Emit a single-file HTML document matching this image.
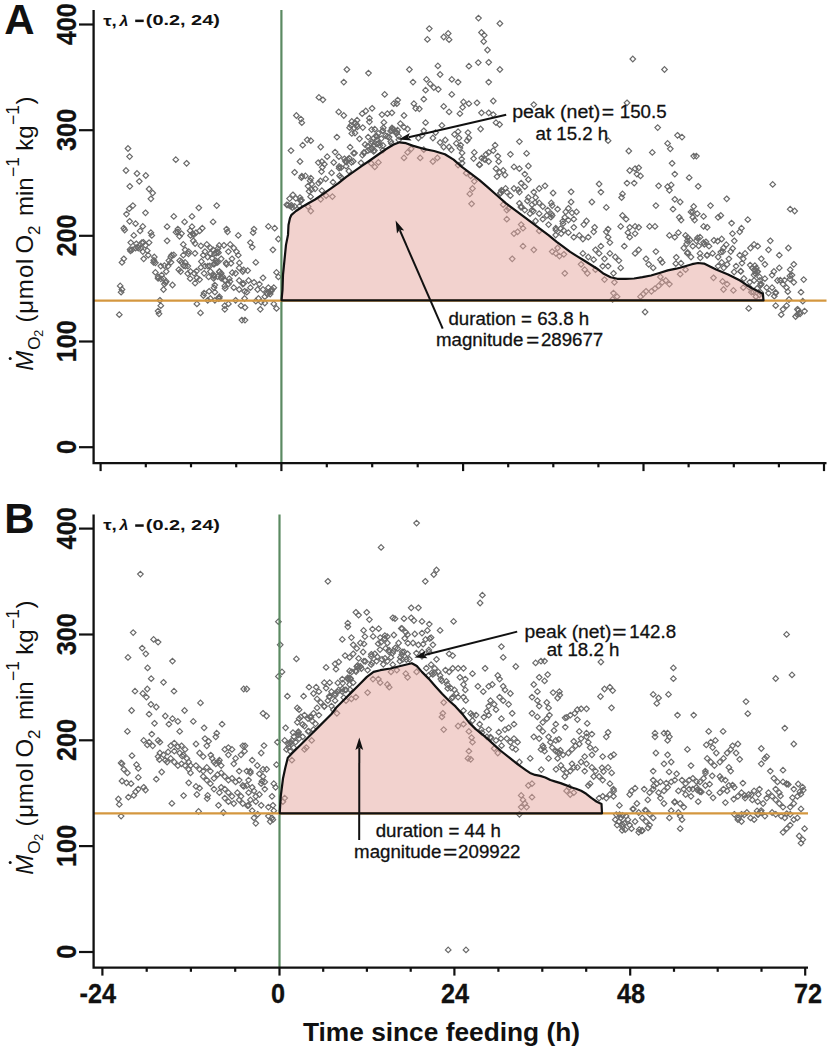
<!DOCTYPE html>
<html><head><meta charset="utf-8"><style>
html,body{margin:0;padding:0;background:#fff;}
svg{display:block;font-family:"Liberation Sans",sans-serif;}
.b{font-weight:bold;}
text{fill:#111;}
.ann{stroke:#111;stroke-width:0.3;}
.pts path{fill:none;stroke:#6a6a6a;stroke-width:1.2;}
</style></head><body>
<svg width="832" height="1052" viewBox="0 0 832 1052">
<g class="pts">
<path d="M128.0 145.7l2.8 2.8l-2.8 2.8l-2.8 -2.8z"/>
<path d="M129.6 153.8l2.8 2.8l-2.8 2.8l-2.8 -2.8z"/>
<path d="M126.0 167.7l2.8 2.8l-2.8 2.8l-2.8 -2.8z"/>
<path d="M137.0 170.7l2.8 2.8l-2.8 2.8l-2.8 -2.8z"/>
<path d="M145.8 172.7l2.8 2.8l-2.8 2.8l-2.8 -2.8z"/>
<path d="M139.3 178.5l2.8 2.8l-2.8 2.8l-2.8 -2.8z"/>
<path d="M129.8 183.5l2.8 2.8l-2.8 2.8l-2.8 -2.8z"/>
<path d="M149.1 186.2l2.8 2.8l-2.8 2.8l-2.8 -2.8z"/>
<path d="M152.7 190.2l2.8 2.8l-2.8 2.8l-2.8 -2.8z"/>
<path d="M150.9 196.0l2.8 2.8l-2.8 2.8l-2.8 -2.8z"/>
<path d="M132.9 202.8l2.8 2.8l-2.8 2.8l-2.8 -2.8z"/>
<path d="M129.3 205.9l2.8 2.8l-2.8 2.8l-2.8 -2.8z"/>
<path d="M126.5 211.3l2.8 2.8l-2.8 2.8l-2.8 -2.8z"/>
<path d="M145.5 210.0l2.8 2.8l-2.8 2.8l-2.8 -2.8z"/>
<path d="M175.8 156.9l2.8 2.8l-2.8 2.8l-2.8 -2.8z"/>
<path d="M186.6 160.5l2.8 2.8l-2.8 2.8l-2.8 -2.8z"/>
<path d="M173.8 213.6l2.8 2.8l-2.8 2.8l-2.8 -2.8z"/>
<path d="M184.6 219.1l2.8 2.8l-2.8 2.8l-2.8 -2.8z"/>
<path d="M192.0 213.6l2.8 2.8l-2.8 2.8l-2.8 -2.8z"/>
<path d="M198.8 205.0l2.8 2.8l-2.8 2.8l-2.8 -2.8z"/>
<path d="M216.7 202.8l2.8 2.8l-2.8 2.8l-2.8 -2.8z"/>
<path d="M213.1 219.1l2.8 2.8l-2.8 2.8l-2.8 -2.8z"/>
<path d="M129.6 218.5l2.8 2.8l-2.8 2.8l-2.8 -2.8z"/>
<path d="M135.6 220.9l2.8 2.8l-2.8 2.8l-2.8 -2.8z"/>
<path d="M123.8 225.4l2.8 2.8l-2.8 2.8l-2.8 -2.8z"/>
<path d="M142.8 223.6l2.8 2.8l-2.8 2.8l-2.8 -2.8z"/>
<path d="M167.1 223.9l2.8 2.8l-2.8 2.8l-2.8 -2.8z"/>
<path d="M177.9 226.3l2.8 2.8l-2.8 2.8l-2.8 -2.8z"/>
<path d="M192.0 223.9l2.8 2.8l-2.8 2.8l-2.8 -2.8z"/>
<path d="M202.3 225.4l2.8 2.8l-2.8 2.8l-2.8 -2.8z"/>
<path d="M226.6 226.3l2.8 2.8l-2.8 2.8l-2.8 -2.8z"/>
<path d="M133.8 232.6l2.8 2.8l-2.8 2.8l-2.8 -2.8z"/>
<path d="M167.1 238.0l2.8 2.8l-2.8 2.8l-2.8 -2.8z"/>
<path d="M227.5 229.0l2.8 2.8l-2.8 2.8l-2.8 -2.8z"/>
<path d="M238.3 232.6l2.8 2.8l-2.8 2.8l-2.8 -2.8z"/>
<path d="M123.8 256.0l2.8 2.8l-2.8 2.8l-2.8 -2.8z"/>
<path d="M122.0 259.6l2.8 2.8l-2.8 2.8l-2.8 -2.8z"/>
<path d="M120.2 283.1l2.8 2.8l-2.8 2.8l-2.8 -2.8z"/>
<path d="M122.0 286.7l2.8 2.8l-2.8 2.8l-2.8 -2.8z"/>
<path d="M121.1 289.4l2.8 2.8l-2.8 2.8l-2.8 -2.8z"/>
<path d="M119.3 311.9l2.8 2.8l-2.8 2.8l-2.8 -2.8z"/>
<path d="M159.9 297.5l2.8 2.8l-2.8 2.8l-2.8 -2.8z"/>
<path d="M160.8 302.9l2.8 2.8l-2.8 2.8l-2.8 -2.8z"/>
<path d="M158.1 308.3l2.8 2.8l-2.8 2.8l-2.8 -2.8z"/>
<path d="M196.9 301.1l2.8 2.8l-2.8 2.8l-2.8 -2.8z"/>
<path d="M200.5 310.1l2.8 2.8l-2.8 2.8l-2.8 -2.8z"/>
<path d="M224.8 302.9l2.8 2.8l-2.8 2.8l-2.8 -2.8z"/>
<path d="M228.4 301.1l2.8 2.8l-2.8 2.8l-2.8 -2.8z"/>
<path d="M241.9 317.3l2.8 2.8l-2.8 2.8l-2.8 -2.8z"/>
<path d="M172.5 282.2l2.8 2.8l-2.8 2.8l-2.8 -2.8z"/>
<path d="M163.5 286.7l2.8 2.8l-2.8 2.8l-2.8 -2.8z"/>
<path d="M180.6 268.7l2.8 2.8l-2.8 2.8l-2.8 -2.8z"/>
<path d="M124.7 227.2l2.8 2.8l-2.8 2.8l-2.8 -2.8z"/>
<path d="M140.1 228.1l2.8 2.8l-2.8 2.8l-2.8 -2.8z"/>
<path d="M150.9 229.9l2.8 2.8l-2.8 2.8l-2.8 -2.8z"/>
<path d="M151.8 232.6l2.8 2.8l-2.8 2.8l-2.8 -2.8z"/>
<path d="M177.9 229.0l2.8 2.8l-2.8 2.8l-2.8 -2.8z"/>
<path d="M181.5 230.8l2.8 2.8l-2.8 2.8l-2.8 -2.8z"/>
<path d="M190.5 232.6l2.8 2.8l-2.8 2.8l-2.8 -2.8z"/>
<path d="M196.0 229.9l2.8 2.8l-2.8 2.8l-2.8 -2.8z"/>
<path d="M199.6 228.1l2.8 2.8l-2.8 2.8l-2.8 -2.8z"/>
<path d="M193.3 238.0l2.8 2.8l-2.8 2.8l-2.8 -2.8z"/>
<path d="M195.1 240.7l2.8 2.8l-2.8 2.8l-2.8 -2.8z"/>
<path d="M137.4 244.3l2.8 2.8l-2.8 2.8l-2.8 -2.8z"/>
<path d="M132.0 247.0l2.8 2.8l-2.8 2.8l-2.8 -2.8z"/>
<path d="M141.9 239.8l2.8 2.8l-2.8 2.8l-2.8 -2.8z"/>
<path d="M145.5 242.5l2.8 2.8l-2.8 2.8l-2.8 -2.8z"/>
<path d="M149.1 239.8l2.8 2.8l-2.8 2.8l-2.8 -2.8z"/>
<path d="M142.8 248.8l2.8 2.8l-2.8 2.8l-2.8 -2.8z"/>
<path d="M147.3 247.9l2.8 2.8l-2.8 2.8l-2.8 -2.8z"/>
<path d="M143.7 256.0l2.8 2.8l-2.8 2.8l-2.8 -2.8z"/>
<path d="M148.2 252.4l2.8 2.8l-2.8 2.8l-2.8 -2.8z"/>
<path d="M135.6 245.2l2.8 2.8l-2.8 2.8l-2.8 -2.8z"/>
<path d="M138.3 245.2l2.8 2.8l-2.8 2.8l-2.8 -2.8z"/>
<path d="M153.6 259.6l2.8 2.8l-2.8 2.8l-2.8 -2.8z"/>
<path d="M155.4 260.0l2.8 2.8l-2.8 2.8l-2.8 -2.8z"/>
<path d="M160.8 263.3l2.8 2.8l-2.8 2.8l-2.8 -2.8z"/>
<path d="M170.7 254.2l2.8 2.8l-2.8 2.8l-2.8 -2.8z"/>
<path d="M171.6 252.4l2.8 2.8l-2.8 2.8l-2.8 -2.8z"/>
<path d="M168.9 257.8l2.8 2.8l-2.8 2.8l-2.8 -2.8z"/>
<path d="M168.0 263.3l2.8 2.8l-2.8 2.8l-2.8 -2.8z"/>
<path d="M166.2 268.7l2.8 2.8l-2.8 2.8l-2.8 -2.8z"/>
<path d="M161.7 272.3l2.8 2.8l-2.8 2.8l-2.8 -2.8z"/>
<path d="M155.4 269.6l2.8 2.8l-2.8 2.8l-2.8 -2.8z"/>
<path d="M158.1 274.1l2.8 2.8l-2.8 2.8l-2.8 -2.8z"/>
<path d="M163.5 275.9l2.8 2.8l-2.8 2.8l-2.8 -2.8z"/>
<path d="M166.2 278.6l2.8 2.8l-2.8 2.8l-2.8 -2.8z"/>
<path d="M164.4 281.3l2.8 2.8l-2.8 2.8l-2.8 -2.8z"/>
<path d="M183.3 241.6l2.8 2.8l-2.8 2.8l-2.8 -2.8z"/>
<path d="M185.1 247.0l2.8 2.8l-2.8 2.8l-2.8 -2.8z"/>
<path d="M183.3 252.4l2.8 2.8l-2.8 2.8l-2.8 -2.8z"/>
<path d="M188.7 248.8l2.8 2.8l-2.8 2.8l-2.8 -2.8z"/>
<path d="M179.7 257.8l2.8 2.8l-2.8 2.8l-2.8 -2.8z"/>
<path d="M185.1 259.6l2.8 2.8l-2.8 2.8l-2.8 -2.8z"/>
<path d="M187.8 263.3l2.8 2.8l-2.8 2.8l-2.8 -2.8z"/>
<path d="M190.5 268.7l2.8 2.8l-2.8 2.8l-2.8 -2.8z"/>
<path d="M194.2 270.5l2.8 2.8l-2.8 2.8l-2.8 -2.8z"/>
<path d="M196.9 275.0l2.8 2.8l-2.8 2.8l-2.8 -2.8z"/>
<path d="M195.1 280.4l2.8 2.8l-2.8 2.8l-2.8 -2.8z"/>
<path d="M199.6 276.8l2.8 2.8l-2.8 2.8l-2.8 -2.8z"/>
<path d="M206.8 241.6l2.8 2.8l-2.8 2.8l-2.8 -2.8z"/>
<path d="M210.4 245.2l2.8 2.8l-2.8 2.8l-2.8 -2.8z"/>
<path d="M205.0 248.8l2.8 2.8l-2.8 2.8l-2.8 -2.8z"/>
<path d="M203.2 252.4l2.8 2.8l-2.8 2.8l-2.8 -2.8z"/>
<path d="M207.7 254.2l2.8 2.8l-2.8 2.8l-2.8 -2.8z"/>
<path d="M210.4 250.6l2.8 2.8l-2.8 2.8l-2.8 -2.8z"/>
<path d="M213.1 247.0l2.8 2.8l-2.8 2.8l-2.8 -2.8z"/>
<path d="M201.4 258.7l2.8 2.8l-2.8 2.8l-2.8 -2.8z"/>
<path d="M205.0 263.3l2.8 2.8l-2.8 2.8l-2.8 -2.8z"/>
<path d="M204.1 270.5l2.8 2.8l-2.8 2.8l-2.8 -2.8z"/>
<path d="M208.6 274.1l2.8 2.8l-2.8 2.8l-2.8 -2.8z"/>
<path d="M210.4 268.7l2.8 2.8l-2.8 2.8l-2.8 -2.8z"/>
<path d="M214.0 272.3l2.8 2.8l-2.8 2.8l-2.8 -2.8z"/>
<path d="M223.9 242.5l2.8 2.8l-2.8 2.8l-2.8 -2.8z"/>
<path d="M230.2 241.6l2.8 2.8l-2.8 2.8l-2.8 -2.8z"/>
<path d="M233.8 245.2l2.8 2.8l-2.8 2.8l-2.8 -2.8z"/>
<path d="M228.4 248.8l2.8 2.8l-2.8 2.8l-2.8 -2.8z"/>
<path d="M236.5 248.8l2.8 2.8l-2.8 2.8l-2.8 -2.8z"/>
<path d="M238.3 252.4l2.8 2.8l-2.8 2.8l-2.8 -2.8z"/>
<path d="M232.0 256.0l2.8 2.8l-2.8 2.8l-2.8 -2.8z"/>
<path d="M226.6 261.5l2.8 2.8l-2.8 2.8l-2.8 -2.8z"/>
<path d="M221.2 256.0l2.8 2.8l-2.8 2.8l-2.8 -2.8z"/>
<path d="M217.6 259.6l2.8 2.8l-2.8 2.8l-2.8 -2.8z"/>
<path d="M214.0 261.5l2.8 2.8l-2.8 2.8l-2.8 -2.8z"/>
<path d="M219.4 268.7l2.8 2.8l-2.8 2.8l-2.8 -2.8z"/>
<path d="M221.2 274.1l2.8 2.8l-2.8 2.8l-2.8 -2.8z"/>
<path d="M224.8 277.7l2.8 2.8l-2.8 2.8l-2.8 -2.8z"/>
<path d="M228.4 281.3l2.8 2.8l-2.8 2.8l-2.8 -2.8z"/>
<path d="M224.8 283.1l2.8 2.8l-2.8 2.8l-2.8 -2.8z"/>
<path d="M221.2 270.5l2.8 2.8l-2.8 2.8l-2.8 -2.8z"/>
<path d="M229.3 275.9l2.8 2.8l-2.8 2.8l-2.8 -2.8z"/>
<path d="M239.2 265.1l2.8 2.8l-2.8 2.8l-2.8 -2.8z"/>
<path d="M242.8 268.7l2.8 2.8l-2.8 2.8l-2.8 -2.8z"/>
<path d="M235.6 270.5l2.8 2.8l-2.8 2.8l-2.8 -2.8z"/>
<path d="M239.2 277.7l2.8 2.8l-2.8 2.8l-2.8 -2.8z"/>
<path d="M242.8 281.3l2.8 2.8l-2.8 2.8l-2.8 -2.8z"/>
<path d="M233.8 284.9l2.8 2.8l-2.8 2.8l-2.8 -2.8z"/>
<path d="M239.2 286.7l2.8 2.8l-2.8 2.8l-2.8 -2.8z"/>
<path d="M244.6 288.5l2.8 2.8l-2.8 2.8l-2.8 -2.8z"/>
<path d="M214.0 284.9l2.8 2.8l-2.8 2.8l-2.8 -2.8z"/>
<path d="M214.9 289.4l2.8 2.8l-2.8 2.8l-2.8 -2.8z"/>
<path d="M204.1 290.3l2.8 2.8l-2.8 2.8l-2.8 -2.8z"/>
<path d="M210.4 295.7l2.8 2.8l-2.8 2.8l-2.8 -2.8z"/>
<path d="M207.7 297.5l2.8 2.8l-2.8 2.8l-2.8 -2.8z"/>
<path d="M214.9 297.5l2.8 2.8l-2.8 2.8l-2.8 -2.8z"/>
<path d="M219.4 293.9l2.8 2.8l-2.8 2.8l-2.8 -2.8z"/>
<path d="M159.0 311.0l2.8 2.8l-2.8 2.8l-2.8 -2.8z"/>
<path d="M224.8 306.5l2.8 2.8l-2.8 2.8l-2.8 -2.8z"/>
<path d="M235.6 297.5l2.8 2.8l-2.8 2.8l-2.8 -2.8z"/>
<path d="M241.0 302.9l2.8 2.8l-2.8 2.8l-2.8 -2.8z"/>
<path d="M244.6 295.7l2.8 2.8l-2.8 2.8l-2.8 -2.8z"/>
<path d="M136.3 241.0l2.8 2.8l-2.8 2.8l-2.8 -2.8z"/>
<path d="M143.3 239.5l2.8 2.8l-2.8 2.8l-2.8 -2.8z"/>
<path d="M140.8 245.3l2.8 2.8l-2.8 2.8l-2.8 -2.8z"/>
<path d="M130.5 248.1l2.8 2.8l-2.8 2.8l-2.8 -2.8z"/>
<path d="M130.1 246.6l2.8 2.8l-2.8 2.8l-2.8 -2.8z"/>
<path d="M130.8 239.8l2.8 2.8l-2.8 2.8l-2.8 -2.8z"/>
<path d="M160.8 276.0l2.8 2.8l-2.8 2.8l-2.8 -2.8z"/>
<path d="M153.8 257.5l2.8 2.8l-2.8 2.8l-2.8 -2.8z"/>
<path d="M165.6 279.7l2.8 2.8l-2.8 2.8l-2.8 -2.8z"/>
<path d="M164.4 262.8l2.8 2.8l-2.8 2.8l-2.8 -2.8z"/>
<path d="M173.8 252.1l2.8 2.8l-2.8 2.8l-2.8 -2.8z"/>
<path d="M171.0 259.5l2.8 2.8l-2.8 2.8l-2.8 -2.8z"/>
<path d="M154.3 254.2l2.8 2.8l-2.8 2.8l-2.8 -2.8z"/>
<path d="M158.1 275.6l2.8 2.8l-2.8 2.8l-2.8 -2.8z"/>
<path d="M179.5 233.5l2.8 2.8l-2.8 2.8l-2.8 -2.8z"/>
<path d="M192.8 231.2l2.8 2.8l-2.8 2.8l-2.8 -2.8z"/>
<path d="M190.1 227.9l2.8 2.8l-2.8 2.8l-2.8 -2.8z"/>
<path d="M176.0 229.4l2.8 2.8l-2.8 2.8l-2.8 -2.8z"/>
<path d="M193.9 231.8l2.8 2.8l-2.8 2.8l-2.8 -2.8z"/>
<path d="M185.3 263.4l2.8 2.8l-2.8 2.8l-2.8 -2.8z"/>
<path d="M188.5 251.0l2.8 2.8l-2.8 2.8l-2.8 -2.8z"/>
<path d="M196.5 268.3l2.8 2.8l-2.8 2.8l-2.8 -2.8z"/>
<path d="M183.6 262.9l2.8 2.8l-2.8 2.8l-2.8 -2.8z"/>
<path d="M190.2 275.9l2.8 2.8l-2.8 2.8l-2.8 -2.8z"/>
<path d="M195.0 250.5l2.8 2.8l-2.8 2.8l-2.8 -2.8z"/>
<path d="M200.9 243.1l2.8 2.8l-2.8 2.8l-2.8 -2.8z"/>
<path d="M187.7 270.8l2.8 2.8l-2.8 2.8l-2.8 -2.8z"/>
<path d="M181.5 259.2l2.8 2.8l-2.8 2.8l-2.8 -2.8z"/>
<path d="M178.8 266.9l2.8 2.8l-2.8 2.8l-2.8 -2.8z"/>
<path d="M216.1 259.7l2.8 2.8l-2.8 2.8l-2.8 -2.8z"/>
<path d="M218.5 249.9l2.8 2.8l-2.8 2.8l-2.8 -2.8z"/>
<path d="M214.6 260.5l2.8 2.8l-2.8 2.8l-2.8 -2.8z"/>
<path d="M212.1 255.3l2.8 2.8l-2.8 2.8l-2.8 -2.8z"/>
<path d="M217.7 273.8l2.8 2.8l-2.8 2.8l-2.8 -2.8z"/>
<path d="M209.8 263.2l2.8 2.8l-2.8 2.8l-2.8 -2.8z"/>
<path d="M200.9 264.6l2.8 2.8l-2.8 2.8l-2.8 -2.8z"/>
<path d="M213.6 275.6l2.8 2.8l-2.8 2.8l-2.8 -2.8z"/>
<path d="M217.3 248.8l2.8 2.8l-2.8 2.8l-2.8 -2.8z"/>
<path d="M207.9 263.3l2.8 2.8l-2.8 2.8l-2.8 -2.8z"/>
<path d="M214.7 250.6l2.8 2.8l-2.8 2.8l-2.8 -2.8z"/>
<path d="M219.2 242.6l2.8 2.8l-2.8 2.8l-2.8 -2.8z"/>
<path d="M215.8 257.8l2.8 2.8l-2.8 2.8l-2.8 -2.8z"/>
<path d="M218.0 245.6l2.8 2.8l-2.8 2.8l-2.8 -2.8z"/>
<path d="M226.1 260.2l2.8 2.8l-2.8 2.8l-2.8 -2.8z"/>
<path d="M216.5 250.3l2.8 2.8l-2.8 2.8l-2.8 -2.8z"/>
<path d="M231.0 260.5l2.8 2.8l-2.8 2.8l-2.8 -2.8z"/>
<path d="M239.4 260.1l2.8 2.8l-2.8 2.8l-2.8 -2.8z"/>
<path d="M222.6 273.7l2.8 2.8l-2.8 2.8l-2.8 -2.8z"/>
<path d="M225.1 285.6l2.8 2.8l-2.8 2.8l-2.8 -2.8z"/>
<path d="M243.7 267.1l2.8 2.8l-2.8 2.8l-2.8 -2.8z"/>
<path d="M219.4 269.1l2.8 2.8l-2.8 2.8l-2.8 -2.8z"/>
<path d="M221.2 275.5l2.8 2.8l-2.8 2.8l-2.8 -2.8z"/>
<path d="M232.3 269.9l2.8 2.8l-2.8 2.8l-2.8 -2.8z"/>
<path d="M214.1 273.8l2.8 2.8l-2.8 2.8l-2.8 -2.8z"/>
<path d="M225.4 277.5l2.8 2.8l-2.8 2.8l-2.8 -2.8z"/>
<path d="M243.5 280.7l2.8 2.8l-2.8 2.8l-2.8 -2.8z"/>
<path d="M230.0 278.8l2.8 2.8l-2.8 2.8l-2.8 -2.8z"/>
<path d="M214.8 282.3l2.8 2.8l-2.8 2.8l-2.8 -2.8z"/>
<path d="M219.2 295.3l2.8 2.8l-2.8 2.8l-2.8 -2.8z"/>
<path d="M218.7 295.7l2.8 2.8l-2.8 2.8l-2.8 -2.8z"/>
<path d="M209.1 288.5l2.8 2.8l-2.8 2.8l-2.8 -2.8z"/>
<path d="M203.4 292.7l2.8 2.8l-2.8 2.8l-2.8 -2.8z"/>
<path d="M301.8 119.9l2.8 2.8l-2.8 2.8l-2.8 -2.8z"/>
<path d="M336.9 134.3l2.8 2.8l-2.8 2.8l-2.8 -2.8z"/>
<path d="M291.0 147.8l2.8 2.8l-2.8 2.8l-2.8 -2.8z"/>
<path d="M302.7 142.4l2.8 2.8l-2.8 2.8l-2.8 -2.8z"/>
<path d="M307.2 137.0l2.8 2.8l-2.8 2.8l-2.8 -2.8z"/>
<path d="M310.8 137.9l2.8 2.8l-2.8 2.8l-2.8 -2.8z"/>
<path d="M320.7 144.2l2.8 2.8l-2.8 2.8l-2.8 -2.8z"/>
<path d="M300.0 158.7l2.8 2.8l-2.8 2.8l-2.8 -2.8z"/>
<path d="M294.6 169.5l2.8 2.8l-2.8 2.8l-2.8 -2.8z"/>
<path d="M305.4 173.1l2.8 2.8l-2.8 2.8l-2.8 -2.8z"/>
<path d="M369.4 119.0l2.8 2.8l-2.8 2.8l-2.8 -2.8z"/>
<path d="M268.4 223.6l2.8 2.8l-2.8 2.8l-2.8 -2.8z"/>
<path d="M274.7 225.4l2.8 2.8l-2.8 2.8l-2.8 -2.8z"/>
<path d="M254.0 226.3l2.8 2.8l-2.8 2.8l-2.8 -2.8z"/>
<path d="M308.1 203.7l2.8 2.8l-2.8 2.8l-2.8 -2.8z"/>
<path d="M310.8 208.2l2.8 2.8l-2.8 2.8l-2.8 -2.8z"/>
<path d="M320.7 196.5l2.8 2.8l-2.8 2.8l-2.8 -2.8z"/>
<path d="M326.1 192.9l2.8 2.8l-2.8 2.8l-2.8 -2.8z"/>
<path d="M332.4 193.8l2.8 2.8l-2.8 2.8l-2.8 -2.8z"/>
<path d="M371.2 160.5l2.8 2.8l-2.8 2.8l-2.8 -2.8z"/>
<path d="M378.4 159.6l2.8 2.8l-2.8 2.8l-2.8 -2.8z"/>
<path d="M374.8 164.1l2.8 2.8l-2.8 2.8l-2.8 -2.8z"/>
<path d="M350.9 122.6l2.8 2.8l-2.8 2.8l-2.8 -2.8z"/>
<path d="M354.1 125.2l2.8 2.8l-2.8 2.8l-2.8 -2.8z"/>
<path d="M356.9 122.2l2.8 2.8l-2.8 2.8l-2.8 -2.8z"/>
<path d="M349.6 124.9l2.8 2.8l-2.8 2.8l-2.8 -2.8z"/>
<path d="M351.8 130.6l2.8 2.8l-2.8 2.8l-2.8 -2.8z"/>
<path d="M350.1 144.4l2.8 2.8l-2.8 2.8l-2.8 -2.8z"/>
<path d="M362.8 124.8l2.8 2.8l-2.8 2.8l-2.8 -2.8z"/>
<path d="M355.0 130.2l2.8 2.8l-2.8 2.8l-2.8 -2.8z"/>
<path d="M357.4 124.1l2.8 2.8l-2.8 2.8l-2.8 -2.8z"/>
<path d="M367.9 147.7l2.8 2.8l-2.8 2.8l-2.8 -2.8z"/>
<path d="M381.3 135.8l2.8 2.8l-2.8 2.8l-2.8 -2.8z"/>
<path d="M371.6 126.8l2.8 2.8l-2.8 2.8l-2.8 -2.8z"/>
<path d="M378.2 130.6l2.8 2.8l-2.8 2.8l-2.8 -2.8z"/>
<path d="M390.6 128.2l2.8 2.8l-2.8 2.8l-2.8 -2.8z"/>
<path d="M370.0 146.7l2.8 2.8l-2.8 2.8l-2.8 -2.8z"/>
<path d="M382.9 127.8l2.8 2.8l-2.8 2.8l-2.8 -2.8z"/>
<path d="M383.3 125.0l2.8 2.8l-2.8 2.8l-2.8 -2.8z"/>
<path d="M382.9 147.3l2.8 2.8l-2.8 2.8l-2.8 -2.8z"/>
<path d="M391.5 140.7l2.8 2.8l-2.8 2.8l-2.8 -2.8z"/>
<path d="M376.1 133.0l2.8 2.8l-2.8 2.8l-2.8 -2.8z"/>
<path d="M373.7 142.5l2.8 2.8l-2.8 2.8l-2.8 -2.8z"/>
<path d="M383.0 142.7l2.8 2.8l-2.8 2.8l-2.8 -2.8z"/>
<path d="M383.9 119.6l2.8 2.8l-2.8 2.8l-2.8 -2.8z"/>
<path d="M391.9 127.9l2.8 2.8l-2.8 2.8l-2.8 -2.8z"/>
<path d="M392.5 125.9l2.8 2.8l-2.8 2.8l-2.8 -2.8z"/>
<path d="M392.0 125.2l2.8 2.8l-2.8 2.8l-2.8 -2.8z"/>
<path d="M355.0 120.0l2.8 2.8l-2.8 2.8l-2.8 -2.8z"/>
<path d="M357.1 117.4l2.8 2.8l-2.8 2.8l-2.8 -2.8z"/>
<path d="M351.8 118.7l2.8 2.8l-2.8 2.8l-2.8 -2.8z"/>
<path d="M346.9 66.7l2.8 2.8l-2.8 2.8l-2.8 -2.8z"/>
<path d="M368.5 70.3l2.8 2.8l-2.8 2.8l-2.8 -2.8z"/>
<path d="M343.8 79.3l2.8 2.8l-2.8 2.8l-2.8 -2.8z"/>
<path d="M318.9 94.6l2.8 2.8l-2.8 2.8l-2.8 -2.8z"/>
<path d="M322.9 97.0l2.8 2.8l-2.8 2.8l-2.8 -2.8z"/>
<path d="M384.7 91.6l2.8 2.8l-2.8 2.8l-2.8 -2.8z"/>
<path d="M296.4 112.7l2.8 2.8l-2.8 2.8l-2.8 -2.8z"/>
<path d="M338.7 109.1l2.8 2.8l-2.8 2.8l-2.8 -2.8z"/>
<path d="M343.8 112.7l2.8 2.8l-2.8 2.8l-2.8 -2.8z"/>
<path d="M362.2 110.9l2.8 2.8l-2.8 2.8l-2.8 -2.8z"/>
<path d="M365.8 108.2l2.8 2.8l-2.8 2.8l-2.8 -2.8z"/>
<path d="M372.1 105.5l2.8 2.8l-2.8 2.8l-2.8 -2.8z"/>
<path d="M382.0 111.8l2.8 2.8l-2.8 2.8l-2.8 -2.8z"/>
<path d="M387.4 110.9l2.8 2.8l-2.8 2.8l-2.8 -2.8z"/>
<path d="M391.9 110.0l2.8 2.8l-2.8 2.8l-2.8 -2.8z"/>
<path d="M393.7 100.9l2.8 2.8l-2.8 2.8l-2.8 -2.8z"/>
<path d="M369.4 115.4l2.8 2.8l-2.8 2.8l-2.8 -2.8z"/>
<path d="M300.9 116.3l2.8 2.8l-2.8 2.8l-2.8 -2.8z"/>
<path d="M478.5 15.3l2.8 2.8l-2.8 2.8l-2.8 -2.8z"/>
<path d="M499.9 20.7l2.8 2.8l-2.8 2.8l-2.8 -2.8z"/>
<path d="M429.3 25.8l2.8 2.8l-2.8 2.8l-2.8 -2.8z"/>
<path d="M427.4 36.6l2.8 2.8l-2.8 2.8l-2.8 -2.8z"/>
<path d="M443.7 34.2l2.8 2.8l-2.8 2.8l-2.8 -2.8z"/>
<path d="M448.2 30.6l2.8 2.8l-2.8 2.8l-2.8 -2.8z"/>
<path d="M449.1 36.9l2.8 2.8l-2.8 2.8l-2.8 -2.8z"/>
<path d="M481.5 29.7l2.8 2.8l-2.8 2.8l-2.8 -2.8z"/>
<path d="M484.2 32.4l2.8 2.8l-2.8 2.8l-2.8 -2.8z"/>
<path d="M483.7 38.7l2.8 2.8l-2.8 2.8l-2.8 -2.8z"/>
<path d="M487.5 47.2l2.8 2.8l-2.8 2.8l-2.8 -2.8z"/>
<path d="M409.4 66.7l2.8 2.8l-2.8 2.8l-2.8 -2.8z"/>
<path d="M437.9 63.1l2.8 2.8l-2.8 2.8l-2.8 -2.8z"/>
<path d="M440.1 71.7l2.8 2.8l-2.8 2.8l-2.8 -2.8z"/>
<path d="M468.9 63.4l2.8 2.8l-2.8 2.8l-2.8 -2.8z"/>
<path d="M478.3 59.8l2.8 2.8l-2.8 2.8l-2.8 -2.8z"/>
<path d="M488.7 59.5l2.8 2.8l-2.8 2.8l-2.8 -2.8z"/>
<path d="M499.9 66.7l2.8 2.8l-2.8 2.8l-2.8 -2.8z"/>
<path d="M413.0 79.3l2.8 2.8l-2.8 2.8l-2.8 -2.8z"/>
<path d="M426.5 76.6l2.8 2.8l-2.8 2.8l-2.8 -2.8z"/>
<path d="M430.2 81.1l2.8 2.8l-2.8 2.8l-2.8 -2.8z"/>
<path d="M433.8 84.7l2.8 2.8l-2.8 2.8l-2.8 -2.8z"/>
<path d="M438.3 86.5l2.8 2.8l-2.8 2.8l-2.8 -2.8z"/>
<path d="M451.8 76.6l2.8 2.8l-2.8 2.8l-2.8 -2.8z"/>
<path d="M458.1 79.3l2.8 2.8l-2.8 2.8l-2.8 -2.8z"/>
<path d="M488.7 79.3l2.8 2.8l-2.8 2.8l-2.8 -2.8z"/>
<path d="M425.6 87.4l2.8 2.8l-2.8 2.8l-2.8 -2.8z"/>
<path d="M423.8 96.4l2.8 2.8l-2.8 2.8l-2.8 -2.8z"/>
<path d="M451.8 91.6l2.8 2.8l-2.8 2.8l-2.8 -2.8z"/>
<path d="M397.7 97.3l2.8 2.8l-2.8 2.8l-2.8 -2.8z"/>
<path d="M396.8 100.9l2.8 2.8l-2.8 2.8l-2.8 -2.8z"/>
<path d="M413.9 100.9l2.8 2.8l-2.8 2.8l-2.8 -2.8z"/>
<path d="M415.7 105.5l2.8 2.8l-2.8 2.8l-2.8 -2.8z"/>
<path d="M419.3 106.0l2.8 2.8l-2.8 2.8l-2.8 -2.8z"/>
<path d="M404.0 112.7l2.8 2.8l-2.8 2.8l-2.8 -2.8z"/>
<path d="M443.7 103.6l2.8 2.8l-2.8 2.8l-2.8 -2.8z"/>
<path d="M449.1 109.1l2.8 2.8l-2.8 2.8l-2.8 -2.8z"/>
<path d="M463.5 99.1l2.8 2.8l-2.8 2.8l-2.8 -2.8z"/>
<path d="M462.6 104.5l2.8 2.8l-2.8 2.8l-2.8 -2.8z"/>
<path d="M459.9 110.9l2.8 2.8l-2.8 2.8l-2.8 -2.8z"/>
<path d="M468.9 100.9l2.8 2.8l-2.8 2.8l-2.8 -2.8z"/>
<path d="M477.0 100.0l2.8 2.8l-2.8 2.8l-2.8 -2.8z"/>
<path d="M493.3 98.2l2.8 2.8l-2.8 2.8l-2.8 -2.8z"/>
<path d="M481.5 110.0l2.8 2.8l-2.8 2.8l-2.8 -2.8z"/>
<path d="M488.7 110.0l2.8 2.8l-2.8 2.8l-2.8 -2.8z"/>
<path d="M493.3 111.8l2.8 2.8l-2.8 2.8l-2.8 -2.8z"/>
<path d="M533.8 101.8l2.8 2.8l-2.8 2.8l-2.8 -2.8z"/>
<path d="M632.8 56.2l2.8 2.8l-2.8 2.8l-2.8 -2.8z"/>
<path d="M664.5 66.7l2.8 2.8l-2.8 2.8l-2.8 -2.8z"/>
<path d="M627.0 100.0l2.8 2.8l-2.8 2.8l-2.8 -2.8z"/>
<path d="M404.0 155.1l2.8 2.8l-2.8 2.8l-2.8 -2.8z"/>
<path d="M407.6 149.6l2.8 2.8l-2.8 2.8l-2.8 -2.8z"/>
<path d="M411.2 146.0l2.8 2.8l-2.8 2.8l-2.8 -2.8z"/>
<path d="M420.2 155.1l2.8 2.8l-2.8 2.8l-2.8 -2.8z"/>
<path d="M423.8 146.9l2.8 2.8l-2.8 2.8l-2.8 -2.8z"/>
<path d="M432.9 158.7l2.8 2.8l-2.8 2.8l-2.8 -2.8z"/>
<path d="M437.4 155.1l2.8 2.8l-2.8 2.8l-2.8 -2.8z"/>
<path d="M458.1 162.3l2.8 2.8l-2.8 2.8l-2.8 -2.8z"/>
<path d="M466.2 170.4l2.8 2.8l-2.8 2.8l-2.8 -2.8z"/>
<path d="M470.7 173.1l2.8 2.8l-2.8 2.8l-2.8 -2.8z"/>
<path d="M474.3 178.5l2.8 2.8l-2.8 2.8l-2.8 -2.8z"/>
<path d="M472.5 185.7l2.8 2.8l-2.8 2.8l-2.8 -2.8z"/>
<path d="M469.8 191.1l2.8 2.8l-2.8 2.8l-2.8 -2.8z"/>
<path d="M471.6 201.0l2.8 2.8l-2.8 2.8l-2.8 -2.8z"/>
<path d="M503.2 201.9l2.8 2.8l-2.8 2.8l-2.8 -2.8z"/>
<path d="M506.8 207.3l2.8 2.8l-2.8 2.8l-2.8 -2.8z"/>
<path d="M508.6 205.5l2.8 2.8l-2.8 2.8l-2.8 -2.8z"/>
<path d="M506.8 216.4l2.8 2.8l-2.8 2.8l-2.8 -2.8z"/>
<path d="M521.2 221.8l2.8 2.8l-2.8 2.8l-2.8 -2.8z"/>
<path d="M523.0 225.4l2.8 2.8l-2.8 2.8l-2.8 -2.8z"/>
<path d="M425.6 119.9l2.8 2.8l-2.8 2.8l-2.8 -2.8z"/>
<path d="M441.9 122.6l2.8 2.8l-2.8 2.8l-2.8 -2.8z"/>
<path d="M423.8 128.0l2.8 2.8l-2.8 2.8l-2.8 -2.8z"/>
<path d="M435.6 129.8l2.8 2.8l-2.8 2.8l-2.8 -2.8z"/>
<path d="M432.9 135.2l2.8 2.8l-2.8 2.8l-2.8 -2.8z"/>
<path d="M440.1 139.7l2.8 2.8l-2.8 2.8l-2.8 -2.8z"/>
<path d="M443.7 144.2l2.8 2.8l-2.8 2.8l-2.8 -2.8z"/>
<path d="M449.1 144.2l2.8 2.8l-2.8 2.8l-2.8 -2.8z"/>
<path d="M454.5 131.6l2.8 2.8l-2.8 2.8l-2.8 -2.8z"/>
<path d="M458.1 128.9l2.8 2.8l-2.8 2.8l-2.8 -2.8z"/>
<path d="M459.0 135.2l2.8 2.8l-2.8 2.8l-2.8 -2.8z"/>
<path d="M456.3 140.6l2.8 2.8l-2.8 2.8l-2.8 -2.8z"/>
<path d="M459.9 145.1l2.8 2.8l-2.8 2.8l-2.8 -2.8z"/>
<path d="M468.0 129.8l2.8 2.8l-2.8 2.8l-2.8 -2.8z"/>
<path d="M468.9 135.2l2.8 2.8l-2.8 2.8l-2.8 -2.8z"/>
<path d="M467.1 137.9l2.8 2.8l-2.8 2.8l-2.8 -2.8z"/>
<path d="M480.6 126.2l2.8 2.8l-2.8 2.8l-2.8 -2.8z"/>
<path d="M474.3 149.6l2.8 2.8l-2.8 2.8l-2.8 -2.8z"/>
<path d="M486.0 151.5l2.8 2.8l-2.8 2.8l-2.8 -2.8z"/>
<path d="M488.7 149.6l2.8 2.8l-2.8 2.8l-2.8 -2.8z"/>
<path d="M493.3 147.8l2.8 2.8l-2.8 2.8l-2.8 -2.8z"/>
<path d="M495.1 142.4l2.8 2.8l-2.8 2.8l-2.8 -2.8z"/>
<path d="M485.1 156.9l2.8 2.8l-2.8 2.8l-2.8 -2.8z"/>
<path d="M488.7 158.7l2.8 2.8l-2.8 2.8l-2.8 -2.8z"/>
<path d="M497.8 153.3l2.8 2.8l-2.8 2.8l-2.8 -2.8z"/>
<path d="M498.7 158.7l2.8 2.8l-2.8 2.8l-2.8 -2.8z"/>
<path d="M496.0 165.9l2.8 2.8l-2.8 2.8l-2.8 -2.8z"/>
<path d="M499.6 169.5l2.8 2.8l-2.8 2.8l-2.8 -2.8z"/>
<path d="M503.2 167.7l2.8 2.8l-2.8 2.8l-2.8 -2.8z"/>
<path d="M505.0 172.2l2.8 2.8l-2.8 2.8l-2.8 -2.8z"/>
<path d="M510.4 151.5l2.8 2.8l-2.8 2.8l-2.8 -2.8z"/>
<path d="M519.4 138.8l2.8 2.8l-2.8 2.8l-2.8 -2.8z"/>
<path d="M526.6 150.6l2.8 2.8l-2.8 2.8l-2.8 -2.8z"/>
<path d="M514.0 164.1l2.8 2.8l-2.8 2.8l-2.8 -2.8z"/>
<path d="M519.4 165.9l2.8 2.8l-2.8 2.8l-2.8 -2.8z"/>
<path d="M528.4 163.2l2.8 2.8l-2.8 2.8l-2.8 -2.8z"/>
<path d="M524.8 171.3l2.8 2.8l-2.8 2.8l-2.8 -2.8z"/>
<path d="M528.4 176.7l2.8 2.8l-2.8 2.8l-2.8 -2.8z"/>
<path d="M501.4 187.5l2.8 2.8l-2.8 2.8l-2.8 -2.8z"/>
<path d="M506.8 189.3l2.8 2.8l-2.8 2.8l-2.8 -2.8z"/>
<path d="M510.4 192.9l2.8 2.8l-2.8 2.8l-2.8 -2.8z"/>
<path d="M514.0 185.7l2.8 2.8l-2.8 2.8l-2.8 -2.8z"/>
<path d="M519.4 189.3l2.8 2.8l-2.8 2.8l-2.8 -2.8z"/>
<path d="M521.2 180.3l2.8 2.8l-2.8 2.8l-2.8 -2.8z"/>
<path d="M524.8 183.9l2.8 2.8l-2.8 2.8l-2.8 -2.8z"/>
<path d="M528.4 194.7l2.8 2.8l-2.8 2.8l-2.8 -2.8z"/>
<path d="M533.8 189.3l2.8 2.8l-2.8 2.8l-2.8 -2.8z"/>
<path d="M539.2 185.7l2.8 2.8l-2.8 2.8l-2.8 -2.8z"/>
<path d="M535.6 194.7l2.8 2.8l-2.8 2.8l-2.8 -2.8z"/>
<path d="M539.2 200.1l2.8 2.8l-2.8 2.8l-2.8 -2.8z"/>
<path d="M542.8 203.7l2.8 2.8l-2.8 2.8l-2.8 -2.8z"/>
<path d="M532.0 201.9l2.8 2.8l-2.8 2.8l-2.8 -2.8z"/>
<path d="M539.2 210.9l2.8 2.8l-2.8 2.8l-2.8 -2.8z"/>
<path d="M532.0 207.3l2.8 2.8l-2.8 2.8l-2.8 -2.8z"/>
<path d="M521.2 203.7l2.8 2.8l-2.8 2.8l-2.8 -2.8z"/>
<path d="M524.8 207.3l2.8 2.8l-2.8 2.8l-2.8 -2.8z"/>
<path d="M542.8 216.4l2.8 2.8l-2.8 2.8l-2.8 -2.8z"/>
<path d="M535.6 218.2l2.8 2.8l-2.8 2.8l-2.8 -2.8z"/>
<path d="M400.4 120.8l2.8 2.8l-2.8 2.8l-2.8 -2.8z"/>
<path d="M404.0 124.4l2.8 2.8l-2.8 2.8l-2.8 -2.8z"/>
<path d="M407.6 126.2l2.8 2.8l-2.8 2.8l-2.8 -2.8z"/>
<path d="M396.8 129.8l2.8 2.8l-2.8 2.8l-2.8 -2.8z"/>
<path d="M398.6 133.4l2.8 2.8l-2.8 2.8l-2.8 -2.8z"/>
<path d="M418.4 135.2l2.8 2.8l-2.8 2.8l-2.8 -2.8z"/>
<path d="M422.0 132.5l2.8 2.8l-2.8 2.8l-2.8 -2.8z"/>
<path d="M496.0 119.9l2.8 2.8l-2.8 2.8l-2.8 -2.8z"/>
<path d="M499.6 121.7l2.8 2.8l-2.8 2.8l-2.8 -2.8z"/>
<path d="M608.1 137.9l2.8 2.8l-2.8 2.8l-2.8 -2.8z"/>
<path d="M657.7 124.8l2.8 2.8l-2.8 2.8l-2.8 -2.8z"/>
<path d="M677.5 132.5l2.8 2.8l-2.8 2.8l-2.8 -2.8z"/>
<path d="M682.0 134.3l2.8 2.8l-2.8 2.8l-2.8 -2.8z"/>
<path d="M667.6 140.6l2.8 2.8l-2.8 2.8l-2.8 -2.8z"/>
<path d="M670.3 146.0l2.8 2.8l-2.8 2.8l-2.8 -2.8z"/>
<path d="M628.8 148.2l2.8 2.8l-2.8 2.8l-2.8 -2.8z"/>
<path d="M652.3 149.6l2.8 2.8l-2.8 2.8l-2.8 -2.8z"/>
<path d="M672.1 160.5l2.8 2.8l-2.8 2.8l-2.8 -2.8z"/>
<path d="M674.8 171.3l2.8 2.8l-2.8 2.8l-2.8 -2.8z"/>
<path d="M689.2 174.9l2.8 2.8l-2.8 2.8l-2.8 -2.8z"/>
<path d="M693.7 153.3l2.8 2.8l-2.8 2.8l-2.8 -2.8z"/>
<path d="M629.7 167.7l2.8 2.8l-2.8 2.8l-2.8 -2.8z"/>
<path d="M635.1 165.9l2.8 2.8l-2.8 2.8l-2.8 -2.8z"/>
<path d="M638.7 165.0l2.8 2.8l-2.8 2.8l-2.8 -2.8z"/>
<path d="M636.9 171.3l2.8 2.8l-2.8 2.8l-2.8 -2.8z"/>
<path d="M640.5 173.1l2.8 2.8l-2.8 2.8l-2.8 -2.8z"/>
<path d="M627.0 180.3l2.8 2.8l-2.8 2.8l-2.8 -2.8z"/>
<path d="M634.2 180.3l2.8 2.8l-2.8 2.8l-2.8 -2.8z"/>
<path d="M599.1 181.2l2.8 2.8l-2.8 2.8l-2.8 -2.8z"/>
<path d="M600.9 189.3l2.8 2.8l-2.8 2.8l-2.8 -2.8z"/>
<path d="M622.5 191.1l2.8 2.8l-2.8 2.8l-2.8 -2.8z"/>
<path d="M621.6 194.7l2.8 2.8l-2.8 2.8l-2.8 -2.8z"/>
<path d="M658.6 183.0l2.8 2.8l-2.8 2.8l-2.8 -2.8z"/>
<path d="M667.6 183.9l2.8 2.8l-2.8 2.8l-2.8 -2.8z"/>
<path d="M671.2 182.1l2.8 2.8l-2.8 2.8l-2.8 -2.8z"/>
<path d="M669.4 187.5l2.8 2.8l-2.8 2.8l-2.8 -2.8z"/>
<path d="M674.8 196.5l2.8 2.8l-2.8 2.8l-2.8 -2.8z"/>
<path d="M680.2 199.2l2.8 2.8l-2.8 2.8l-2.8 -2.8z"/>
<path d="M655.9 202.8l2.8 2.8l-2.8 2.8l-2.8 -2.8z"/>
<path d="M673.0 206.4l2.8 2.8l-2.8 2.8l-2.8 -2.8z"/>
<path d="M679.3 214.5l2.8 2.8l-2.8 2.8l-2.8 -2.8z"/>
<path d="M681.1 217.3l2.8 2.8l-2.8 2.8l-2.8 -2.8z"/>
<path d="M691.0 209.1l2.8 2.8l-2.8 2.8l-2.8 -2.8z"/>
<path d="M692.8 214.5l2.8 2.8l-2.8 2.8l-2.8 -2.8z"/>
<path d="M693.7 203.7l2.8 2.8l-2.8 2.8l-2.8 -2.8z"/>
<path d="M545.0 183.0l2.8 2.8l-2.8 2.8l-2.8 -2.8z"/>
<path d="M553.1 190.2l2.8 2.8l-2.8 2.8l-2.8 -2.8z"/>
<path d="M571.1 189.0l2.8 2.8l-2.8 2.8l-2.8 -2.8z"/>
<path d="M551.3 200.1l2.8 2.8l-2.8 2.8l-2.8 -2.8z"/>
<path d="M552.2 202.8l2.8 2.8l-2.8 2.8l-2.8 -2.8z"/>
<path d="M571.1 199.2l2.8 2.8l-2.8 2.8l-2.8 -2.8z"/>
<path d="M591.9 199.2l2.8 2.8l-2.8 2.8l-2.8 -2.8z"/>
<path d="M606.3 204.6l2.8 2.8l-2.8 2.8l-2.8 -2.8z"/>
<path d="M557.6 206.4l2.8 2.8l-2.8 2.8l-2.8 -2.8z"/>
<path d="M547.7 207.3l2.8 2.8l-2.8 2.8l-2.8 -2.8z"/>
<path d="M546.8 212.7l2.8 2.8l-2.8 2.8l-2.8 -2.8z"/>
<path d="M552.2 212.7l2.8 2.8l-2.8 2.8l-2.8 -2.8z"/>
<path d="M565.7 209.1l2.8 2.8l-2.8 2.8l-2.8 -2.8z"/>
<path d="M568.4 205.5l2.8 2.8l-2.8 2.8l-2.8 -2.8z"/>
<path d="M572.0 210.0l2.8 2.8l-2.8 2.8l-2.8 -2.8z"/>
<path d="M576.5 209.1l2.8 2.8l-2.8 2.8l-2.8 -2.8z"/>
<path d="M564.8 214.5l2.8 2.8l-2.8 2.8l-2.8 -2.8z"/>
<path d="M568.4 217.3l2.8 2.8l-2.8 2.8l-2.8 -2.8z"/>
<path d="M573.8 216.4l2.8 2.8l-2.8 2.8l-2.8 -2.8z"/>
<path d="M563.0 220.9l2.8 2.8l-2.8 2.8l-2.8 -2.8z"/>
<path d="M586.5 218.2l2.8 2.8l-2.8 2.8l-2.8 -2.8z"/>
<path d="M583.8 221.8l2.8 2.8l-2.8 2.8l-2.8 -2.8z"/>
<path d="M622.5 212.7l2.8 2.8l-2.8 2.8l-2.8 -2.8z"/>
<path d="M626.1 216.4l2.8 2.8l-2.8 2.8l-2.8 -2.8z"/>
<path d="M620.7 223.6l2.8 2.8l-2.8 2.8l-2.8 -2.8z"/>
<path d="M629.7 224.5l2.8 2.8l-2.8 2.8l-2.8 -2.8z"/>
<path d="M635.1 223.6l2.8 2.8l-2.8 2.8l-2.8 -2.8z"/>
<path d="M638.7 224.5l2.8 2.8l-2.8 2.8l-2.8 -2.8z"/>
<path d="M649.6 223.6l2.8 2.8l-2.8 2.8l-2.8 -2.8z"/>
<path d="M655.0 223.6l2.8 2.8l-2.8 2.8l-2.8 -2.8z"/>
<path d="M594.6 224.5l2.8 2.8l-2.8 2.8l-2.8 -2.8z"/>
<path d="M608.1 226.3l2.8 2.8l-2.8 2.8l-2.8 -2.8z"/>
<path d="M548.6 221.8l2.8 2.8l-2.8 2.8l-2.8 -2.8z"/>
<path d="M555.8 225.4l2.8 2.8l-2.8 2.8l-2.8 -2.8z"/>
<path d="M573.8 224.5l2.8 2.8l-2.8 2.8l-2.8 -2.8z"/>
<path d="M696.4 153.3l2.8 2.8l-2.8 2.8l-2.8 -2.8z"/>
<path d="M698.2 183.5l2.8 2.8l-2.8 2.8l-2.8 -2.8z"/>
<path d="M772.7 181.6l2.8 2.8l-2.8 2.8l-2.8 -2.8z"/>
<path d="M726.7 196.0l2.8 2.8l-2.8 2.8l-2.8 -2.8z"/>
<path d="M710.5 202.8l2.8 2.8l-2.8 2.8l-2.8 -2.8z"/>
<path d="M692.8 209.1l2.8 2.8l-2.8 2.8l-2.8 -2.8z"/>
<path d="M697.3 210.9l2.8 2.8l-2.8 2.8l-2.8 -2.8z"/>
<path d="M703.6 213.6l2.8 2.8l-2.8 2.8l-2.8 -2.8z"/>
<path d="M694.6 217.3l2.8 2.8l-2.8 2.8l-2.8 -2.8z"/>
<path d="M718.1 214.5l2.8 2.8l-2.8 2.8l-2.8 -2.8z"/>
<path d="M720.8 212.7l2.8 2.8l-2.8 2.8l-2.8 -2.8z"/>
<path d="M731.6 220.3l2.8 2.8l-2.8 2.8l-2.8 -2.8z"/>
<path d="M747.8 216.9l2.8 2.8l-2.8 2.8l-2.8 -2.8z"/>
<path d="M790.2 206.4l2.8 2.8l-2.8 2.8l-2.8 -2.8z"/>
<path d="M794.7 208.2l2.8 2.8l-2.8 2.8l-2.8 -2.8z"/>
<path d="M703.6 223.6l2.8 2.8l-2.8 2.8l-2.8 -2.8z"/>
<path d="M707.2 224.5l2.8 2.8l-2.8 2.8l-2.8 -2.8z"/>
<path d="M741.5 225.4l2.8 2.8l-2.8 2.8l-2.8 -2.8z"/>
<path d="M253.1 229.9l2.8 2.8l-2.8 2.8l-2.8 -2.8z"/>
<path d="M250.4 239.8l2.8 2.8l-2.8 2.8l-2.8 -2.8z"/>
<path d="M252.2 244.3l2.8 2.8l-2.8 2.8l-2.8 -2.8z"/>
<path d="M272.9 247.0l2.8 2.8l-2.8 2.8l-2.8 -2.8z"/>
<path d="M278.4 236.2l2.8 2.8l-2.8 2.8l-2.8 -2.8z"/>
<path d="M255.8 259.6l2.8 2.8l-2.8 2.8l-2.8 -2.8z"/>
<path d="M247.7 267.8l2.8 2.8l-2.8 2.8l-2.8 -2.8z"/>
<path d="M276.5 269.6l2.8 2.8l-2.8 2.8l-2.8 -2.8z"/>
<path d="M278.4 274.1l2.8 2.8l-2.8 2.8l-2.8 -2.8z"/>
<path d="M263.0 275.0l2.8 2.8l-2.8 2.8l-2.8 -2.8z"/>
<path d="M248.6 277.7l2.8 2.8l-2.8 2.8l-2.8 -2.8z"/>
<path d="M254.0 279.5l2.8 2.8l-2.8 2.8l-2.8 -2.8z"/>
<path d="M259.4 281.3l2.8 2.8l-2.8 2.8l-2.8 -2.8z"/>
<path d="M250.4 284.9l2.8 2.8l-2.8 2.8l-2.8 -2.8z"/>
<path d="M257.6 286.7l2.8 2.8l-2.8 2.8l-2.8 -2.8z"/>
<path d="M246.8 289.4l2.8 2.8l-2.8 2.8l-2.8 -2.8z"/>
<path d="M263.0 286.7l2.8 2.8l-2.8 2.8l-2.8 -2.8z"/>
<path d="M268.4 284.9l2.8 2.8l-2.8 2.8l-2.8 -2.8z"/>
<path d="M271.1 288.5l2.8 2.8l-2.8 2.8l-2.8 -2.8z"/>
<path d="M273.8 284.9l2.8 2.8l-2.8 2.8l-2.8 -2.8z"/>
<path d="M266.6 290.3l2.8 2.8l-2.8 2.8l-2.8 -2.8z"/>
<path d="M270.2 291.2l2.8 2.8l-2.8 2.8l-2.8 -2.8z"/>
<path d="M264.8 293.9l2.8 2.8l-2.8 2.8l-2.8 -2.8z"/>
<path d="M258.5 295.7l2.8 2.8l-2.8 2.8l-2.8 -2.8z"/>
<path d="M261.2 299.3l2.8 2.8l-2.8 2.8l-2.8 -2.8z"/>
<path d="M255.8 298.4l2.8 2.8l-2.8 2.8l-2.8 -2.8z"/>
<path d="M264.8 300.2l2.8 2.8l-2.8 2.8l-2.8 -2.8z"/>
<path d="M260.3 306.5l2.8 2.8l-2.8 2.8l-2.8 -2.8z"/>
<path d="M273.8 301.1l2.8 2.8l-2.8 2.8l-2.8 -2.8z"/>
<path d="M276.5 305.6l2.8 2.8l-2.8 2.8l-2.8 -2.8z"/>
<path d="M245.0 317.3l2.8 2.8l-2.8 2.8l-2.8 -2.8z"/>
<path d="M245.0 304.7l2.8 2.8l-2.8 2.8l-2.8 -2.8z"/>
<path d="M269.3 289.4l2.8 2.8l-2.8 2.8l-2.8 -2.8z"/>
<path d="M271.1 287.6l2.8 2.8l-2.8 2.8l-2.8 -2.8z"/>
<path d="M272.0 286.7l2.8 2.8l-2.8 2.8l-2.8 -2.8z"/>
<path d="M267.5 291.2l2.8 2.8l-2.8 2.8l-2.8 -2.8z"/>
<path d="M757.2 285.5l2.8 2.8l-2.8 2.8l-2.8 -2.8z"/>
<path d="M790.0 276.2l2.8 2.8l-2.8 2.8l-2.8 -2.8z"/>
<path d="M789.0 296.7l2.8 2.8l-2.8 2.8l-2.8 -2.8z"/>
<path d="M789.9 273.1l2.8 2.8l-2.8 2.8l-2.8 -2.8z"/>
<path d="M755.4 267.8l2.8 2.8l-2.8 2.8l-2.8 -2.8z"/>
<path d="M754.2 267.0l2.8 2.8l-2.8 2.8l-2.8 -2.8z"/>
<path d="M774.3 293.4l2.8 2.8l-2.8 2.8l-2.8 -2.8z"/>
<path d="M784.5 277.4l2.8 2.8l-2.8 2.8l-2.8 -2.8z"/>
<path d="M775.7 289.6l2.8 2.8l-2.8 2.8l-2.8 -2.8z"/>
<path d="M749.0 284.3l2.8 2.8l-2.8 2.8l-2.8 -2.8z"/>
<path d="M787.8 288.9l2.8 2.8l-2.8 2.8l-2.8 -2.8z"/>
<path d="M780.3 277.4l2.8 2.8l-2.8 2.8l-2.8 -2.8z"/>
<path d="M753.4 289.2l2.8 2.8l-2.8 2.8l-2.8 -2.8z"/>
<path d="M760.6 289.6l2.8 2.8l-2.8 2.8l-2.8 -2.8z"/>
<path d="M512.2 256.0l2.8 2.8l-2.8 2.8l-2.8 -2.8z"/>
<path d="M523.0 243.4l2.8 2.8l-2.8 2.8l-2.8 -2.8z"/>
<path d="M533.8 247.0l2.8 2.8l-2.8 2.8l-2.8 -2.8z"/>
<path d="M514.0 230.8l2.8 2.8l-2.8 2.8l-2.8 -2.8z"/>
<path d="M517.6 229.0l2.8 2.8l-2.8 2.8l-2.8 -2.8z"/>
<path d="M539.2 228.1l2.8 2.8l-2.8 2.8l-2.8 -2.8z"/>
<path d="M552.2 248.8l2.8 2.8l-2.8 2.8l-2.8 -2.8z"/>
<path d="M555.8 250.6l2.8 2.8l-2.8 2.8l-2.8 -2.8z"/>
<path d="M557.6 245.2l2.8 2.8l-2.8 2.8l-2.8 -2.8z"/>
<path d="M559.4 253.3l2.8 2.8l-2.8 2.8l-2.8 -2.8z"/>
<path d="M563.9 251.5l2.8 2.8l-2.8 2.8l-2.8 -2.8z"/>
<path d="M564.8 270.5l2.8 2.8l-2.8 2.8l-2.8 -2.8z"/>
<path d="M581.1 261.5l2.8 2.8l-2.8 2.8l-2.8 -2.8z"/>
<path d="M584.7 266.9l2.8 2.8l-2.8 2.8l-2.8 -2.8z"/>
<path d="M587.4 270.5l2.8 2.8l-2.8 2.8l-2.8 -2.8z"/>
<path d="M595.5 266.9l2.8 2.8l-2.8 2.8l-2.8 -2.8z"/>
<path d="M604.5 276.8l2.8 2.8l-2.8 2.8l-2.8 -2.8z"/>
<path d="M614.4 279.5l2.8 2.8l-2.8 2.8l-2.8 -2.8z"/>
<path d="M613.5 290.3l2.8 2.8l-2.8 2.8l-2.8 -2.8z"/>
<path d="M617.1 293.9l2.8 2.8l-2.8 2.8l-2.8 -2.8z"/>
<path d="M612.6 296.6l2.8 2.8l-2.8 2.8l-2.8 -2.8z"/>
<path d="M640.5 293.9l2.8 2.8l-2.8 2.8l-2.8 -2.8z"/>
<path d="M643.3 291.2l2.8 2.8l-2.8 2.8l-2.8 -2.8z"/>
<path d="M646.0 288.5l2.8 2.8l-2.8 2.8l-2.8 -2.8z"/>
<path d="M651.4 288.5l2.8 2.8l-2.8 2.8l-2.8 -2.8z"/>
<path d="M655.0 285.8l2.8 2.8l-2.8 2.8l-2.8 -2.8z"/>
<path d="M658.6 283.1l2.8 2.8l-2.8 2.8l-2.8 -2.8z"/>
<path d="M662.2 279.5l2.8 2.8l-2.8 2.8l-2.8 -2.8z"/>
<path d="M665.8 277.7l2.8 2.8l-2.8 2.8l-2.8 -2.8z"/>
<path d="M669.4 281.3l2.8 2.8l-2.8 2.8l-2.8 -2.8z"/>
<path d="M660.4 274.1l2.8 2.8l-2.8 2.8l-2.8 -2.8z"/>
<path d="M680.2 271.4l2.8 2.8l-2.8 2.8l-2.8 -2.8z"/>
<path d="M685.6 266.9l2.8 2.8l-2.8 2.8l-2.8 -2.8z"/>
<path d="M561.2 230.8l2.8 2.8l-2.8 2.8l-2.8 -2.8z"/>
<path d="M568.4 229.9l2.8 2.8l-2.8 2.8l-2.8 -2.8z"/>
<path d="M573.8 234.4l2.8 2.8l-2.8 2.8l-2.8 -2.8z"/>
<path d="M579.3 232.6l2.8 2.8l-2.8 2.8l-2.8 -2.8z"/>
<path d="M582.9 236.2l2.8 2.8l-2.8 2.8l-2.8 -2.8z"/>
<path d="M588.3 234.4l2.8 2.8l-2.8 2.8l-2.8 -2.8z"/>
<path d="M593.7 229.0l2.8 2.8l-2.8 2.8l-2.8 -2.8z"/>
<path d="M606.3 229.0l2.8 2.8l-2.8 2.8l-2.8 -2.8z"/>
<path d="M608.1 234.4l2.8 2.8l-2.8 2.8l-2.8 -2.8z"/>
<path d="M609.9 239.8l2.8 2.8l-2.8 2.8l-2.8 -2.8z"/>
<path d="M600.9 243.4l2.8 2.8l-2.8 2.8l-2.8 -2.8z"/>
<path d="M595.5 247.0l2.8 2.8l-2.8 2.8l-2.8 -2.8z"/>
<path d="M582.9 250.6l2.8 2.8l-2.8 2.8l-2.8 -2.8z"/>
<path d="M588.3 254.2l2.8 2.8l-2.8 2.8l-2.8 -2.8z"/>
<path d="M593.7 256.9l2.8 2.8l-2.8 2.8l-2.8 -2.8z"/>
<path d="M599.1 250.6l2.8 2.8l-2.8 2.8l-2.8 -2.8z"/>
<path d="M604.5 256.0l2.8 2.8l-2.8 2.8l-2.8 -2.8z"/>
<path d="M609.9 250.6l2.8 2.8l-2.8 2.8l-2.8 -2.8z"/>
<path d="M615.3 254.2l2.8 2.8l-2.8 2.8l-2.8 -2.8z"/>
<path d="M618.9 257.8l2.8 2.8l-2.8 2.8l-2.8 -2.8z"/>
<path d="M620.7 265.1l2.8 2.8l-2.8 2.8l-2.8 -2.8z"/>
<path d="M613.5 270.5l2.8 2.8l-2.8 2.8l-2.8 -2.8z"/>
<path d="M608.1 263.3l2.8 2.8l-2.8 2.8l-2.8 -2.8z"/>
<path d="M602.7 263.3l2.8 2.8l-2.8 2.8l-2.8 -2.8z"/>
<path d="M624.3 243.4l2.8 2.8l-2.8 2.8l-2.8 -2.8z"/>
<path d="M629.7 234.4l2.8 2.8l-2.8 2.8l-2.8 -2.8z"/>
<path d="M627.9 229.9l2.8 2.8l-2.8 2.8l-2.8 -2.8z"/>
<path d="M635.1 230.8l2.8 2.8l-2.8 2.8l-2.8 -2.8z"/>
<path d="M638.7 247.0l2.8 2.8l-2.8 2.8l-2.8 -2.8z"/>
<path d="M635.1 250.6l2.8 2.8l-2.8 2.8l-2.8 -2.8z"/>
<path d="M646.0 256.0l2.8 2.8l-2.8 2.8l-2.8 -2.8z"/>
<path d="M648.7 261.5l2.8 2.8l-2.8 2.8l-2.8 -2.8z"/>
<path d="M653.2 265.1l2.8 2.8l-2.8 2.8l-2.8 -2.8z"/>
<path d="M655.9 248.8l2.8 2.8l-2.8 2.8l-2.8 -2.8z"/>
<path d="M662.2 259.6l2.8 2.8l-2.8 2.8l-2.8 -2.8z"/>
<path d="M660.4 256.9l2.8 2.8l-2.8 2.8l-2.8 -2.8z"/>
<path d="M669.4 232.6l2.8 2.8l-2.8 2.8l-2.8 -2.8z"/>
<path d="M674.8 234.4l2.8 2.8l-2.8 2.8l-2.8 -2.8z"/>
<path d="M678.4 229.9l2.8 2.8l-2.8 2.8l-2.8 -2.8z"/>
<path d="M685.6 232.6l2.8 2.8l-2.8 2.8l-2.8 -2.8z"/>
<path d="M687.4 238.0l2.8 2.8l-2.8 2.8l-2.8 -2.8z"/>
<path d="M683.8 245.2l2.8 2.8l-2.8 2.8l-2.8 -2.8z"/>
<path d="M687.4 250.6l2.8 2.8l-2.8 2.8l-2.8 -2.8z"/>
<path d="M691.0 254.2l2.8 2.8l-2.8 2.8l-2.8 -2.8z"/>
<path d="M692.8 243.4l2.8 2.8l-2.8 2.8l-2.8 -2.8z"/>
<path d="M645.1 309.2l2.8 2.8l-2.8 2.8l-2.8 -2.8z"/>
<path d="M713.5 275.0l2.8 2.8l-2.8 2.8l-2.8 -2.8z"/>
<path d="M722.6 278.6l2.8 2.8l-2.8 2.8l-2.8 -2.8z"/>
<path d="M727.1 281.3l2.8 2.8l-2.8 2.8l-2.8 -2.8z"/>
<path d="M723.5 286.7l2.8 2.8l-2.8 2.8l-2.8 -2.8z"/>
<path d="M733.4 287.6l2.8 2.8l-2.8 2.8l-2.8 -2.8z"/>
<path d="M743.3 284.9l2.8 2.8l-2.8 2.8l-2.8 -2.8z"/>
<path d="M751.4 289.4l2.8 2.8l-2.8 2.8l-2.8 -2.8z"/>
<path d="M755.9 293.9l2.8 2.8l-2.8 2.8l-2.8 -2.8z"/>
<path d="M759.5 292.1l2.8 2.8l-2.8 2.8l-2.8 -2.8z"/>
<path d="M700.0 234.4l2.8 2.8l-2.8 2.8l-2.8 -2.8z"/>
<path d="M696.4 238.0l2.8 2.8l-2.8 2.8l-2.8 -2.8z"/>
<path d="M703.6 239.8l2.8 2.8l-2.8 2.8l-2.8 -2.8z"/>
<path d="M709.0 243.4l2.8 2.8l-2.8 2.8l-2.8 -2.8z"/>
<path d="M700.0 250.6l2.8 2.8l-2.8 2.8l-2.8 -2.8z"/>
<path d="M707.2 252.4l2.8 2.8l-2.8 2.8l-2.8 -2.8z"/>
<path d="M712.6 250.6l2.8 2.8l-2.8 2.8l-2.8 -2.8z"/>
<path d="M718.1 254.2l2.8 2.8l-2.8 2.8l-2.8 -2.8z"/>
<path d="M721.7 259.6l2.8 2.8l-2.8 2.8l-2.8 -2.8z"/>
<path d="M718.1 263.3l2.8 2.8l-2.8 2.8l-2.8 -2.8z"/>
<path d="M727.1 261.5l2.8 2.8l-2.8 2.8l-2.8 -2.8z"/>
<path d="M723.5 245.2l2.8 2.8l-2.8 2.8l-2.8 -2.8z"/>
<path d="M730.7 248.8l2.8 2.8l-2.8 2.8l-2.8 -2.8z"/>
<path d="M734.3 238.0l2.8 2.8l-2.8 2.8l-2.8 -2.8z"/>
<path d="M732.5 230.8l2.8 2.8l-2.8 2.8l-2.8 -2.8z"/>
<path d="M739.7 229.0l2.8 2.8l-2.8 2.8l-2.8 -2.8z"/>
<path d="M721.7 236.2l2.8 2.8l-2.8 2.8l-2.8 -2.8z"/>
<path d="M728.9 256.0l2.8 2.8l-2.8 2.8l-2.8 -2.8z"/>
<path d="M736.1 263.3l2.8 2.8l-2.8 2.8l-2.8 -2.8z"/>
<path d="M739.7 252.4l2.8 2.8l-2.8 2.8l-2.8 -2.8z"/>
<path d="M745.1 250.6l2.8 2.8l-2.8 2.8l-2.8 -2.8z"/>
<path d="M743.3 256.0l2.8 2.8l-2.8 2.8l-2.8 -2.8z"/>
<path d="M750.5 245.2l2.8 2.8l-2.8 2.8l-2.8 -2.8z"/>
<path d="M754.1 241.6l2.8 2.8l-2.8 2.8l-2.8 -2.8z"/>
<path d="M757.7 243.4l2.8 2.8l-2.8 2.8l-2.8 -2.8z"/>
<path d="M752.3 265.1l2.8 2.8l-2.8 2.8l-2.8 -2.8z"/>
<path d="M757.7 268.7l2.8 2.8l-2.8 2.8l-2.8 -2.8z"/>
<path d="M761.3 256.0l2.8 2.8l-2.8 2.8l-2.8 -2.8z"/>
<path d="M764.9 261.5l2.8 2.8l-2.8 2.8l-2.8 -2.8z"/>
<path d="M759.5 274.1l2.8 2.8l-2.8 2.8l-2.8 -2.8z"/>
<path d="M764.9 275.9l2.8 2.8l-2.8 2.8l-2.8 -2.8z"/>
<path d="M754.1 277.7l2.8 2.8l-2.8 2.8l-2.8 -2.8z"/>
<path d="M761.3 281.3l2.8 2.8l-2.8 2.8l-2.8 -2.8z"/>
<path d="M766.7 284.9l2.8 2.8l-2.8 2.8l-2.8 -2.8z"/>
<path d="M770.3 238.0l2.8 2.8l-2.8 2.8l-2.8 -2.8z"/>
<path d="M768.5 247.0l2.8 2.8l-2.8 2.8l-2.8 -2.8z"/>
<path d="M779.3 252.4l2.8 2.8l-2.8 2.8l-2.8 -2.8z"/>
<path d="M788.4 245.2l2.8 2.8l-2.8 2.8l-2.8 -2.8z"/>
<path d="M779.3 265.1l2.8 2.8l-2.8 2.8l-2.8 -2.8z"/>
<path d="M773.9 268.7l2.8 2.8l-2.8 2.8l-2.8 -2.8z"/>
<path d="M772.1 272.3l2.8 2.8l-2.8 2.8l-2.8 -2.8z"/>
<path d="M777.5 277.7l2.8 2.8l-2.8 2.8l-2.8 -2.8z"/>
<path d="M783.0 281.3l2.8 2.8l-2.8 2.8l-2.8 -2.8z"/>
<path d="M786.6 284.9l2.8 2.8l-2.8 2.8l-2.8 -2.8z"/>
<path d="M772.1 284.9l2.8 2.8l-2.8 2.8l-2.8 -2.8z"/>
<path d="M775.7 290.3l2.8 2.8l-2.8 2.8l-2.8 -2.8z"/>
<path d="M768.5 290.3l2.8 2.8l-2.8 2.8l-2.8 -2.8z"/>
<path d="M793.8 261.5l2.8 2.8l-2.8 2.8l-2.8 -2.8z"/>
<path d="M790.2 266.9l2.8 2.8l-2.8 2.8l-2.8 -2.8z"/>
<path d="M792.0 272.3l2.8 2.8l-2.8 2.8l-2.8 -2.8z"/>
<path d="M793.8 279.5l2.8 2.8l-2.8 2.8l-2.8 -2.8z"/>
<path d="M803.7 276.8l2.8 2.8l-2.8 2.8l-2.8 -2.8z"/>
<path d="M801.0 289.4l2.8 2.8l-2.8 2.8l-2.8 -2.8z"/>
<path d="M802.8 298.4l2.8 2.8l-2.8 2.8l-2.8 -2.8z"/>
<path d="M775.7 302.9l2.8 2.8l-2.8 2.8l-2.8 -2.8z"/>
<path d="M783.0 306.5l2.8 2.8l-2.8 2.8l-2.8 -2.8z"/>
<path d="M781.2 311.9l2.8 2.8l-2.8 2.8l-2.8 -2.8z"/>
<path d="M786.6 302.9l2.8 2.8l-2.8 2.8l-2.8 -2.8z"/>
<path d="M797.4 306.5l2.8 2.8l-2.8 2.8l-2.8 -2.8z"/>
<path d="M799.2 310.1l2.8 2.8l-2.8 2.8l-2.8 -2.8z"/>
<path d="M795.6 313.7l2.8 2.8l-2.8 2.8l-2.8 -2.8z"/>
<path d="M804.6 308.3l2.8 2.8l-2.8 2.8l-2.8 -2.8z"/>
<path d="M748.7 305.6l2.8 2.8l-2.8 2.8l-2.8 -2.8z"/>
<path d="M798.3 307.4l2.8 2.8l-2.8 2.8l-2.8 -2.8z"/>
<path d="M800.1 311.0l2.8 2.8l-2.8 2.8l-2.8 -2.8z"/>
<path d="M797.4 311.9l2.8 2.8l-2.8 2.8l-2.8 -2.8z"/>
<path d="M395.5 128.8l2.8 2.8l-2.8 2.8l-2.8 -2.8z"/>
<path d="M393.7 126.7l2.8 2.8l-2.8 2.8l-2.8 -2.8z"/>
<path d="M294.7 203.6l2.8 2.8l-2.8 2.8l-2.8 -2.8z"/>
<path d="M374.4 147.7l2.8 2.8l-2.8 2.8l-2.8 -2.8z"/>
<path d="M397.6 127.4l2.8 2.8l-2.8 2.8l-2.8 -2.8z"/>
<path d="M344.4 156.0l2.8 2.8l-2.8 2.8l-2.8 -2.8z"/>
<path d="M396.4 130.8l2.8 2.8l-2.8 2.8l-2.8 -2.8z"/>
<path d="M390.8 138.7l2.8 2.8l-2.8 2.8l-2.8 -2.8z"/>
<path d="M377.0 136.9l2.8 2.8l-2.8 2.8l-2.8 -2.8z"/>
<path d="M315.1 186.0l2.8 2.8l-2.8 2.8l-2.8 -2.8z"/>
<path d="M311.7 181.2l2.8 2.8l-2.8 2.8l-2.8 -2.8z"/>
<path d="M387.5 133.7l2.8 2.8l-2.8 2.8l-2.8 -2.8z"/>
<path d="M351.5 159.5l2.8 2.8l-2.8 2.8l-2.8 -2.8z"/>
<path d="M389.1 134.3l2.8 2.8l-2.8 2.8l-2.8 -2.8z"/>
<path d="M341.1 164.9l2.8 2.8l-2.8 2.8l-2.8 -2.8z"/>
<path d="M300.9 197.7l2.8 2.8l-2.8 2.8l-2.8 -2.8z"/>
<path d="M301.5 197.3l2.8 2.8l-2.8 2.8l-2.8 -2.8z"/>
<path d="M346.1 163.4l2.8 2.8l-2.8 2.8l-2.8 -2.8z"/>
<path d="M347.8 156.9l2.8 2.8l-2.8 2.8l-2.8 -2.8z"/>
<path d="M346.2 159.2l2.8 2.8l-2.8 2.8l-2.8 -2.8z"/>
<path d="M371.9 146.2l2.8 2.8l-2.8 2.8l-2.8 -2.8z"/>
<path d="M372.1 145.4l2.8 2.8l-2.8 2.8l-2.8 -2.8z"/>
<path d="M353.2 158.5l2.8 2.8l-2.8 2.8l-2.8 -2.8z"/>
<path d="M362.4 152.3l2.8 2.8l-2.8 2.8l-2.8 -2.8z"/>
<path d="M339.6 172.9l2.8 2.8l-2.8 2.8l-2.8 -2.8z"/>
<path d="M385.7 132.9l2.8 2.8l-2.8 2.8l-2.8 -2.8z"/>
<path d="M348.9 168.2l2.8 2.8l-2.8 2.8l-2.8 -2.8z"/>
<path d="M295.8 195.5l2.8 2.8l-2.8 2.8l-2.8 -2.8z"/>
<path d="M289.6 195.8l2.8 2.8l-2.8 2.8l-2.8 -2.8z"/>
<path d="M361.0 160.0l2.8 2.8l-2.8 2.8l-2.8 -2.8z"/>
<path d="M300.3 197.6l2.8 2.8l-2.8 2.8l-2.8 -2.8z"/>
<path d="M299.6 203.4l2.8 2.8l-2.8 2.8l-2.8 -2.8z"/>
<path d="M309.1 188.5l2.8 2.8l-2.8 2.8l-2.8 -2.8z"/>
<path d="M340.9 174.3l2.8 2.8l-2.8 2.8l-2.8 -2.8z"/>
<path d="M300.0 194.8l2.8 2.8l-2.8 2.8l-2.8 -2.8z"/>
<path d="M320.4 178.2l2.8 2.8l-2.8 2.8l-2.8 -2.8z"/>
<path d="M364.1 150.2l2.8 2.8l-2.8 2.8l-2.8 -2.8z"/>
<path d="M331.6 170.1l2.8 2.8l-2.8 2.8l-2.8 -2.8z"/>
<path d="M354.6 150.3l2.8 2.8l-2.8 2.8l-2.8 -2.8z"/>
<path d="M398.8 137.0l2.8 2.8l-2.8 2.8l-2.8 -2.8z"/>
<path d="M292.9 192.0l2.8 2.8l-2.8 2.8l-2.8 -2.8z"/>
<path d="M371.7 138.8l2.8 2.8l-2.8 2.8l-2.8 -2.8z"/>
<path d="M333.0 179.4l2.8 2.8l-2.8 2.8l-2.8 -2.8z"/>
<path d="M310.6 193.9l2.8 2.8l-2.8 2.8l-2.8 -2.8z"/>
<path d="M349.2 155.3l2.8 2.8l-2.8 2.8l-2.8 -2.8z"/>
<path d="M290.3 203.2l2.8 2.8l-2.8 2.8l-2.8 -2.8z"/>
<path d="M292.3 204.8l2.8 2.8l-2.8 2.8l-2.8 -2.8z"/>
<path d="M373.6 148.6l2.8 2.8l-2.8 2.8l-2.8 -2.8z"/>
<path d="M291.5 202.5l2.8 2.8l-2.8 2.8l-2.8 -2.8z"/>
<path d="M321.9 187.9l2.8 2.8l-2.8 2.8l-2.8 -2.8z"/>
<path d="M311.6 186.9l2.8 2.8l-2.8 2.8l-2.8 -2.8z"/>
<path d="M308.0 183.3l2.8 2.8l-2.8 2.8l-2.8 -2.8z"/>
<path d="M288.1 202.4l2.8 2.8l-2.8 2.8l-2.8 -2.8z"/>
<path d="M318.6 180.3l2.8 2.8l-2.8 2.8l-2.8 -2.8z"/>
<path d="M339.1 165.4l2.8 2.8l-2.8 2.8l-2.8 -2.8z"/>
<path d="M286.8 202.0l2.8 2.8l-2.8 2.8l-2.8 -2.8z"/>
<path d="M367.5 143.5l2.8 2.8l-2.8 2.8l-2.8 -2.8z"/>
<path d="M339.2 163.7l2.8 2.8l-2.8 2.8l-2.8 -2.8z"/>
<path d="M377.0 141.4l2.8 2.8l-2.8 2.8l-2.8 -2.8z"/>
<path d="M378.7 140.3l2.8 2.8l-2.8 2.8l-2.8 -2.8z"/>
<path d="M363.9 149.6l2.8 2.8l-2.8 2.8l-2.8 -2.8z"/>
<path d="M379.7 142.5l2.8 2.8l-2.8 2.8l-2.8 -2.8z"/>
<path d="M335.1 149.3l2.8 2.8l-2.8 2.8l-2.8 -2.8z"/>
<path d="M310.1 177.9l2.8 2.8l-2.8 2.8l-2.8 -2.8z"/>
<path d="M321.9 158.8l2.8 2.8l-2.8 2.8l-2.8 -2.8z"/>
<path d="M373.6 135.5l2.8 2.8l-2.8 2.8l-2.8 -2.8z"/>
<path d="M324.4 161.4l2.8 2.8l-2.8 2.8l-2.8 -2.8z"/>
<path d="M338.9 153.9l2.8 2.8l-2.8 2.8l-2.8 -2.8z"/>
<path d="M325.7 176.1l2.8 2.8l-2.8 2.8l-2.8 -2.8z"/>
<path d="M346.5 158.9l2.8 2.8l-2.8 2.8l-2.8 -2.8z"/>
<path d="M327.2 153.9l2.8 2.8l-2.8 2.8l-2.8 -2.8z"/>
<path d="M333.7 159.7l2.8 2.8l-2.8 2.8l-2.8 -2.8z"/>
<path d="M318.3 159.8l2.8 2.8l-2.8 2.8l-2.8 -2.8z"/>
<path d="M322.3 164.5l2.8 2.8l-2.8 2.8l-2.8 -2.8z"/>
<path d="M301.9 173.3l2.8 2.8l-2.8 2.8l-2.8 -2.8z"/>
<path d="M321.5 168.8l2.8 2.8l-2.8 2.8l-2.8 -2.8z"/>
<path d="M365.1 141.7l2.8 2.8l-2.8 2.8l-2.8 -2.8z"/>
<path d="M374.8 126.4l2.8 2.8l-2.8 2.8l-2.8 -2.8z"/>
<path d="M382.7 128.1l2.8 2.8l-2.8 2.8l-2.8 -2.8z"/>
<path d="M353.6 150.4l2.8 2.8l-2.8 2.8l-2.8 -2.8z"/>
<path d="M376.8 133.8l2.8 2.8l-2.8 2.8l-2.8 -2.8z"/>
<path d="M368.2 134.3l2.8 2.8l-2.8 2.8l-2.8 -2.8z"/>
<path d="M345.3 158.3l2.8 2.8l-2.8 2.8l-2.8 -2.8z"/>
<path d="M371.2 140.8l2.8 2.8l-2.8 2.8l-2.8 -2.8z"/>
<path d="M359.5 136.0l2.8 2.8l-2.8 2.8l-2.8 -2.8z"/>
<path d="M301.4 174.9l2.8 2.8l-2.8 2.8l-2.8 -2.8z"/>
<path d="M310.9 175.4l2.8 2.8l-2.8 2.8l-2.8 -2.8z"/>
<path d="M519.4 200.5l2.8 2.8l-2.8 2.8l-2.8 -2.8z"/>
<path d="M500.6 190.0l2.8 2.8l-2.8 2.8l-2.8 -2.8z"/>
<path d="M533.4 208.3l2.8 2.8l-2.8 2.8l-2.8 -2.8z"/>
<path d="M521.0 204.5l2.8 2.8l-2.8 2.8l-2.8 -2.8z"/>
<path d="M473.6 155.8l2.8 2.8l-2.8 2.8l-2.8 -2.8z"/>
<path d="M530.0 210.9l2.8 2.8l-2.8 2.8l-2.8 -2.8z"/>
<path d="M560.6 225.9l2.8 2.8l-2.8 2.8l-2.8 -2.8z"/>
<path d="M502.1 188.3l2.8 2.8l-2.8 2.8l-2.8 -2.8z"/>
<path d="M518.2 186.8l2.8 2.8l-2.8 2.8l-2.8 -2.8z"/>
<path d="M461.7 156.3l2.8 2.8l-2.8 2.8l-2.8 -2.8z"/>
<path d="M481.7 155.3l2.8 2.8l-2.8 2.8l-2.8 -2.8z"/>
<path d="M451.3 147.0l2.8 2.8l-2.8 2.8l-2.8 -2.8z"/>
<path d="M527.4 198.1l2.8 2.8l-2.8 2.8l-2.8 -2.8z"/>
<path d="M505.6 185.6l2.8 2.8l-2.8 2.8l-2.8 -2.8z"/>
<path d="M460.7 142.3l2.8 2.8l-2.8 2.8l-2.8 -2.8z"/>
<path d="M562.7 218.4l2.8 2.8l-2.8 2.8l-2.8 -2.8z"/>
<path d="M500.3 190.6l2.8 2.8l-2.8 2.8l-2.8 -2.8z"/>
<path d="M497.0 173.8l2.8 2.8l-2.8 2.8l-2.8 -2.8z"/>
<path d="M555.9 227.2l2.8 2.8l-2.8 2.8l-2.8 -2.8z"/>
<path d="M462.1 160.2l2.8 2.8l-2.8 2.8l-2.8 -2.8z"/>
<path d="M462.1 150.1l2.8 2.8l-2.8 2.8l-2.8 -2.8z"/>
<path d="M550.9 214.4l2.8 2.8l-2.8 2.8l-2.8 -2.8z"/>
<path d="M551.4 211.1l2.8 2.8l-2.8 2.8l-2.8 -2.8z"/>
<path d="M445.3 137.2l2.8 2.8l-2.8 2.8l-2.8 -2.8z"/>
<path d="M479.7 162.1l2.8 2.8l-2.8 2.8l-2.8 -2.8z"/>
<path d="M484.1 156.3l2.8 2.8l-2.8 2.8l-2.8 -2.8z"/>
<path d="M535.1 199.8l2.8 2.8l-2.8 2.8l-2.8 -2.8z"/>
<path d="M555.7 232.2l2.8 2.8l-2.8 2.8l-2.8 -2.8z"/>
<path d="M479.3 161.9l2.8 2.8l-2.8 2.8l-2.8 -2.8z"/>
<path d="M563.7 227.6l2.8 2.8l-2.8 2.8l-2.8 -2.8z"/>
<path d="M713.9 237.5l2.8 2.8l-2.8 2.8l-2.8 -2.8z"/>
<path d="M686.8 241.0l2.8 2.8l-2.8 2.8l-2.8 -2.8z"/>
<path d="M756.4 265.3l2.8 2.8l-2.8 2.8l-2.8 -2.8z"/>
<path d="M720.8 249.3l2.8 2.8l-2.8 2.8l-2.8 -2.8z"/>
<path d="M760.7 281.0l2.8 2.8l-2.8 2.8l-2.8 -2.8z"/>
<path d="M734.1 269.2l2.8 2.8l-2.8 2.8l-2.8 -2.8z"/>
<path d="M726.3 241.9l2.8 2.8l-2.8 2.8l-2.8 -2.8z"/>
<path d="M740.8 268.6l2.8 2.8l-2.8 2.8l-2.8 -2.8z"/>
<path d="M732.7 245.7l2.8 2.8l-2.8 2.8l-2.8 -2.8z"/>
<path d="M755.2 270.5l2.8 2.8l-2.8 2.8l-2.8 -2.8z"/>
<path d="M706.9 252.6l2.8 2.8l-2.8 2.8l-2.8 -2.8z"/>
<path d="M759.9 277.6l2.8 2.8l-2.8 2.8l-2.8 -2.8z"/>
<path d="M704.3 241.5l2.8 2.8l-2.8 2.8l-2.8 -2.8z"/>
<path d="M690.1 237.2l2.8 2.8l-2.8 2.8l-2.8 -2.8z"/>
<path d="M754.9 262.9l2.8 2.8l-2.8 2.8l-2.8 -2.8z"/>
<path d="M756.9 269.1l2.8 2.8l-2.8 2.8l-2.8 -2.8z"/>
<path d="M687.7 234.7l2.8 2.8l-2.8 2.8l-2.8 -2.8z"/>
<path d="M705.9 239.0l2.8 2.8l-2.8 2.8l-2.8 -2.8z"/>
<path d="M700.3 255.0l2.8 2.8l-2.8 2.8l-2.8 -2.8z"/>
<path d="M742.0 260.3l2.8 2.8l-2.8 2.8l-2.8 -2.8z"/>
<path d="M722.8 248.8l2.8 2.8l-2.8 2.8l-2.8 -2.8z"/>
<path d="M681.0 260.4l2.8 2.8l-2.8 2.8l-2.8 -2.8z"/>
<path d="M687.7 249.6l2.8 2.8l-2.8 2.8l-2.8 -2.8z"/>
<path d="M750.2 262.3l2.8 2.8l-2.8 2.8l-2.8 -2.8z"/>
<path d="M698.7 243.1l2.8 2.8l-2.8 2.8l-2.8 -2.8z"/>
<path d="M760.4 282.5l2.8 2.8l-2.8 2.8l-2.8 -2.8z"/>
<path d="M676.3 254.5l2.8 2.8l-2.8 2.8l-2.8 -2.8z"/>
<path d="M754.0 272.3l2.8 2.8l-2.8 2.8l-2.8 -2.8z"/>
<path d="M675.8 260.9l2.8 2.8l-2.8 2.8l-2.8 -2.8z"/>
<path d="M749.8 279.3l2.8 2.8l-2.8 2.8l-2.8 -2.8z"/>
<path d="M697.5 235.2l2.8 2.8l-2.8 2.8l-2.8 -2.8z"/>
<path d="M723.8 265.0l2.8 2.8l-2.8 2.8l-2.8 -2.8z"/>
<path d="M740.7 268.4l2.8 2.8l-2.8 2.8l-2.8 -2.8z"/>
<path d="M717.6 238.4l2.8 2.8l-2.8 2.8l-2.8 -2.8z"/>
<path d="M743.9 275.7l2.8 2.8l-2.8 2.8l-2.8 -2.8z"/>
<path d="M140.4 571.3l2.8 2.8l-2.8 2.8l-2.8 -2.8z"/>
<path d="M381.1 544.6l2.8 2.8l-2.8 2.8l-2.8 -2.8z"/>
<path d="M327.9 578.5l2.8 2.8l-2.8 2.8l-2.8 -2.8z"/>
<path d="M355.9 609.5l2.8 2.8l-2.8 2.8l-2.8 -2.8z"/>
<path d="M358.6 612.3l2.8 2.8l-2.8 2.8l-2.8 -2.8z"/>
<path d="M366.7 609.5l2.8 2.8l-2.8 2.8l-2.8 -2.8z"/>
<path d="M369.4 616.8l2.8 2.8l-2.8 2.8l-2.8 -2.8z"/>
<path d="M392.8 615.0l2.8 2.8l-2.8 2.8l-2.8 -2.8z"/>
<path d="M347.8 620.4l2.8 2.8l-2.8 2.8l-2.8 -2.8z"/>
<path d="M278.4 618.9l2.8 2.8l-2.8 2.8l-2.8 -2.8z"/>
<path d="M416.6 520.3l2.8 2.8l-2.8 2.8l-2.8 -2.8z"/>
<path d="M436.5 567.2l2.8 2.8l-2.8 2.8l-2.8 -2.8z"/>
<path d="M433.8 571.7l2.8 2.8l-2.8 2.8l-2.8 -2.8z"/>
<path d="M425.3 578.5l2.8 2.8l-2.8 2.8l-2.8 -2.8z"/>
<path d="M482.4 592.4l2.8 2.8l-2.8 2.8l-2.8 -2.8z"/>
<path d="M480.1 600.2l2.8 2.8l-2.8 2.8l-2.8 -2.8z"/>
<path d="M411.2 605.0l2.8 2.8l-2.8 2.8l-2.8 -2.8z"/>
<path d="M418.4 605.0l2.8 2.8l-2.8 2.8l-2.8 -2.8z"/>
<path d="M404.0 615.9l2.8 2.8l-2.8 2.8l-2.8 -2.8z"/>
<path d="M411.2 615.0l2.8 2.8l-2.8 2.8l-2.8 -2.8z"/>
<path d="M413.9 617.7l2.8 2.8l-2.8 2.8l-2.8 -2.8z"/>
<path d="M422.0 618.6l2.8 2.8l-2.8 2.8l-2.8 -2.8z"/>
<path d="M429.3 621.3l2.8 2.8l-2.8 2.8l-2.8 -2.8z"/>
<path d="M453.6 618.6l2.8 2.8l-2.8 2.8l-2.8 -2.8z"/>
<path d="M395.0 615.9l2.8 2.8l-2.8 2.8l-2.8 -2.8z"/>
<path d="M133.2 629.8l2.8 2.8l-2.8 2.8l-2.8 -2.8z"/>
<path d="M153.6 636.6l2.8 2.8l-2.8 2.8l-2.8 -2.8z"/>
<path d="M158.1 639.3l2.8 2.8l-2.8 2.8l-2.8 -2.8z"/>
<path d="M142.2 645.3l2.8 2.8l-2.8 2.8l-2.8 -2.8z"/>
<path d="M145.8 651.0l2.8 2.8l-2.8 2.8l-2.8 -2.8z"/>
<path d="M128.0 654.6l2.8 2.8l-2.8 2.8l-2.8 -2.8z"/>
<path d="M172.5 658.3l2.8 2.8l-2.8 2.8l-2.8 -2.8z"/>
<path d="M147.6 665.1l2.8 2.8l-2.8 2.8l-2.8 -2.8z"/>
<path d="M151.2 675.9l2.8 2.8l-2.8 2.8l-2.8 -2.8z"/>
<path d="M163.5 679.5l2.8 2.8l-2.8 2.8l-2.8 -2.8z"/>
<path d="M243.7 686.2l2.8 2.8l-2.8 2.8l-2.8 -2.8z"/>
<path d="M135.0 688.4l2.8 2.8l-2.8 2.8l-2.8 -2.8z"/>
<path d="M147.3 686.2l2.8 2.8l-2.8 2.8l-2.8 -2.8z"/>
<path d="M142.8 690.7l2.8 2.8l-2.8 2.8l-2.8 -2.8z"/>
<path d="M146.4 694.3l2.8 2.8l-2.8 2.8l-2.8 -2.8z"/>
<path d="M174.0 688.4l2.8 2.8l-2.8 2.8l-2.8 -2.8z"/>
<path d="M150.9 701.5l2.8 2.8l-2.8 2.8l-2.8 -2.8z"/>
<path d="M156.3 704.2l2.8 2.8l-2.8 2.8l-2.8 -2.8z"/>
<path d="M200.5 700.1l2.8 2.8l-2.8 2.8l-2.8 -2.8z"/>
<path d="M131.6 707.7l2.8 2.8l-2.8 2.8l-2.8 -2.8z"/>
<path d="M149.1 711.4l2.8 2.8l-2.8 2.8l-2.8 -2.8z"/>
<path d="M184.6 707.7l2.8 2.8l-2.8 2.8l-2.8 -2.8z"/>
<path d="M165.3 713.2l2.8 2.8l-2.8 2.8l-2.8 -2.8z"/>
<path d="M172.5 715.9l2.8 2.8l-2.8 2.8l-2.8 -2.8z"/>
<path d="M177.9 718.6l2.8 2.8l-2.8 2.8l-2.8 -2.8z"/>
<path d="M154.5 720.5l2.8 2.8l-2.8 2.8l-2.8 -2.8z"/>
<path d="M168.9 721.4l2.8 2.8l-2.8 2.8l-2.8 -2.8z"/>
<path d="M193.3 718.6l2.8 2.8l-2.8 2.8l-2.8 -2.8z"/>
<path d="M204.1 725.0l2.8 2.8l-2.8 2.8l-2.8 -2.8z"/>
<path d="M222.1 721.4l2.8 2.8l-2.8 2.8l-2.8 -2.8z"/>
<path d="M127.4 728.6l2.8 2.8l-2.8 2.8l-2.8 -2.8z"/>
<path d="M179.7 728.6l2.8 2.8l-2.8 2.8l-2.8 -2.8z"/>
<path d="M216.7 730.4l2.8 2.8l-2.8 2.8l-2.8 -2.8z"/>
<path d="M151.8 731.3l2.8 2.8l-2.8 2.8l-2.8 -2.8z"/>
<path d="M347.8 624.0l2.8 2.8l-2.8 2.8l-2.8 -2.8z"/>
<path d="M342.3 636.6l2.8 2.8l-2.8 2.8l-2.8 -2.8z"/>
<path d="M351.4 634.8l2.8 2.8l-2.8 2.8l-2.8 -2.8z"/>
<path d="M280.2 642.0l2.8 2.8l-2.8 2.8l-2.8 -2.8z"/>
<path d="M296.4 656.1l2.8 2.8l-2.8 2.8l-2.8 -2.8z"/>
<path d="M282.0 669.1l2.8 2.8l-2.8 2.8l-2.8 -2.8z"/>
<path d="M278.4 673.6l2.8 2.8l-2.8 2.8l-2.8 -2.8z"/>
<path d="M246.8 686.2l2.8 2.8l-2.8 2.8l-2.8 -2.8z"/>
<path d="M287.4 693.4l2.8 2.8l-2.8 2.8l-2.8 -2.8z"/>
<path d="M303.6 693.4l2.8 2.8l-2.8 2.8l-2.8 -2.8z"/>
<path d="M263.0 710.5l2.8 2.8l-2.8 2.8l-2.8 -2.8z"/>
<path d="M266.6 713.2l2.8 2.8l-2.8 2.8l-2.8 -2.8z"/>
<path d="M285.6 725.0l2.8 2.8l-2.8 2.8l-2.8 -2.8z"/>
<path d="M326.1 664.6l2.8 2.8l-2.8 2.8l-2.8 -2.8z"/>
<path d="M335.1 661.0l2.8 2.8l-2.8 2.8l-2.8 -2.8z"/>
<path d="M338.7 659.2l2.8 2.8l-2.8 2.8l-2.8 -2.8z"/>
<path d="M336.0 666.4l2.8 2.8l-2.8 2.8l-2.8 -2.8z"/>
<path d="M345.1 652.8l2.8 2.8l-2.8 2.8l-2.8 -2.8z"/>
<path d="M349.6 654.6l2.8 2.8l-2.8 2.8l-2.8 -2.8z"/>
<path d="M353.2 651.0l2.8 2.8l-2.8 2.8l-2.8 -2.8z"/>
<path d="M356.8 645.6l2.8 2.8l-2.8 2.8l-2.8 -2.8z"/>
<path d="M360.4 640.2l2.8 2.8l-2.8 2.8l-2.8 -2.8z"/>
<path d="M364.0 641.1l2.8 2.8l-2.8 2.8l-2.8 -2.8z"/>
<path d="M353.2 642.0l2.8 2.8l-2.8 2.8l-2.8 -2.8z"/>
<path d="M363.1 649.2l2.8 2.8l-2.8 2.8l-2.8 -2.8z"/>
<path d="M358.6 655.6l2.8 2.8l-2.8 2.8l-2.8 -2.8z"/>
<path d="M364.0 658.3l2.8 2.8l-2.8 2.8l-2.8 -2.8z"/>
<path d="M360.4 663.7l2.8 2.8l-2.8 2.8l-2.8 -2.8z"/>
<path d="M349.6 668.2l2.8 2.8l-2.8 2.8l-2.8 -2.8z"/>
<path d="M356.8 663.7l2.8 2.8l-2.8 2.8l-2.8 -2.8z"/>
<path d="M371.2 653.7l2.8 2.8l-2.8 2.8l-2.8 -2.8z"/>
<path d="M374.8 651.0l2.8 2.8l-2.8 2.8l-2.8 -2.8z"/>
<path d="M376.6 658.3l2.8 2.8l-2.8 2.8l-2.8 -2.8z"/>
<path d="M380.2 634.8l2.8 2.8l-2.8 2.8l-2.8 -2.8z"/>
<path d="M384.7 635.7l2.8 2.8l-2.8 2.8l-2.8 -2.8z"/>
<path d="M387.4 640.2l2.8 2.8l-2.8 2.8l-2.8 -2.8z"/>
<path d="M385.6 645.6l2.8 2.8l-2.8 2.8l-2.8 -2.8z"/>
<path d="M389.2 649.2l2.8 2.8l-2.8 2.8l-2.8 -2.8z"/>
<path d="M382.0 656.5l2.8 2.8l-2.8 2.8l-2.8 -2.8z"/>
<path d="M387.4 658.3l2.8 2.8l-2.8 2.8l-2.8 -2.8z"/>
<path d="M391.0 654.6l2.8 2.8l-2.8 2.8l-2.8 -2.8z"/>
<path d="M392.8 661.9l2.8 2.8l-2.8 2.8l-2.8 -2.8z"/>
<path d="M371.2 661.9l2.8 2.8l-2.8 2.8l-2.8 -2.8z"/>
<path d="M367.6 667.3l2.8 2.8l-2.8 2.8l-2.8 -2.8z"/>
<path d="M309.0 684.4l2.8 2.8l-2.8 2.8l-2.8 -2.8z"/>
<path d="M316.2 684.4l2.8 2.8l-2.8 2.8l-2.8 -2.8z"/>
<path d="M318.9 688.9l2.8 2.8l-2.8 2.8l-2.8 -2.8z"/>
<path d="M324.3 679.9l2.8 2.8l-2.8 2.8l-2.8 -2.8z"/>
<path d="M329.7 679.9l2.8 2.8l-2.8 2.8l-2.8 -2.8z"/>
<path d="M326.1 685.3l2.8 2.8l-2.8 2.8l-2.8 -2.8z"/>
<path d="M331.5 688.9l2.8 2.8l-2.8 2.8l-2.8 -2.8z"/>
<path d="M329.7 694.3l2.8 2.8l-2.8 2.8l-2.8 -2.8z"/>
<path d="M335.1 690.7l2.8 2.8l-2.8 2.8l-2.8 -2.8z"/>
<path d="M338.7 687.1l2.8 2.8l-2.8 2.8l-2.8 -2.8z"/>
<path d="M342.3 686.2l2.8 2.8l-2.8 2.8l-2.8 -2.8z"/>
<path d="M346.0 687.1l2.8 2.8l-2.8 2.8l-2.8 -2.8z"/>
<path d="M342.3 676.3l2.8 2.8l-2.8 2.8l-2.8 -2.8z"/>
<path d="M347.8 676.3l2.8 2.8l-2.8 2.8l-2.8 -2.8z"/>
<path d="M349.6 681.7l2.8 2.8l-2.8 2.8l-2.8 -2.8z"/>
<path d="M353.2 679.9l2.8 2.8l-2.8 2.8l-2.8 -2.8z"/>
<path d="M313.5 690.7l2.8 2.8l-2.8 2.8l-2.8 -2.8z"/>
<path d="M317.1 696.1l2.8 2.8l-2.8 2.8l-2.8 -2.8z"/>
<path d="M320.7 699.7l2.8 2.8l-2.8 2.8l-2.8 -2.8z"/>
<path d="M324.3 703.3l2.8 2.8l-2.8 2.8l-2.8 -2.8z"/>
<path d="M327.9 697.9l2.8 2.8l-2.8 2.8l-2.8 -2.8z"/>
<path d="M335.1 697.9l2.8 2.8l-2.8 2.8l-2.8 -2.8z"/>
<path d="M331.5 703.3l2.8 2.8l-2.8 2.8l-2.8 -2.8z"/>
<path d="M333.3 706.9l2.8 2.8l-2.8 2.8l-2.8 -2.8z"/>
<path d="M317.1 705.1l2.8 2.8l-2.8 2.8l-2.8 -2.8z"/>
<path d="M313.5 710.5l2.8 2.8l-2.8 2.8l-2.8 -2.8z"/>
<path d="M309.9 714.1l2.8 2.8l-2.8 2.8l-2.8 -2.8z"/>
<path d="M318.9 712.3l2.8 2.8l-2.8 2.8l-2.8 -2.8z"/>
<path d="M297.3 705.1l2.8 2.8l-2.8 2.8l-2.8 -2.8z"/>
<path d="M299.1 706.9l2.8 2.8l-2.8 2.8l-2.8 -2.8z"/>
<path d="M299.1 715.9l2.8 2.8l-2.8 2.8l-2.8 -2.8z"/>
<path d="M297.3 719.5l2.8 2.8l-2.8 2.8l-2.8 -2.8z"/>
<path d="M300.9 714.1l2.8 2.8l-2.8 2.8l-2.8 -2.8z"/>
<path d="M304.5 723.2l2.8 2.8l-2.8 2.8l-2.8 -2.8z"/>
<path d="M308.1 728.6l2.8 2.8l-2.8 2.8l-2.8 -2.8z"/>
<path d="M313.5 726.8l2.8 2.8l-2.8 2.8l-2.8 -2.8z"/>
<path d="M304.5 712.3l2.8 2.8l-2.8 2.8l-2.8 -2.8z"/>
<path d="M336.9 710.5l2.8 2.8l-2.8 2.8l-2.8 -2.8z"/>
<path d="M346.0 697.9l2.8 2.8l-2.8 2.8l-2.8 -2.8z"/>
<path d="M351.4 696.1l2.8 2.8l-2.8 2.8l-2.8 -2.8z"/>
<path d="M355.9 694.3l2.8 2.8l-2.8 2.8l-2.8 -2.8z"/>
<path d="M367.6 689.8l2.8 2.8l-2.8 2.8l-2.8 -2.8z"/>
<path d="M373.0 676.3l2.8 2.8l-2.8 2.8l-2.8 -2.8z"/>
<path d="M378.4 676.3l2.8 2.8l-2.8 2.8l-2.8 -2.8z"/>
<path d="M380.2 679.9l2.8 2.8l-2.8 2.8l-2.8 -2.8z"/>
<path d="M387.4 681.7l2.8 2.8l-2.8 2.8l-2.8 -2.8z"/>
<path d="M389.2 684.4l2.8 2.8l-2.8 2.8l-2.8 -2.8z"/>
<path d="M391.0 669.1l2.8 2.8l-2.8 2.8l-2.8 -2.8z"/>
<path d="M342.3 688.9l2.8 2.8l-2.8 2.8l-2.8 -2.8z"/>
<path d="M345.1 687.1l2.8 2.8l-2.8 2.8l-2.8 -2.8z"/>
<path d="M402.2 625.8l2.8 2.8l-2.8 2.8l-2.8 -2.8z"/>
<path d="M405.8 629.4l2.8 2.8l-2.8 2.8l-2.8 -2.8z"/>
<path d="M414.8 631.2l2.8 2.8l-2.8 2.8l-2.8 -2.8z"/>
<path d="M422.0 630.3l2.8 2.8l-2.8 2.8l-2.8 -2.8z"/>
<path d="M427.4 627.6l2.8 2.8l-2.8 2.8l-2.8 -2.8z"/>
<path d="M431.1 634.8l2.8 2.8l-2.8 2.8l-2.8 -2.8z"/>
<path d="M425.6 636.6l2.8 2.8l-2.8 2.8l-2.8 -2.8z"/>
<path d="M413.0 640.2l2.8 2.8l-2.8 2.8l-2.8 -2.8z"/>
<path d="M418.4 642.0l2.8 2.8l-2.8 2.8l-2.8 -2.8z"/>
<path d="M432.9 642.0l2.8 2.8l-2.8 2.8l-2.8 -2.8z"/>
<path d="M440.1 627.6l2.8 2.8l-2.8 2.8l-2.8 -2.8z"/>
<path d="M398.6 640.2l2.8 2.8l-2.8 2.8l-2.8 -2.8z"/>
<path d="M397.7 645.6l2.8 2.8l-2.8 2.8l-2.8 -2.8z"/>
<path d="M402.2 649.2l2.8 2.8l-2.8 2.8l-2.8 -2.8z"/>
<path d="M407.6 651.0l2.8 2.8l-2.8 2.8l-2.8 -2.8z"/>
<path d="M409.4 656.5l2.8 2.8l-2.8 2.8l-2.8 -2.8z"/>
<path d="M400.4 654.6l2.8 2.8l-2.8 2.8l-2.8 -2.8z"/>
<path d="M422.0 649.2l2.8 2.8l-2.8 2.8l-2.8 -2.8z"/>
<path d="M436.5 656.5l2.8 2.8l-2.8 2.8l-2.8 -2.8z"/>
<path d="M449.1 651.0l2.8 2.8l-2.8 2.8l-2.8 -2.8z"/>
<path d="M452.7 652.8l2.8 2.8l-2.8 2.8l-2.8 -2.8z"/>
<path d="M431.1 661.9l2.8 2.8l-2.8 2.8l-2.8 -2.8z"/>
<path d="M434.7 665.5l2.8 2.8l-2.8 2.8l-2.8 -2.8z"/>
<path d="M438.3 669.1l2.8 2.8l-2.8 2.8l-2.8 -2.8z"/>
<path d="M440.1 672.7l2.8 2.8l-2.8 2.8l-2.8 -2.8z"/>
<path d="M445.5 667.3l2.8 2.8l-2.8 2.8l-2.8 -2.8z"/>
<path d="M449.1 669.1l2.8 2.8l-2.8 2.8l-2.8 -2.8z"/>
<path d="M452.7 665.5l2.8 2.8l-2.8 2.8l-2.8 -2.8z"/>
<path d="M458.1 665.5l2.8 2.8l-2.8 2.8l-2.8 -2.8z"/>
<path d="M463.5 665.5l2.8 2.8l-2.8 2.8l-2.8 -2.8z"/>
<path d="M459.9 674.5l2.8 2.8l-2.8 2.8l-2.8 -2.8z"/>
<path d="M465.3 676.3l2.8 2.8l-2.8 2.8l-2.8 -2.8z"/>
<path d="M463.5 681.7l2.8 2.8l-2.8 2.8l-2.8 -2.8z"/>
<path d="M465.3 687.1l2.8 2.8l-2.8 2.8l-2.8 -2.8z"/>
<path d="M441.9 678.1l2.8 2.8l-2.8 2.8l-2.8 -2.8z"/>
<path d="M447.3 681.7l2.8 2.8l-2.8 2.8l-2.8 -2.8z"/>
<path d="M450.9 685.3l2.8 2.8l-2.8 2.8l-2.8 -2.8z"/>
<path d="M454.5 687.1l2.8 2.8l-2.8 2.8l-2.8 -2.8z"/>
<path d="M456.3 690.7l2.8 2.8l-2.8 2.8l-2.8 -2.8z"/>
<path d="M452.7 694.3l2.8 2.8l-2.8 2.8l-2.8 -2.8z"/>
<path d="M458.1 694.3l2.8 2.8l-2.8 2.8l-2.8 -2.8z"/>
<path d="M463.5 694.3l2.8 2.8l-2.8 2.8l-2.8 -2.8z"/>
<path d="M472.5 670.9l2.8 2.8l-2.8 2.8l-2.8 -2.8z"/>
<path d="M485.1 665.5l2.8 2.8l-2.8 2.8l-2.8 -2.8z"/>
<path d="M501.4 643.8l2.8 2.8l-2.8 2.8l-2.8 -2.8z"/>
<path d="M503.2 654.6l2.8 2.8l-2.8 2.8l-2.8 -2.8z"/>
<path d="M515.8 663.7l2.8 2.8l-2.8 2.8l-2.8 -2.8z"/>
<path d="M477.9 683.5l2.8 2.8l-2.8 2.8l-2.8 -2.8z"/>
<path d="M483.3 688.9l2.8 2.8l-2.8 2.8l-2.8 -2.8z"/>
<path d="M488.7 683.5l2.8 2.8l-2.8 2.8l-2.8 -2.8z"/>
<path d="M492.3 681.7l2.8 2.8l-2.8 2.8l-2.8 -2.8z"/>
<path d="M497.8 672.7l2.8 2.8l-2.8 2.8l-2.8 -2.8z"/>
<path d="M499.6 676.3l2.8 2.8l-2.8 2.8l-2.8 -2.8z"/>
<path d="M503.2 683.5l2.8 2.8l-2.8 2.8l-2.8 -2.8z"/>
<path d="M505.0 687.1l2.8 2.8l-2.8 2.8l-2.8 -2.8z"/>
<path d="M510.4 690.7l2.8 2.8l-2.8 2.8l-2.8 -2.8z"/>
<path d="M499.6 694.3l2.8 2.8l-2.8 2.8l-2.8 -2.8z"/>
<path d="M503.2 697.9l2.8 2.8l-2.8 2.8l-2.8 -2.8z"/>
<path d="M490.5 697.9l2.8 2.8l-2.8 2.8l-2.8 -2.8z"/>
<path d="M488.7 703.3l2.8 2.8l-2.8 2.8l-2.8 -2.8z"/>
<path d="M486.9 708.7l2.8 2.8l-2.8 2.8l-2.8 -2.8z"/>
<path d="M494.2 701.5l2.8 2.8l-2.8 2.8l-2.8 -2.8z"/>
<path d="M496.0 706.9l2.8 2.8l-2.8 2.8l-2.8 -2.8z"/>
<path d="M488.7 712.3l2.8 2.8l-2.8 2.8l-2.8 -2.8z"/>
<path d="M501.4 715.9l2.8 2.8l-2.8 2.8l-2.8 -2.8z"/>
<path d="M508.6 701.5l2.8 2.8l-2.8 2.8l-2.8 -2.8z"/>
<path d="M512.2 710.5l2.8 2.8l-2.8 2.8l-2.8 -2.8z"/>
<path d="M514.0 721.4l2.8 2.8l-2.8 2.8l-2.8 -2.8z"/>
<path d="M472.5 712.3l2.8 2.8l-2.8 2.8l-2.8 -2.8z"/>
<path d="M476.1 712.3l2.8 2.8l-2.8 2.8l-2.8 -2.8z"/>
<path d="M472.5 717.7l2.8 2.8l-2.8 2.8l-2.8 -2.8z"/>
<path d="M479.7 721.4l2.8 2.8l-2.8 2.8l-2.8 -2.8z"/>
<path d="M481.5 726.8l2.8 2.8l-2.8 2.8l-2.8 -2.8z"/>
<path d="M488.7 726.8l2.8 2.8l-2.8 2.8l-2.8 -2.8z"/>
<path d="M505.0 726.8l2.8 2.8l-2.8 2.8l-2.8 -2.8z"/>
<path d="M508.6 725.0l2.8 2.8l-2.8 2.8l-2.8 -2.8z"/>
<path d="M535.6 660.1l2.8 2.8l-2.8 2.8l-2.8 -2.8z"/>
<path d="M541.0 658.3l2.8 2.8l-2.8 2.8l-2.8 -2.8z"/>
<path d="M544.6 658.3l2.8 2.8l-2.8 2.8l-2.8 -2.8z"/>
<path d="M539.2 674.5l2.8 2.8l-2.8 2.8l-2.8 -2.8z"/>
<path d="M544.6 678.1l2.8 2.8l-2.8 2.8l-2.8 -2.8z"/>
<path d="M533.8 681.7l2.8 2.8l-2.8 2.8l-2.8 -2.8z"/>
<path d="M537.4 688.9l2.8 2.8l-2.8 2.8l-2.8 -2.8z"/>
<path d="M532.0 694.3l2.8 2.8l-2.8 2.8l-2.8 -2.8z"/>
<path d="M537.4 697.9l2.8 2.8l-2.8 2.8l-2.8 -2.8z"/>
<path d="M539.2 703.3l2.8 2.8l-2.8 2.8l-2.8 -2.8z"/>
<path d="M532.0 710.5l2.8 2.8l-2.8 2.8l-2.8 -2.8z"/>
<path d="M537.4 714.1l2.8 2.8l-2.8 2.8l-2.8 -2.8z"/>
<path d="M542.8 719.5l2.8 2.8l-2.8 2.8l-2.8 -2.8z"/>
<path d="M539.2 725.0l2.8 2.8l-2.8 2.8l-2.8 -2.8z"/>
<path d="M542.8 728.6l2.8 2.8l-2.8 2.8l-2.8 -2.8z"/>
<path d="M396.8 667.3l2.8 2.8l-2.8 2.8l-2.8 -2.8z"/>
<path d="M405.8 670.9l2.8 2.8l-2.8 2.8l-2.8 -2.8z"/>
<path d="M407.6 674.5l2.8 2.8l-2.8 2.8l-2.8 -2.8z"/>
<path d="M416.6 669.1l2.8 2.8l-2.8 2.8l-2.8 -2.8z"/>
<path d="M443.7 699.7l2.8 2.8l-2.8 2.8l-2.8 -2.8z"/>
<path d="M442.8 710.5l2.8 2.8l-2.8 2.8l-2.8 -2.8z"/>
<path d="M441.9 714.1l2.8 2.8l-2.8 2.8l-2.8 -2.8z"/>
<path d="M443.7 726.8l2.8 2.8l-2.8 2.8l-2.8 -2.8z"/>
<path d="M458.1 723.2l2.8 2.8l-2.8 2.8l-2.8 -2.8z"/>
<path d="M463.5 721.4l2.8 2.8l-2.8 2.8l-2.8 -2.8z"/>
<path d="M468.9 728.6l2.8 2.8l-2.8 2.8l-2.8 -2.8z"/>
<path d="M600.9 659.2l2.8 2.8l-2.8 2.8l-2.8 -2.8z"/>
<path d="M547.7 671.8l2.8 2.8l-2.8 2.8l-2.8 -2.8z"/>
<path d="M673.4 665.1l2.8 2.8l-2.8 2.8l-2.8 -2.8z"/>
<path d="M673.4 675.9l2.8 2.8l-2.8 2.8l-2.8 -2.8z"/>
<path d="M604.5 686.2l2.8 2.8l-2.8 2.8l-2.8 -2.8z"/>
<path d="M609.9 684.4l2.8 2.8l-2.8 2.8l-2.8 -2.8z"/>
<path d="M553.1 689.8l2.8 2.8l-2.8 2.8l-2.8 -2.8z"/>
<path d="M559.4 688.9l2.8 2.8l-2.8 2.8l-2.8 -2.8z"/>
<path d="M557.6 695.2l2.8 2.8l-2.8 2.8l-2.8 -2.8z"/>
<path d="M653.2 691.6l2.8 2.8l-2.8 2.8l-2.8 -2.8z"/>
<path d="M658.6 695.2l2.8 2.8l-2.8 2.8l-2.8 -2.8z"/>
<path d="M656.8 700.6l2.8 2.8l-2.8 2.8l-2.8 -2.8z"/>
<path d="M668.5 691.6l2.8 2.8l-2.8 2.8l-2.8 -2.8z"/>
<path d="M546.8 699.7l2.8 2.8l-2.8 2.8l-2.8 -2.8z"/>
<path d="M548.6 705.1l2.8 2.8l-2.8 2.8l-2.8 -2.8z"/>
<path d="M549.5 712.3l2.8 2.8l-2.8 2.8l-2.8 -2.8z"/>
<path d="M546.8 715.9l2.8 2.8l-2.8 2.8l-2.8 -2.8z"/>
<path d="M574.7 710.5l2.8 2.8l-2.8 2.8l-2.8 -2.8z"/>
<path d="M577.4 706.9l2.8 2.8l-2.8 2.8l-2.8 -2.8z"/>
<path d="M581.1 706.0l2.8 2.8l-2.8 2.8l-2.8 -2.8z"/>
<path d="M586.5 706.0l2.8 2.8l-2.8 2.8l-2.8 -2.8z"/>
<path d="M577.4 716.8l2.8 2.8l-2.8 2.8l-2.8 -2.8z"/>
<path d="M677.5 712.3l2.8 2.8l-2.8 2.8l-2.8 -2.8z"/>
<path d="M693.7 712.3l2.8 2.8l-2.8 2.8l-2.8 -2.8z"/>
<path d="M555.8 721.4l2.8 2.8l-2.8 2.8l-2.8 -2.8z"/>
<path d="M554.0 727.7l2.8 2.8l-2.8 2.8l-2.8 -2.8z"/>
<path d="M579.3 728.6l2.8 2.8l-2.8 2.8l-2.8 -2.8z"/>
<path d="M586.5 730.4l2.8 2.8l-2.8 2.8l-2.8 -2.8z"/>
<path d="M591.9 731.3l2.8 2.8l-2.8 2.8l-2.8 -2.8z"/>
<path d="M608.1 729.5l2.8 2.8l-2.8 2.8l-2.8 -2.8z"/>
<path d="M655.0 730.4l2.8 2.8l-2.8 2.8l-2.8 -2.8z"/>
<path d="M664.0 730.4l2.8 2.8l-2.8 2.8l-2.8 -2.8z"/>
<path d="M667.6 730.4l2.8 2.8l-2.8 2.8l-2.8 -2.8z"/>
<path d="M786.6 631.6l2.8 2.8l-2.8 2.8l-2.8 -2.8z"/>
<path d="M775.7 675.7l2.8 2.8l-2.8 2.8l-2.8 -2.8z"/>
<path d="M792.0 672.1l2.8 2.8l-2.8 2.8l-2.8 -2.8z"/>
<path d="M746.0 698.8l2.8 2.8l-2.8 2.8l-2.8 -2.8z"/>
<path d="M747.8 710.9l2.8 2.8l-2.8 2.8l-2.8 -2.8z"/>
<path d="M708.7 728.6l2.8 2.8l-2.8 2.8l-2.8 -2.8z"/>
<path d="M723.1 728.6l2.8 2.8l-2.8 2.8l-2.8 -2.8z"/>
<path d="M784.8 725.3l2.8 2.8l-2.8 2.8l-2.8 -2.8z"/>
<path d="M121.1 813.3l2.8 2.8l-2.8 2.8l-2.8 -2.8z"/>
<path d="M223.4 809.7l2.8 2.8l-2.8 2.8l-2.8 -2.8z"/>
<path d="M218.5 802.5l2.8 2.8l-2.8 2.8l-2.8 -2.8z"/>
<path d="M118.4 796.2l2.8 2.8l-2.8 2.8l-2.8 -2.8z"/>
<path d="M119.3 801.6l2.8 2.8l-2.8 2.8l-2.8 -2.8z"/>
<path d="M128.4 794.4l2.8 2.8l-2.8 2.8l-2.8 -2.8z"/>
<path d="M133.8 792.6l2.8 2.8l-2.8 2.8l-2.8 -2.8z"/>
<path d="M135.6 789.0l2.8 2.8l-2.8 2.8l-2.8 -2.8z"/>
<path d="M138.3 786.3l2.8 2.8l-2.8 2.8l-2.8 -2.8z"/>
<path d="M143.7 784.5l2.8 2.8l-2.8 2.8l-2.8 -2.8z"/>
<path d="M145.5 787.2l2.8 2.8l-2.8 2.8l-2.8 -2.8z"/>
<path d="M122.0 778.2l2.8 2.8l-2.8 2.8l-2.8 -2.8z"/>
<path d="M126.5 780.0l2.8 2.8l-2.8 2.8l-2.8 -2.8z"/>
<path d="M131.1 780.9l2.8 2.8l-2.8 2.8l-2.8 -2.8z"/>
<path d="M138.3 774.6l2.8 2.8l-2.8 2.8l-2.8 -2.8z"/>
<path d="M127.4 770.1l2.8 2.8l-2.8 2.8l-2.8 -2.8z"/>
<path d="M123.8 766.5l2.8 2.8l-2.8 2.8l-2.8 -2.8z"/>
<path d="M121.1 760.1l2.8 2.8l-2.8 2.8l-2.8 -2.8z"/>
<path d="M122.0 761.0l2.8 2.8l-2.8 2.8l-2.8 -2.8z"/>
<path d="M132.0 752.9l2.8 2.8l-2.8 2.8l-2.8 -2.8z"/>
<path d="M136.5 761.9l2.8 2.8l-2.8 2.8l-2.8 -2.8z"/>
<path d="M138.3 765.6l2.8 2.8l-2.8 2.8l-2.8 -2.8z"/>
<path d="M156.3 776.4l2.8 2.8l-2.8 2.8l-2.8 -2.8z"/>
<path d="M161.7 769.2l2.8 2.8l-2.8 2.8l-2.8 -2.8z"/>
<path d="M143.7 737.6l2.8 2.8l-2.8 2.8l-2.8 -2.8z"/>
<path d="M149.1 739.4l2.8 2.8l-2.8 2.8l-2.8 -2.8z"/>
<path d="M147.3 742.1l2.8 2.8l-2.8 2.8l-2.8 -2.8z"/>
<path d="M152.7 743.0l2.8 2.8l-2.8 2.8l-2.8 -2.8z"/>
<path d="M158.1 737.6l2.8 2.8l-2.8 2.8l-2.8 -2.8z"/>
<path d="M159.9 739.4l2.8 2.8l-2.8 2.8l-2.8 -2.8z"/>
<path d="M159.9 750.2l2.8 2.8l-2.8 2.8l-2.8 -2.8z"/>
<path d="M158.1 753.8l2.8 2.8l-2.8 2.8l-2.8 -2.8z"/>
<path d="M163.5 752.0l2.8 2.8l-2.8 2.8l-2.8 -2.8z"/>
<path d="M165.3 757.4l2.8 2.8l-2.8 2.8l-2.8 -2.8z"/>
<path d="M167.1 759.2l2.8 2.8l-2.8 2.8l-2.8 -2.8z"/>
<path d="M170.7 743.0l2.8 2.8l-2.8 2.8l-2.8 -2.8z"/>
<path d="M174.3 740.3l2.8 2.8l-2.8 2.8l-2.8 -2.8z"/>
<path d="M177.9 743.9l2.8 2.8l-2.8 2.8l-2.8 -2.8z"/>
<path d="M181.5 743.0l2.8 2.8l-2.8 2.8l-2.8 -2.8z"/>
<path d="M185.1 746.6l2.8 2.8l-2.8 2.8l-2.8 -2.8z"/>
<path d="M174.3 748.4l2.8 2.8l-2.8 2.8l-2.8 -2.8z"/>
<path d="M179.7 750.2l2.8 2.8l-2.8 2.8l-2.8 -2.8z"/>
<path d="M183.3 752.0l2.8 2.8l-2.8 2.8l-2.8 -2.8z"/>
<path d="M170.7 755.6l2.8 2.8l-2.8 2.8l-2.8 -2.8z"/>
<path d="M174.3 759.2l2.8 2.8l-2.8 2.8l-2.8 -2.8z"/>
<path d="M177.9 762.8l2.8 2.8l-2.8 2.8l-2.8 -2.8z"/>
<path d="M181.5 761.0l2.8 2.8l-2.8 2.8l-2.8 -2.8z"/>
<path d="M185.1 762.8l2.8 2.8l-2.8 2.8l-2.8 -2.8z"/>
<path d="M186.9 755.6l2.8 2.8l-2.8 2.8l-2.8 -2.8z"/>
<path d="M188.7 759.2l2.8 2.8l-2.8 2.8l-2.8 -2.8z"/>
<path d="M190.5 762.8l2.8 2.8l-2.8 2.8l-2.8 -2.8z"/>
<path d="M188.7 766.5l2.8 2.8l-2.8 2.8l-2.8 -2.8z"/>
<path d="M190.5 770.1l2.8 2.8l-2.8 2.8l-2.8 -2.8z"/>
<path d="M196.0 741.2l2.8 2.8l-2.8 2.8l-2.8 -2.8z"/>
<path d="M199.6 750.2l2.8 2.8l-2.8 2.8l-2.8 -2.8z"/>
<path d="M203.2 753.8l2.8 2.8l-2.8 2.8l-2.8 -2.8z"/>
<path d="M206.8 743.0l2.8 2.8l-2.8 2.8l-2.8 -2.8z"/>
<path d="M205.0 735.8l2.8 2.8l-2.8 2.8l-2.8 -2.8z"/>
<path d="M208.6 738.5l2.8 2.8l-2.8 2.8l-2.8 -2.8z"/>
<path d="M215.8 734.0l2.8 2.8l-2.8 2.8l-2.8 -2.8z"/>
<path d="M196.0 762.8l2.8 2.8l-2.8 2.8l-2.8 -2.8z"/>
<path d="M199.6 766.5l2.8 2.8l-2.8 2.8l-2.8 -2.8z"/>
<path d="M203.2 768.3l2.8 2.8l-2.8 2.8l-2.8 -2.8z"/>
<path d="M206.8 764.6l2.8 2.8l-2.8 2.8l-2.8 -2.8z"/>
<path d="M210.4 768.3l2.8 2.8l-2.8 2.8l-2.8 -2.8z"/>
<path d="M212.2 755.6l2.8 2.8l-2.8 2.8l-2.8 -2.8z"/>
<path d="M214.0 759.2l2.8 2.8l-2.8 2.8l-2.8 -2.8z"/>
<path d="M215.8 761.0l2.8 2.8l-2.8 2.8l-2.8 -2.8z"/>
<path d="M219.4 757.4l2.8 2.8l-2.8 2.8l-2.8 -2.8z"/>
<path d="M221.2 762.8l2.8 2.8l-2.8 2.8l-2.8 -2.8z"/>
<path d="M224.8 746.6l2.8 2.8l-2.8 2.8l-2.8 -2.8z"/>
<path d="M228.4 744.8l2.8 2.8l-2.8 2.8l-2.8 -2.8z"/>
<path d="M232.0 746.6l2.8 2.8l-2.8 2.8l-2.8 -2.8z"/>
<path d="M228.4 752.0l2.8 2.8l-2.8 2.8l-2.8 -2.8z"/>
<path d="M235.6 755.6l2.8 2.8l-2.8 2.8l-2.8 -2.8z"/>
<path d="M233.8 761.0l2.8 2.8l-2.8 2.8l-2.8 -2.8z"/>
<path d="M239.2 768.3l2.8 2.8l-2.8 2.8l-2.8 -2.8z"/>
<path d="M242.8 743.0l2.8 2.8l-2.8 2.8l-2.8 -2.8z"/>
<path d="M241.0 752.0l2.8 2.8l-2.8 2.8l-2.8 -2.8z"/>
<path d="M244.6 748.4l2.8 2.8l-2.8 2.8l-2.8 -2.8z"/>
<path d="M188.7 780.0l2.8 2.8l-2.8 2.8l-2.8 -2.8z"/>
<path d="M196.0 783.6l2.8 2.8l-2.8 2.8l-2.8 -2.8z"/>
<path d="M199.6 785.4l2.8 2.8l-2.8 2.8l-2.8 -2.8z"/>
<path d="M196.9 791.7l2.8 2.8l-2.8 2.8l-2.8 -2.8z"/>
<path d="M207.7 792.6l2.8 2.8l-2.8 2.8l-2.8 -2.8z"/>
<path d="M203.2 773.7l2.8 2.8l-2.8 2.8l-2.8 -2.8z"/>
<path d="M206.8 777.3l2.8 2.8l-2.8 2.8l-2.8 -2.8z"/>
<path d="M210.4 780.9l2.8 2.8l-2.8 2.8l-2.8 -2.8z"/>
<path d="M214.0 775.5l2.8 2.8l-2.8 2.8l-2.8 -2.8z"/>
<path d="M217.6 771.9l2.8 2.8l-2.8 2.8l-2.8 -2.8z"/>
<path d="M221.2 770.1l2.8 2.8l-2.8 2.8l-2.8 -2.8z"/>
<path d="M224.8 773.7l2.8 2.8l-2.8 2.8l-2.8 -2.8z"/>
<path d="M228.4 777.3l2.8 2.8l-2.8 2.8l-2.8 -2.8z"/>
<path d="M232.0 775.5l2.8 2.8l-2.8 2.8l-2.8 -2.8z"/>
<path d="M235.6 779.1l2.8 2.8l-2.8 2.8l-2.8 -2.8z"/>
<path d="M239.2 777.3l2.8 2.8l-2.8 2.8l-2.8 -2.8z"/>
<path d="M242.8 782.7l2.8 2.8l-2.8 2.8l-2.8 -2.8z"/>
<path d="M221.2 784.5l2.8 2.8l-2.8 2.8l-2.8 -2.8z"/>
<path d="M224.8 786.3l2.8 2.8l-2.8 2.8l-2.8 -2.8z"/>
<path d="M228.4 789.9l2.8 2.8l-2.8 2.8l-2.8 -2.8z"/>
<path d="M232.0 793.5l2.8 2.8l-2.8 2.8l-2.8 -2.8z"/>
<path d="M237.4 789.9l2.8 2.8l-2.8 2.8l-2.8 -2.8z"/>
<path d="M239.2 797.1l2.8 2.8l-2.8 2.8l-2.8 -2.8z"/>
<path d="M242.8 800.7l2.8 2.8l-2.8 2.8l-2.8 -2.8z"/>
<path d="M228.4 798.9l2.8 2.8l-2.8 2.8l-2.8 -2.8z"/>
<path d="M214.0 786.3l2.8 2.8l-2.8 2.8l-2.8 -2.8z"/>
<path d="M219.4 789.9l2.8 2.8l-2.8 2.8l-2.8 -2.8z"/>
<path d="M224.8 795.3l2.8 2.8l-2.8 2.8l-2.8 -2.8z"/>
<path d="M233.8 800.7l2.8 2.8l-2.8 2.8l-2.8 -2.8z"/>
<path d="M241.0 793.5l2.8 2.8l-2.8 2.8l-2.8 -2.8z"/>
<path d="M245.0 743.0l2.8 2.8l-2.8 2.8l-2.8 -2.8z"/>
<path d="M261.2 750.2l2.8 2.8l-2.8 2.8l-2.8 -2.8z"/>
<path d="M252.2 757.4l2.8 2.8l-2.8 2.8l-2.8 -2.8z"/>
<path d="M276.5 761.9l2.8 2.8l-2.8 2.8l-2.8 -2.8z"/>
<path d="M277.4 739.4l2.8 2.8l-2.8 2.8l-2.8 -2.8z"/>
<path d="M284.7 737.6l2.8 2.8l-2.8 2.8l-2.8 -2.8z"/>
<path d="M288.3 741.2l2.8 2.8l-2.8 2.8l-2.8 -2.8z"/>
<path d="M291.9 737.6l2.8 2.8l-2.8 2.8l-2.8 -2.8z"/>
<path d="M295.5 739.4l2.8 2.8l-2.8 2.8l-2.8 -2.8z"/>
<path d="M299.1 735.8l2.8 2.8l-2.8 2.8l-2.8 -2.8z"/>
<path d="M302.7 734.0l2.8 2.8l-2.8 2.8l-2.8 -2.8z"/>
<path d="M286.5 746.6l2.8 2.8l-2.8 2.8l-2.8 -2.8z"/>
<path d="M290.1 748.4l2.8 2.8l-2.8 2.8l-2.8 -2.8z"/>
<path d="M293.7 744.8l2.8 2.8l-2.8 2.8l-2.8 -2.8z"/>
<path d="M246.8 768.3l2.8 2.8l-2.8 2.8l-2.8 -2.8z"/>
<path d="M250.4 770.1l2.8 2.8l-2.8 2.8l-2.8 -2.8z"/>
<path d="M263.0 766.5l2.8 2.8l-2.8 2.8l-2.8 -2.8z"/>
<path d="M266.6 766.5l2.8 2.8l-2.8 2.8l-2.8 -2.8z"/>
<path d="M259.4 771.0l2.8 2.8l-2.8 2.8l-2.8 -2.8z"/>
<path d="M263.0 773.7l2.8 2.8l-2.8 2.8l-2.8 -2.8z"/>
<path d="M264.8 779.1l2.8 2.8l-2.8 2.8l-2.8 -2.8z"/>
<path d="M261.2 780.9l2.8 2.8l-2.8 2.8l-2.8 -2.8z"/>
<path d="M264.8 786.3l2.8 2.8l-2.8 2.8l-2.8 -2.8z"/>
<path d="M248.6 777.3l2.8 2.8l-2.8 2.8l-2.8 -2.8z"/>
<path d="M246.8 782.7l2.8 2.8l-2.8 2.8l-2.8 -2.8z"/>
<path d="M252.2 784.5l2.8 2.8l-2.8 2.8l-2.8 -2.8z"/>
<path d="M248.6 789.9l2.8 2.8l-2.8 2.8l-2.8 -2.8z"/>
<path d="M254.0 788.1l2.8 2.8l-2.8 2.8l-2.8 -2.8z"/>
<path d="M255.8 793.5l2.8 2.8l-2.8 2.8l-2.8 -2.8z"/>
<path d="M259.4 791.7l2.8 2.8l-2.8 2.8l-2.8 -2.8z"/>
<path d="M250.4 797.1l2.8 2.8l-2.8 2.8l-2.8 -2.8z"/>
<path d="M248.6 802.5l2.8 2.8l-2.8 2.8l-2.8 -2.8z"/>
<path d="M255.8 798.9l2.8 2.8l-2.8 2.8l-2.8 -2.8z"/>
<path d="M261.2 802.5l2.8 2.8l-2.8 2.8l-2.8 -2.8z"/>
<path d="M273.8 780.9l2.8 2.8l-2.8 2.8l-2.8 -2.8z"/>
<path d="M275.6 784.5l2.8 2.8l-2.8 2.8l-2.8 -2.8z"/>
<path d="M272.0 793.5l2.8 2.8l-2.8 2.8l-2.8 -2.8z"/>
<path d="M272.9 802.5l2.8 2.8l-2.8 2.8l-2.8 -2.8z"/>
<path d="M273.8 807.9l2.8 2.8l-2.8 2.8l-2.8 -2.8z"/>
<path d="M268.4 804.3l2.8 2.8l-2.8 2.8l-2.8 -2.8z"/>
<path d="M252.2 807.9l2.8 2.8l-2.8 2.8l-2.8 -2.8z"/>
<path d="M257.6 811.5l2.8 2.8l-2.8 2.8l-2.8 -2.8z"/>
<path d="M254.0 815.1l2.8 2.8l-2.8 2.8l-2.8 -2.8z"/>
<path d="M255.8 820.5l2.8 2.8l-2.8 2.8l-2.8 -2.8z"/>
<path d="M268.4 813.3l2.8 2.8l-2.8 2.8l-2.8 -2.8z"/>
<path d="M272.0 815.1l2.8 2.8l-2.8 2.8l-2.8 -2.8z"/>
<path d="M270.2 818.7l2.8 2.8l-2.8 2.8l-2.8 -2.8z"/>
<path d="M272.9 816.9l2.8 2.8l-2.8 2.8l-2.8 -2.8z"/>
<path d="M306.3 744.8l2.8 2.8l-2.8 2.8l-2.8 -2.8z"/>
<path d="M311.7 737.6l2.8 2.8l-2.8 2.8l-2.8 -2.8z"/>
<path d="M304.5 746.6l2.8 2.8l-2.8 2.8l-2.8 -2.8z"/>
<path d="M291.9 757.4l2.8 2.8l-2.8 2.8l-2.8 -2.8z"/>
<path d="M284.7 795.3l2.8 2.8l-2.8 2.8l-2.8 -2.8z"/>
<path d="M282.9 798.9l2.8 2.8l-2.8 2.8l-2.8 -2.8z"/>
<path d="M471.6 734.9l2.8 2.8l-2.8 2.8l-2.8 -2.8z"/>
<path d="M472.5 739.4l2.8 2.8l-2.8 2.8l-2.8 -2.8z"/>
<path d="M468.9 748.4l2.8 2.8l-2.8 2.8l-2.8 -2.8z"/>
<path d="M470.7 756.5l2.8 2.8l-2.8 2.8l-2.8 -2.8z"/>
<path d="M468.0 755.6l2.8 2.8l-2.8 2.8l-2.8 -2.8z"/>
<path d="M494.2 745.7l2.8 2.8l-2.8 2.8l-2.8 -2.8z"/>
<path d="M497.8 750.2l2.8 2.8l-2.8 2.8l-2.8 -2.8z"/>
<path d="M528.4 782.7l2.8 2.8l-2.8 2.8l-2.8 -2.8z"/>
<path d="M532.0 780.9l2.8 2.8l-2.8 2.8l-2.8 -2.8z"/>
<path d="M532.0 794.4l2.8 2.8l-2.8 2.8l-2.8 -2.8z"/>
<path d="M521.2 792.6l2.8 2.8l-2.8 2.8l-2.8 -2.8z"/>
<path d="M523.0 797.1l2.8 2.8l-2.8 2.8l-2.8 -2.8z"/>
<path d="M524.8 800.7l2.8 2.8l-2.8 2.8l-2.8 -2.8z"/>
<path d="M521.2 804.3l2.8 2.8l-2.8 2.8l-2.8 -2.8z"/>
<path d="M526.6 804.3l2.8 2.8l-2.8 2.8l-2.8 -2.8z"/>
<path d="M519.4 811.5l2.8 2.8l-2.8 2.8l-2.8 -2.8z"/>
<path d="M506.8 735.8l2.8 2.8l-2.8 2.8l-2.8 -2.8z"/>
<path d="M510.4 739.4l2.8 2.8l-2.8 2.8l-2.8 -2.8z"/>
<path d="M514.0 735.8l2.8 2.8l-2.8 2.8l-2.8 -2.8z"/>
<path d="M517.6 739.4l2.8 2.8l-2.8 2.8l-2.8 -2.8z"/>
<path d="M512.2 744.8l2.8 2.8l-2.8 2.8l-2.8 -2.8z"/>
<path d="M515.8 746.6l2.8 2.8l-2.8 2.8l-2.8 -2.8z"/>
<path d="M530.2 755.6l2.8 2.8l-2.8 2.8l-2.8 -2.8z"/>
<path d="M519.4 759.2l2.8 2.8l-2.8 2.8l-2.8 -2.8z"/>
<path d="M533.8 734.0l2.8 2.8l-2.8 2.8l-2.8 -2.8z"/>
<path d="M539.2 735.8l2.8 2.8l-2.8 2.8l-2.8 -2.8z"/>
<path d="M542.8 743.0l2.8 2.8l-2.8 2.8l-2.8 -2.8z"/>
<path d="M541.0 746.6l2.8 2.8l-2.8 2.8l-2.8 -2.8z"/>
<path d="M544.6 748.4l2.8 2.8l-2.8 2.8l-2.8 -2.8z"/>
<path d="M496.0 737.6l2.8 2.8l-2.8 2.8l-2.8 -2.8z"/>
<path d="M486.9 734.0l2.8 2.8l-2.8 2.8l-2.8 -2.8z"/>
<path d="M548.6 734.0l2.8 2.8l-2.8 2.8l-2.8 -2.8z"/>
<path d="M550.4 739.4l2.8 2.8l-2.8 2.8l-2.8 -2.8z"/>
<path d="M555.8 737.6l2.8 2.8l-2.8 2.8l-2.8 -2.8z"/>
<path d="M552.2 744.8l2.8 2.8l-2.8 2.8l-2.8 -2.8z"/>
<path d="M555.8 748.4l2.8 2.8l-2.8 2.8l-2.8 -2.8z"/>
<path d="M559.4 750.2l2.8 2.8l-2.8 2.8l-2.8 -2.8z"/>
<path d="M563.0 752.0l2.8 2.8l-2.8 2.8l-2.8 -2.8z"/>
<path d="M557.6 755.6l2.8 2.8l-2.8 2.8l-2.8 -2.8z"/>
<path d="M548.6 755.6l2.8 2.8l-2.8 2.8l-2.8 -2.8z"/>
<path d="M568.4 750.2l2.8 2.8l-2.8 2.8l-2.8 -2.8z"/>
<path d="M572.0 746.6l2.8 2.8l-2.8 2.8l-2.8 -2.8z"/>
<path d="M575.6 743.0l2.8 2.8l-2.8 2.8l-2.8 -2.8z"/>
<path d="M579.3 741.2l2.8 2.8l-2.8 2.8l-2.8 -2.8z"/>
<path d="M581.1 735.8l2.8 2.8l-2.8 2.8l-2.8 -2.8z"/>
<path d="M586.5 734.0l2.8 2.8l-2.8 2.8l-2.8 -2.8z"/>
<path d="M588.3 739.4l2.8 2.8l-2.8 2.8l-2.8 -2.8z"/>
<path d="M590.1 744.8l2.8 2.8l-2.8 2.8l-2.8 -2.8z"/>
<path d="M595.5 746.6l2.8 2.8l-2.8 2.8l-2.8 -2.8z"/>
<path d="M591.9 752.0l2.8 2.8l-2.8 2.8l-2.8 -2.8z"/>
<path d="M584.7 753.8l2.8 2.8l-2.8 2.8l-2.8 -2.8z"/>
<path d="M581.1 759.2l2.8 2.8l-2.8 2.8l-2.8 -2.8z"/>
<path d="M586.5 761.0l2.8 2.8l-2.8 2.8l-2.8 -2.8z"/>
<path d="M577.4 764.6l2.8 2.8l-2.8 2.8l-2.8 -2.8z"/>
<path d="M584.7 768.3l2.8 2.8l-2.8 2.8l-2.8 -2.8z"/>
<path d="M591.9 764.6l2.8 2.8l-2.8 2.8l-2.8 -2.8z"/>
<path d="M595.5 768.3l2.8 2.8l-2.8 2.8l-2.8 -2.8z"/>
<path d="M599.1 773.7l2.8 2.8l-2.8 2.8l-2.8 -2.8z"/>
<path d="M602.7 777.3l2.8 2.8l-2.8 2.8l-2.8 -2.8z"/>
<path d="M593.7 773.7l2.8 2.8l-2.8 2.8l-2.8 -2.8z"/>
<path d="M590.1 780.9l2.8 2.8l-2.8 2.8l-2.8 -2.8z"/>
<path d="M588.3 782.7l2.8 2.8l-2.8 2.8l-2.8 -2.8z"/>
<path d="M602.7 753.8l2.8 2.8l-2.8 2.8l-2.8 -2.8z"/>
<path d="M608.1 764.6l2.8 2.8l-2.8 2.8l-2.8 -2.8z"/>
<path d="M611.7 770.1l2.8 2.8l-2.8 2.8l-2.8 -2.8z"/>
<path d="M609.9 780.9l2.8 2.8l-2.8 2.8l-2.8 -2.8z"/>
<path d="M613.5 786.3l2.8 2.8l-2.8 2.8l-2.8 -2.8z"/>
<path d="M609.9 791.7l2.8 2.8l-2.8 2.8l-2.8 -2.8z"/>
<path d="M606.3 795.3l2.8 2.8l-2.8 2.8l-2.8 -2.8z"/>
<path d="M602.7 793.5l2.8 2.8l-2.8 2.8l-2.8 -2.8z"/>
<path d="M613.5 793.5l2.8 2.8l-2.8 2.8l-2.8 -2.8z"/>
<path d="M599.1 795.3l2.8 2.8l-2.8 2.8l-2.8 -2.8z"/>
<path d="M563.0 766.5l2.8 2.8l-2.8 2.8l-2.8 -2.8z"/>
<path d="M566.6 770.1l2.8 2.8l-2.8 2.8l-2.8 -2.8z"/>
<path d="M564.8 773.7l2.8 2.8l-2.8 2.8l-2.8 -2.8z"/>
<path d="M572.0 761.0l2.8 2.8l-2.8 2.8l-2.8 -2.8z"/>
<path d="M573.8 764.6l2.8 2.8l-2.8 2.8l-2.8 -2.8z"/>
<path d="M570.2 768.3l2.8 2.8l-2.8 2.8l-2.8 -2.8z"/>
<path d="M606.3 734.0l2.8 2.8l-2.8 2.8l-2.8 -2.8z"/>
<path d="M655.0 734.0l2.8 2.8l-2.8 2.8l-2.8 -2.8z"/>
<path d="M669.4 734.0l2.8 2.8l-2.8 2.8l-2.8 -2.8z"/>
<path d="M667.6 737.6l2.8 2.8l-2.8 2.8l-2.8 -2.8z"/>
<path d="M655.9 750.2l2.8 2.8l-2.8 2.8l-2.8 -2.8z"/>
<path d="M667.6 752.0l2.8 2.8l-2.8 2.8l-2.8 -2.8z"/>
<path d="M671.2 759.2l2.8 2.8l-2.8 2.8l-2.8 -2.8z"/>
<path d="M664.0 761.0l2.8 2.8l-2.8 2.8l-2.8 -2.8z"/>
<path d="M653.2 768.3l2.8 2.8l-2.8 2.8l-2.8 -2.8z"/>
<path d="M687.4 746.6l2.8 2.8l-2.8 2.8l-2.8 -2.8z"/>
<path d="M691.0 762.8l2.8 2.8l-2.8 2.8l-2.8 -2.8z"/>
<path d="M676.6 771.0l2.8 2.8l-2.8 2.8l-2.8 -2.8z"/>
<path d="M671.2 779.1l2.8 2.8l-2.8 2.8l-2.8 -2.8z"/>
<path d="M674.8 777.3l2.8 2.8l-2.8 2.8l-2.8 -2.8z"/>
<path d="M653.2 777.3l2.8 2.8l-2.8 2.8l-2.8 -2.8z"/>
<path d="M656.8 780.9l2.8 2.8l-2.8 2.8l-2.8 -2.8z"/>
<path d="M660.4 779.1l2.8 2.8l-2.8 2.8l-2.8 -2.8z"/>
<path d="M644.2 786.3l2.8 2.8l-2.8 2.8l-2.8 -2.8z"/>
<path d="M649.6 789.9l2.8 2.8l-2.8 2.8l-2.8 -2.8z"/>
<path d="M647.8 797.1l2.8 2.8l-2.8 2.8l-2.8 -2.8z"/>
<path d="M653.2 786.3l2.8 2.8l-2.8 2.8l-2.8 -2.8z"/>
<path d="M658.6 789.9l2.8 2.8l-2.8 2.8l-2.8 -2.8z"/>
<path d="M664.0 788.1l2.8 2.8l-2.8 2.8l-2.8 -2.8z"/>
<path d="M660.4 795.3l2.8 2.8l-2.8 2.8l-2.8 -2.8z"/>
<path d="M664.0 800.7l2.8 2.8l-2.8 2.8l-2.8 -2.8z"/>
<path d="M667.6 784.5l2.8 2.8l-2.8 2.8l-2.8 -2.8z"/>
<path d="M682.0 777.3l2.8 2.8l-2.8 2.8l-2.8 -2.8z"/>
<path d="M685.6 780.9l2.8 2.8l-2.8 2.8l-2.8 -2.8z"/>
<path d="M689.2 777.3l2.8 2.8l-2.8 2.8l-2.8 -2.8z"/>
<path d="M692.8 775.5l2.8 2.8l-2.8 2.8l-2.8 -2.8z"/>
<path d="M683.8 786.3l2.8 2.8l-2.8 2.8l-2.8 -2.8z"/>
<path d="M689.2 786.3l2.8 2.8l-2.8 2.8l-2.8 -2.8z"/>
<path d="M692.8 786.3l2.8 2.8l-2.8 2.8l-2.8 -2.8z"/>
<path d="M685.6 791.7l2.8 2.8l-2.8 2.8l-2.8 -2.8z"/>
<path d="M691.0 793.5l2.8 2.8l-2.8 2.8l-2.8 -2.8z"/>
<path d="M678.4 788.1l2.8 2.8l-2.8 2.8l-2.8 -2.8z"/>
<path d="M674.8 798.9l2.8 2.8l-2.8 2.8l-2.8 -2.8z"/>
<path d="M680.2 800.7l2.8 2.8l-2.8 2.8l-2.8 -2.8z"/>
<path d="M683.8 804.3l2.8 2.8l-2.8 2.8l-2.8 -2.8z"/>
<path d="M631.5 788.1l2.8 2.8l-2.8 2.8l-2.8 -2.8z"/>
<path d="M635.1 785.4l2.8 2.8l-2.8 2.8l-2.8 -2.8z"/>
<path d="M629.7 791.7l2.8 2.8l-2.8 2.8l-2.8 -2.8z"/>
<path d="M636.9 800.7l2.8 2.8l-2.8 2.8l-2.8 -2.8z"/>
<path d="M633.3 806.1l2.8 2.8l-2.8 2.8l-2.8 -2.8z"/>
<path d="M638.7 809.7l2.8 2.8l-2.8 2.8l-2.8 -2.8z"/>
<path d="M646.0 807.9l2.8 2.8l-2.8 2.8l-2.8 -2.8z"/>
<path d="M649.6 811.5l2.8 2.8l-2.8 2.8l-2.8 -2.8z"/>
<path d="M653.2 815.1l2.8 2.8l-2.8 2.8l-2.8 -2.8z"/>
<path d="M642.3 815.1l2.8 2.8l-2.8 2.8l-2.8 -2.8z"/>
<path d="M646.0 818.7l2.8 2.8l-2.8 2.8l-2.8 -2.8z"/>
<path d="M649.6 822.3l2.8 2.8l-2.8 2.8l-2.8 -2.8z"/>
<path d="M638.7 829.5l2.8 2.8l-2.8 2.8l-2.8 -2.8z"/>
<path d="M642.3 827.7l2.8 2.8l-2.8 2.8l-2.8 -2.8z"/>
<path d="M635.1 818.7l2.8 2.8l-2.8 2.8l-2.8 -2.8z"/>
<path d="M669.4 815.1l2.8 2.8l-2.8 2.8l-2.8 -2.8z"/>
<path d="M680.2 813.3l2.8 2.8l-2.8 2.8l-2.8 -2.8z"/>
<path d="M682.0 816.9l2.8 2.8l-2.8 2.8l-2.8 -2.8z"/>
<path d="M680.2 825.9l2.8 2.8l-2.8 2.8l-2.8 -2.8z"/>
<path d="M671.2 807.9l2.8 2.8l-2.8 2.8l-2.8 -2.8z"/>
<path d="M678.4 809.7l2.8 2.8l-2.8 2.8l-2.8 -2.8z"/>
<path d="M615.3 816.9l2.8 2.8l-2.8 2.8l-2.8 -2.8z"/>
<path d="M618.9 818.7l2.8 2.8l-2.8 2.8l-2.8 -2.8z"/>
<path d="M620.7 815.1l2.8 2.8l-2.8 2.8l-2.8 -2.8z"/>
<path d="M624.3 820.5l2.8 2.8l-2.8 2.8l-2.8 -2.8z"/>
<path d="M627.9 816.9l2.8 2.8l-2.8 2.8l-2.8 -2.8z"/>
<path d="M629.7 822.3l2.8 2.8l-2.8 2.8l-2.8 -2.8z"/>
<path d="M631.5 825.9l2.8 2.8l-2.8 2.8l-2.8 -2.8z"/>
<path d="M622.5 824.1l2.8 2.8l-2.8 2.8l-2.8 -2.8z"/>
<path d="M617.1 822.3l2.8 2.8l-2.8 2.8l-2.8 -2.8z"/>
<path d="M626.1 813.3l2.8 2.8l-2.8 2.8l-2.8 -2.8z"/>
<path d="M557.6 749.3l2.8 2.8l-2.8 2.8l-2.8 -2.8z"/>
<path d="M560.3 747.5l2.8 2.8l-2.8 2.8l-2.8 -2.8z"/>
<path d="M566.6 788.1l2.8 2.8l-2.8 2.8l-2.8 -2.8z"/>
<path d="M570.2 791.7l2.8 2.8l-2.8 2.8l-2.8 -2.8z"/>
<path d="M569.3 784.5l2.8 2.8l-2.8 2.8l-2.8 -2.8z"/>
<path d="M573.8 789.9l2.8 2.8l-2.8 2.8l-2.8 -2.8z"/>
<path d="M706.3 742.1l2.8 2.8l-2.8 2.8l-2.8 -2.8z"/>
<path d="M710.8 739.4l2.8 2.8l-2.8 2.8l-2.8 -2.8z"/>
<path d="M715.4 737.6l2.8 2.8l-2.8 2.8l-2.8 -2.8z"/>
<path d="M712.6 744.8l2.8 2.8l-2.8 2.8l-2.8 -2.8z"/>
<path d="M716.3 750.2l2.8 2.8l-2.8 2.8l-2.8 -2.8z"/>
<path d="M707.2 755.6l2.8 2.8l-2.8 2.8l-2.8 -2.8z"/>
<path d="M710.8 759.2l2.8 2.8l-2.8 2.8l-2.8 -2.8z"/>
<path d="M714.4 762.8l2.8 2.8l-2.8 2.8l-2.8 -2.8z"/>
<path d="M719.9 759.2l2.8 2.8l-2.8 2.8l-2.8 -2.8z"/>
<path d="M723.5 755.6l2.8 2.8l-2.8 2.8l-2.8 -2.8z"/>
<path d="M727.1 750.2l2.8 2.8l-2.8 2.8l-2.8 -2.8z"/>
<path d="M730.7 746.6l2.8 2.8l-2.8 2.8l-2.8 -2.8z"/>
<path d="M732.5 743.0l2.8 2.8l-2.8 2.8l-2.8 -2.8z"/>
<path d="M737.9 741.2l2.8 2.8l-2.8 2.8l-2.8 -2.8z"/>
<path d="M736.1 750.2l2.8 2.8l-2.8 2.8l-2.8 -2.8z"/>
<path d="M739.7 756.5l2.8 2.8l-2.8 2.8l-2.8 -2.8z"/>
<path d="M728.9 764.6l2.8 2.8l-2.8 2.8l-2.8 -2.8z"/>
<path d="M730.7 768.3l2.8 2.8l-2.8 2.8l-2.8 -2.8z"/>
<path d="M705.4 768.3l2.8 2.8l-2.8 2.8l-2.8 -2.8z"/>
<path d="M703.6 775.5l2.8 2.8l-2.8 2.8l-2.8 -2.8z"/>
<path d="M700.0 779.1l2.8 2.8l-2.8 2.8l-2.8 -2.8z"/>
<path d="M705.4 782.7l2.8 2.8l-2.8 2.8l-2.8 -2.8z"/>
<path d="M709.0 789.9l2.8 2.8l-2.8 2.8l-2.8 -2.8z"/>
<path d="M700.0 788.1l2.8 2.8l-2.8 2.8l-2.8 -2.8z"/>
<path d="M698.2 798.9l2.8 2.8l-2.8 2.8l-2.8 -2.8z"/>
<path d="M696.4 784.5l2.8 2.8l-2.8 2.8l-2.8 -2.8z"/>
<path d="M719.9 773.7l2.8 2.8l-2.8 2.8l-2.8 -2.8z"/>
<path d="M725.3 777.3l2.8 2.8l-2.8 2.8l-2.8 -2.8z"/>
<path d="M728.9 782.7l2.8 2.8l-2.8 2.8l-2.8 -2.8z"/>
<path d="M723.5 786.3l2.8 2.8l-2.8 2.8l-2.8 -2.8z"/>
<path d="M719.9 789.9l2.8 2.8l-2.8 2.8l-2.8 -2.8z"/>
<path d="M727.1 788.1l2.8 2.8l-2.8 2.8l-2.8 -2.8z"/>
<path d="M734.3 784.5l2.8 2.8l-2.8 2.8l-2.8 -2.8z"/>
<path d="M737.9 793.5l2.8 2.8l-2.8 2.8l-2.8 -2.8z"/>
<path d="M741.5 789.9l2.8 2.8l-2.8 2.8l-2.8 -2.8z"/>
<path d="M745.1 795.3l2.8 2.8l-2.8 2.8l-2.8 -2.8z"/>
<path d="M748.7 791.7l2.8 2.8l-2.8 2.8l-2.8 -2.8z"/>
<path d="M754.1 788.1l2.8 2.8l-2.8 2.8l-2.8 -2.8z"/>
<path d="M759.5 786.3l2.8 2.8l-2.8 2.8l-2.8 -2.8z"/>
<path d="M752.3 797.1l2.8 2.8l-2.8 2.8l-2.8 -2.8z"/>
<path d="M757.7 798.9l2.8 2.8l-2.8 2.8l-2.8 -2.8z"/>
<path d="M763.1 800.7l2.8 2.8l-2.8 2.8l-2.8 -2.8z"/>
<path d="M766.7 795.3l2.8 2.8l-2.8 2.8l-2.8 -2.8z"/>
<path d="M768.5 789.9l2.8 2.8l-2.8 2.8l-2.8 -2.8z"/>
<path d="M772.1 793.5l2.8 2.8l-2.8 2.8l-2.8 -2.8z"/>
<path d="M775.7 797.1l2.8 2.8l-2.8 2.8l-2.8 -2.8z"/>
<path d="M779.3 800.7l2.8 2.8l-2.8 2.8l-2.8 -2.8z"/>
<path d="M783.0 804.3l2.8 2.8l-2.8 2.8l-2.8 -2.8z"/>
<path d="M775.7 786.3l2.8 2.8l-2.8 2.8l-2.8 -2.8z"/>
<path d="M779.3 789.9l2.8 2.8l-2.8 2.8l-2.8 -2.8z"/>
<path d="M770.3 768.3l2.8 2.8l-2.8 2.8l-2.8 -2.8z"/>
<path d="M773.9 775.5l2.8 2.8l-2.8 2.8l-2.8 -2.8z"/>
<path d="M777.5 779.1l2.8 2.8l-2.8 2.8l-2.8 -2.8z"/>
<path d="M783.0 779.1l2.8 2.8l-2.8 2.8l-2.8 -2.8z"/>
<path d="M786.6 780.9l2.8 2.8l-2.8 2.8l-2.8 -2.8z"/>
<path d="M783.0 767.4l2.8 2.8l-2.8 2.8l-2.8 -2.8z"/>
<path d="M793.8 786.3l2.8 2.8l-2.8 2.8l-2.8 -2.8z"/>
<path d="M797.4 793.5l2.8 2.8l-2.8 2.8l-2.8 -2.8z"/>
<path d="M793.8 800.7l2.8 2.8l-2.8 2.8l-2.8 -2.8z"/>
<path d="M790.2 804.3l2.8 2.8l-2.8 2.8l-2.8 -2.8z"/>
<path d="M801.0 806.1l2.8 2.8l-2.8 2.8l-2.8 -2.8z"/>
<path d="M734.3 811.5l2.8 2.8l-2.8 2.8l-2.8 -2.8z"/>
<path d="M737.9 815.1l2.8 2.8l-2.8 2.8l-2.8 -2.8z"/>
<path d="M741.5 811.5l2.8 2.8l-2.8 2.8l-2.8 -2.8z"/>
<path d="M746.9 809.7l2.8 2.8l-2.8 2.8l-2.8 -2.8z"/>
<path d="M750.5 815.1l2.8 2.8l-2.8 2.8l-2.8 -2.8z"/>
<path d="M754.1 816.9l2.8 2.8l-2.8 2.8l-2.8 -2.8z"/>
<path d="M757.7 811.5l2.8 2.8l-2.8 2.8l-2.8 -2.8z"/>
<path d="M761.3 809.7l2.8 2.8l-2.8 2.8l-2.8 -2.8z"/>
<path d="M764.9 813.3l2.8 2.8l-2.8 2.8l-2.8 -2.8z"/>
<path d="M772.1 809.7l2.8 2.8l-2.8 2.8l-2.8 -2.8z"/>
<path d="M775.7 811.5l2.8 2.8l-2.8 2.8l-2.8 -2.8z"/>
<path d="M781.2 813.3l2.8 2.8l-2.8 2.8l-2.8 -2.8z"/>
<path d="M784.8 815.1l2.8 2.8l-2.8 2.8l-2.8 -2.8z"/>
<path d="M790.2 811.5l2.8 2.8l-2.8 2.8l-2.8 -2.8z"/>
<path d="M793.8 816.9l2.8 2.8l-2.8 2.8l-2.8 -2.8z"/>
<path d="M797.4 815.1l2.8 2.8l-2.8 2.8l-2.8 -2.8z"/>
<path d="M790.2 822.3l2.8 2.8l-2.8 2.8l-2.8 -2.8z"/>
<path d="M786.6 825.9l2.8 2.8l-2.8 2.8l-2.8 -2.8z"/>
<path d="M783.0 829.5l2.8 2.8l-2.8 2.8l-2.8 -2.8z"/>
<path d="M804.6 825.9l2.8 2.8l-2.8 2.8l-2.8 -2.8z"/>
<path d="M799.2 833.2l2.8 2.8l-2.8 2.8l-2.8 -2.8z"/>
<path d="M802.8 836.8l2.8 2.8l-2.8 2.8l-2.8 -2.8z"/>
<path d="M801.0 840.4l2.8 2.8l-2.8 2.8l-2.8 -2.8z"/>
<path d="M761.3 745.7l2.8 2.8l-2.8 2.8l-2.8 -2.8z"/>
<path d="M764.9 755.6l2.8 2.8l-2.8 2.8l-2.8 -2.8z"/>
<path d="M766.7 753.8l2.8 2.8l-2.8 2.8l-2.8 -2.8z"/>
<path d="M761.3 761.0l2.8 2.8l-2.8 2.8l-2.8 -2.8z"/>
<path d="M793.8 741.2l2.8 2.8l-2.8 2.8l-2.8 -2.8z"/>
<path d="M737.9 816.9l2.8 2.8l-2.8 2.8l-2.8 -2.8z"/>
<path d="M741.5 818.7l2.8 2.8l-2.8 2.8l-2.8 -2.8z"/>
<path d="M697.3 787.2l2.8 2.8l-2.8 2.8l-2.8 -2.8z"/>
<path d="M700.0 789.0l2.8 2.8l-2.8 2.8l-2.8 -2.8z"/>
<path d="M448.2 947.1l2.8 2.8l-2.8 2.8l-2.8 -2.8z"/>
<path d="M466.0 947.1l2.8 2.8l-2.8 2.8l-2.8 -2.8z"/>
<path d="M404.7 635.5l2.8 2.8l-2.8 2.8l-2.8 -2.8z"/>
<path d="M364.9 633.8l2.8 2.8l-2.8 2.8l-2.8 -2.8z"/>
<path d="M404.0 649.0l2.8 2.8l-2.8 2.8l-2.8 -2.8z"/>
<path d="M363.6 627.6l2.8 2.8l-2.8 2.8l-2.8 -2.8z"/>
<path d="M395.4 645.0l2.8 2.8l-2.8 2.8l-2.8 -2.8z"/>
<path d="M384.9 632.8l2.8 2.8l-2.8 2.8l-2.8 -2.8z"/>
<path d="M401.3 625.6l2.8 2.8l-2.8 2.8l-2.8 -2.8z"/>
<path d="M378.2 640.9l2.8 2.8l-2.8 2.8l-2.8 -2.8z"/>
<path d="M428.8 647.1l2.8 2.8l-2.8 2.8l-2.8 -2.8z"/>
<path d="M423.1 641.4l2.8 2.8l-2.8 2.8l-2.8 -2.8z"/>
<path d="M373.1 633.6l2.8 2.8l-2.8 2.8l-2.8 -2.8z"/>
<path d="M429.0 649.2l2.8 2.8l-2.8 2.8l-2.8 -2.8z"/>
<path d="M378.7 625.9l2.8 2.8l-2.8 2.8l-2.8 -2.8z"/>
<path d="M393.4 648.1l2.8 2.8l-2.8 2.8l-2.8 -2.8z"/>
<path d="M387.3 633.9l2.8 2.8l-2.8 2.8l-2.8 -2.8z"/>
<path d="M406.4 656.7l2.8 2.8l-2.8 2.8l-2.8 -2.8z"/>
<path d="M372.5 626.4l2.8 2.8l-2.8 2.8l-2.8 -2.8z"/>
<path d="M381.0 639.5l2.8 2.8l-2.8 2.8l-2.8 -2.8z"/>
<path d="M407.6 631.9l2.8 2.8l-2.8 2.8l-2.8 -2.8z"/>
<path d="M416.4 650.3l2.8 2.8l-2.8 2.8l-2.8 -2.8z"/>
<path d="M393.9 632.2l2.8 2.8l-2.8 2.8l-2.8 -2.8z"/>
<path d="M429.7 635.8l2.8 2.8l-2.8 2.8l-2.8 -2.8z"/>
<path d="M645.2 807.4l2.8 2.8l-2.8 2.8l-2.8 -2.8z"/>
<path d="M622.4 821.7l2.8 2.8l-2.8 2.8l-2.8 -2.8z"/>
<path d="M625.2 826.9l2.8 2.8l-2.8 2.8l-2.8 -2.8z"/>
<path d="M632.8 806.3l2.8 2.8l-2.8 2.8l-2.8 -2.8z"/>
<path d="M622.5 812.5l2.8 2.8l-2.8 2.8l-2.8 -2.8z"/>
<path d="M639.3 826.8l2.8 2.8l-2.8 2.8l-2.8 -2.8z"/>
<path d="M619.6 811.8l2.8 2.8l-2.8 2.8l-2.8 -2.8z"/>
<path d="M622.1 827.5l2.8 2.8l-2.8 2.8l-2.8 -2.8z"/>
<path d="M619.4 802.6l2.8 2.8l-2.8 2.8l-2.8 -2.8z"/>
<path d="M616.3 811.8l2.8 2.8l-2.8 2.8l-2.8 -2.8z"/>
<path d="M648.1 825.1l2.8 2.8l-2.8 2.8l-2.8 -2.8z"/>
<path d="M641.8 828.1l2.8 2.8l-2.8 2.8l-2.8 -2.8z"/>
<path d="M800.8 791.4l2.8 2.8l-2.8 2.8l-2.8 -2.8z"/>
<path d="M744.1 812.0l2.8 2.8l-2.8 2.8l-2.8 -2.8z"/>
<path d="M786.7 781.3l2.8 2.8l-2.8 2.8l-2.8 -2.8z"/>
<path d="M780.5 793.1l2.8 2.8l-2.8 2.8l-2.8 -2.8z"/>
<path d="M758.4 791.5l2.8 2.8l-2.8 2.8l-2.8 -2.8z"/>
<path d="M742.9 780.3l2.8 2.8l-2.8 2.8l-2.8 -2.8z"/>
<path d="M751.3 792.1l2.8 2.8l-2.8 2.8l-2.8 -2.8z"/>
<path d="M802.6 784.4l2.8 2.8l-2.8 2.8l-2.8 -2.8z"/>
<path d="M803.3 787.3l2.8 2.8l-2.8 2.8l-2.8 -2.8z"/>
<path d="M757.1 808.1l2.8 2.8l-2.8 2.8l-2.8 -2.8z"/>
<path d="M792.5 794.9l2.8 2.8l-2.8 2.8l-2.8 -2.8z"/>
<path d="M733.7 796.3l2.8 2.8l-2.8 2.8l-2.8 -2.8z"/>
<path d="M758.3 811.5l2.8 2.8l-2.8 2.8l-2.8 -2.8z"/>
<path d="M744.7 792.6l2.8 2.8l-2.8 2.8l-2.8 -2.8z"/>
<path d="M798.2 781.2l2.8 2.8l-2.8 2.8l-2.8 -2.8z"/>
<path d="M761.2 807.8l2.8 2.8l-2.8 2.8l-2.8 -2.8z"/>
<path d="M788.3 781.6l2.8 2.8l-2.8 2.8l-2.8 -2.8z"/>
<path d="M732.6 782.3l2.8 2.8l-2.8 2.8l-2.8 -2.8z"/>
<path d="M799.9 788.9l2.8 2.8l-2.8 2.8l-2.8 -2.8z"/>
<path d="M786.8 810.8l2.8 2.8l-2.8 2.8l-2.8 -2.8z"/>
<path d="M566.8 714.6l2.8 2.8l-2.8 2.8l-2.8 -2.8z"/>
<path d="M613.8 751.8l2.8 2.8l-2.8 2.8l-2.8 -2.8z"/>
<path d="M560.9 762.6l2.8 2.8l-2.8 2.8l-2.8 -2.8z"/>
<path d="M565.1 715.0l2.8 2.8l-2.8 2.8l-2.8 -2.8z"/>
<path d="M541.3 766.8l2.8 2.8l-2.8 2.8l-2.8 -2.8z"/>
<path d="M610.7 753.7l2.8 2.8l-2.8 2.8l-2.8 -2.8z"/>
<path d="M612.7 687.8l2.8 2.8l-2.8 2.8l-2.8 -2.8z"/>
<path d="M558.8 736.5l2.8 2.8l-2.8 2.8l-2.8 -2.8z"/>
<path d="M613.7 788.2l2.8 2.8l-2.8 2.8l-2.8 -2.8z"/>
<path d="M570.4 712.3l2.8 2.8l-2.8 2.8l-2.8 -2.8z"/>
<path d="M573.7 738.5l2.8 2.8l-2.8 2.8l-2.8 -2.8z"/>
<path d="M611.5 705.0l2.8 2.8l-2.8 2.8l-2.8 -2.8z"/>
<path d="M602.0 765.0l2.8 2.8l-2.8 2.8l-2.8 -2.8z"/>
<path d="M603.5 768.7l2.8 2.8l-2.8 2.8l-2.8 -2.8z"/>
<path d="M587.2 720.6l2.8 2.8l-2.8 2.8l-2.8 -2.8z"/>
<path d="M565.3 724.3l2.8 2.8l-2.8 2.8l-2.8 -2.8z"/>
<path d="M600.5 693.7l2.8 2.8l-2.8 2.8l-2.8 -2.8z"/>
<path d="M556.0 766.5l2.8 2.8l-2.8 2.8l-2.8 -2.8z"/>
<path d="M559.8 692.2l2.8 2.8l-2.8 2.8l-2.8 -2.8z"/>
<path d="M543.6 744.9l2.8 2.8l-2.8 2.8l-2.8 -2.8z"/>
<path d="M674.6 799.5l2.8 2.8l-2.8 2.8l-2.8 -2.8z"/>
<path d="M725.4 799.8l2.8 2.8l-2.8 2.8l-2.8 -2.8z"/>
<path d="M669.1 769.1l2.8 2.8l-2.8 2.8l-2.8 -2.8z"/>
<path d="M653.8 783.1l2.8 2.8l-2.8 2.8l-2.8 -2.8z"/>
<path d="M709.6 781.4l2.8 2.8l-2.8 2.8l-2.8 -2.8z"/>
<path d="M666.3 780.4l2.8 2.8l-2.8 2.8l-2.8 -2.8z"/>
<path d="M701.4 789.1l2.8 2.8l-2.8 2.8l-2.8 -2.8z"/>
<path d="M713.1 795.0l2.8 2.8l-2.8 2.8l-2.8 -2.8z"/>
<path d="M705.5 770.3l2.8 2.8l-2.8 2.8l-2.8 -2.8z"/>
<path d="M721.5 776.2l2.8 2.8l-2.8 2.8l-2.8 -2.8z"/>
<path d="M696.6 778.9l2.8 2.8l-2.8 2.8l-2.8 -2.8z"/>
<path d="M712.2 773.0l2.8 2.8l-2.8 2.8l-2.8 -2.8z"/>
<path d="M182.2 753.4l2.8 2.8l-2.8 2.8l-2.8 -2.8z"/>
<path d="M171.9 800.6l2.8 2.8l-2.8 2.8l-2.8 -2.8z"/>
<path d="M218.6 759.3l2.8 2.8l-2.8 2.8l-2.8 -2.8z"/>
<path d="M198.6 808.6l2.8 2.8l-2.8 2.8l-2.8 -2.8z"/>
<path d="M210.8 752.3l2.8 2.8l-2.8 2.8l-2.8 -2.8z"/>
<path d="M243.9 783.5l2.8 2.8l-2.8 2.8l-2.8 -2.8z"/>
<path d="M264.0 742.8l2.8 2.8l-2.8 2.8l-2.8 -2.8z"/>
<path d="M207.2 795.8l2.8 2.8l-2.8 2.8l-2.8 -2.8z"/>
<path d="M247.5 802.9l2.8 2.8l-2.8 2.8l-2.8 -2.8z"/>
<path d="M159.4 756.9l2.8 2.8l-2.8 2.8l-2.8 -2.8z"/>
<path d="M168.1 749.2l2.8 2.8l-2.8 2.8l-2.8 -2.8z"/>
<path d="M262.0 778.4l2.8 2.8l-2.8 2.8l-2.8 -2.8z"/>
<path d="M257.3 762.7l2.8 2.8l-2.8 2.8l-2.8 -2.8z"/>
<path d="M250.3 768.4l2.8 2.8l-2.8 2.8l-2.8 -2.8z"/>
<path d="M183.6 792.8l2.8 2.8l-2.8 2.8l-2.8 -2.8z"/>
<path d="M401.8 651.8l2.8 2.8l-2.8 2.8l-2.8 -2.8z"/>
<path d="M356.1 668.8l2.8 2.8l-2.8 2.8l-2.8 -2.8z"/>
<path d="M302.6 721.7l2.8 2.8l-2.8 2.8l-2.8 -2.8z"/>
<path d="M355.5 668.0l2.8 2.8l-2.8 2.8l-2.8 -2.8z"/>
<path d="M288.4 744.5l2.8 2.8l-2.8 2.8l-2.8 -2.8z"/>
<path d="M308.0 715.7l2.8 2.8l-2.8 2.8l-2.8 -2.8z"/>
<path d="M380.0 646.8l2.8 2.8l-2.8 2.8l-2.8 -2.8z"/>
<path d="M298.8 731.8l2.8 2.8l-2.8 2.8l-2.8 -2.8z"/>
<path d="M357.8 662.7l2.8 2.8l-2.8 2.8l-2.8 -2.8z"/>
<path d="M365.4 658.6l2.8 2.8l-2.8 2.8l-2.8 -2.8z"/>
<path d="M324.3 703.8l2.8 2.8l-2.8 2.8l-2.8 -2.8z"/>
<path d="M350.6 675.7l2.8 2.8l-2.8 2.8l-2.8 -2.8z"/>
<path d="M392.6 650.2l2.8 2.8l-2.8 2.8l-2.8 -2.8z"/>
<path d="M311.0 714.4l2.8 2.8l-2.8 2.8l-2.8 -2.8z"/>
<path d="M290.1 740.3l2.8 2.8l-2.8 2.8l-2.8 -2.8z"/>
<path d="M383.3 661.5l2.8 2.8l-2.8 2.8l-2.8 -2.8z"/>
<path d="M337.8 680.1l2.8 2.8l-2.8 2.8l-2.8 -2.8z"/>
<path d="M350.0 686.8l2.8 2.8l-2.8 2.8l-2.8 -2.8z"/>
<path d="M298.3 729.8l2.8 2.8l-2.8 2.8l-2.8 -2.8z"/>
<path d="M342.7 680.3l2.8 2.8l-2.8 2.8l-2.8 -2.8z"/>
<path d="M347.7 675.0l2.8 2.8l-2.8 2.8l-2.8 -2.8z"/>
<path d="M343.8 694.8l2.8 2.8l-2.8 2.8l-2.8 -2.8z"/>
<path d="M308.7 728.4l2.8 2.8l-2.8 2.8l-2.8 -2.8z"/>
<path d="M407.9 640.4l2.8 2.8l-2.8 2.8l-2.8 -2.8z"/>
<path d="M399.9 658.4l2.8 2.8l-2.8 2.8l-2.8 -2.8z"/>
<path d="M358.6 664.8l2.8 2.8l-2.8 2.8l-2.8 -2.8z"/>
<path d="M377.3 654.0l2.8 2.8l-2.8 2.8l-2.8 -2.8z"/>
<path d="M389.1 647.3l2.8 2.8l-2.8 2.8l-2.8 -2.8z"/>
<path d="M312.1 718.0l2.8 2.8l-2.8 2.8l-2.8 -2.8z"/>
<path d="M329.2 693.5l2.8 2.8l-2.8 2.8l-2.8 -2.8z"/>
<path d="M371.3 651.5l2.8 2.8l-2.8 2.8l-2.8 -2.8z"/>
<path d="M351.7 669.0l2.8 2.8l-2.8 2.8l-2.8 -2.8z"/>
<path d="M385.0 655.5l2.8 2.8l-2.8 2.8l-2.8 -2.8z"/>
<path d="M349.8 675.5l2.8 2.8l-2.8 2.8l-2.8 -2.8z"/>
<path d="M335.0 692.6l2.8 2.8l-2.8 2.8l-2.8 -2.8z"/>
<path d="M361.4 665.7l2.8 2.8l-2.8 2.8l-2.8 -2.8z"/>
<path d="M290.9 739.5l2.8 2.8l-2.8 2.8l-2.8 -2.8z"/>
<path d="M315.5 721.0l2.8 2.8l-2.8 2.8l-2.8 -2.8z"/>
<path d="M337.6 689.1l2.8 2.8l-2.8 2.8l-2.8 -2.8z"/>
<path d="M298.4 728.9l2.8 2.8l-2.8 2.8l-2.8 -2.8z"/>
<path d="M297.9 732.2l2.8 2.8l-2.8 2.8l-2.8 -2.8z"/>
<path d="M293.0 729.8l2.8 2.8l-2.8 2.8l-2.8 -2.8z"/>
<path d="M372.1 659.8l2.8 2.8l-2.8 2.8l-2.8 -2.8z"/>
<path d="M293.9 733.9l2.8 2.8l-2.8 2.8l-2.8 -2.8z"/>
<path d="M402.7 656.6l2.8 2.8l-2.8 2.8l-2.8 -2.8z"/>
<path d="M501.6 742.9l2.8 2.8l-2.8 2.8l-2.8 -2.8z"/>
<path d="M434.5 670.1l2.8 2.8l-2.8 2.8l-2.8 -2.8z"/>
<path d="M498.8 729.4l2.8 2.8l-2.8 2.8l-2.8 -2.8z"/>
<path d="M483.9 714.3l2.8 2.8l-2.8 2.8l-2.8 -2.8z"/>
<path d="M446.4 678.6l2.8 2.8l-2.8 2.8l-2.8 -2.8z"/>
<path d="M490.9 735.0l2.8 2.8l-2.8 2.8l-2.8 -2.8z"/>
<path d="M428.6 672.5l2.8 2.8l-2.8 2.8l-2.8 -2.8z"/>
<path d="M432.8 671.6l2.8 2.8l-2.8 2.8l-2.8 -2.8z"/>
<path d="M440.8 676.3l2.8 2.8l-2.8 2.8l-2.8 -2.8z"/>
<path d="M431.7 670.2l2.8 2.8l-2.8 2.8l-2.8 -2.8z"/>
<path d="M490.4 734.4l2.8 2.8l-2.8 2.8l-2.8 -2.8z"/>
<path d="M426.3 665.4l2.8 2.8l-2.8 2.8l-2.8 -2.8z"/>
<path d="M447.7 685.6l2.8 2.8l-2.8 2.8l-2.8 -2.8z"/>
<path d="M465.8 697.6l2.8 2.8l-2.8 2.8l-2.8 -2.8z"/>
<path d="M500.9 735.9l2.8 2.8l-2.8 2.8l-2.8 -2.8z"/>
<path d="M482.0 729.8l2.8 2.8l-2.8 2.8l-2.8 -2.8z"/>
<path d="M463.5 707.9l2.8 2.8l-2.8 2.8l-2.8 -2.8z"/>
<path d="M452.0 695.4l2.8 2.8l-2.8 2.8l-2.8 -2.8z"/>
<path d="M422.0 653.5l2.8 2.8l-2.8 2.8l-2.8 -2.8z"/>
<path d="M470.7 710.7l2.8 2.8l-2.8 2.8l-2.8 -2.8z"/>
</g>
<line x1="281.4" y1="10.0" x2="281.4" y2="463.1" stroke="#5b8a62" stroke-width="2.2"/>
<line x1="93.6" y1="300.6" x2="826.5" y2="300.6" stroke="#d4973f" stroke-width="2.4"/>
<line x1="279.5" y1="514.4" x2="279.5" y2="967.6" stroke="#5b8a62" stroke-width="2.2"/>
<line x1="93.6" y1="813.4" x2="808.0" y2="813.4" stroke="#d4973f" stroke-width="2.4"/>
<path d="M281.5 300.3 L282.5 289.8 L283.0 274.9 L284.5 259.9 L286.0 244.9 L288.0 234.9 L288.5 225.0 L290.0 218.0 L291.5 214.8 L296.0 211.0 L302.0 207.0 L308.0 203.5 L315.1 199.5 L322.9 194.1 L330.7 188.6 L338.5 183.1 L346.3 176.9 L354.1 171.4 L361.9 165.9 L369.8 160.5 L377.6 155.0 L385.4 149.5 L393.2 144.8 L399.5 142.3 L406.0 143.2 L412.5 145.6 L423.3 148.8 L434.1 151.0 L444.9 154.2 L453.6 159.6 L462.2 167.2 L470.9 173.7 L479.5 180.2 L488.2 187.7 L496.8 195.3 L505.5 202.9 L514.1 209.4 L522.8 215.9 L531.5 222.4 L540.1 228.9 L548.8 235.3 L556.7 241.8 L563.5 246.9 L570.2 251.9 L576.9 256.1 L583.7 260.3 L590.4 264.5 L597.1 268.7 L603.8 273.8 L610.6 277.2 L617.3 278.8 L625.7 278.8 L634.1 278.5 L642.5 277.2 L651.0 275.5 L659.4 273.0 L667.8 270.4 L676.2 268.7 L680.0 267.8 L686.0 266.0 L692.0 264.2 L698.0 263.0 L704.0 263.6 L710.0 266.6 L716.1 269.6 L722.1 272.0 L728.1 274.4 L734.1 277.5 L740.1 280.5 L746.1 284.7 L752.1 288.3 L758.1 291.3 L762.9 293.7 L763.5 300.3Z" fill="#e5a59d" fill-opacity="0.5" stroke="#111" stroke-width="2.2" stroke-linejoin="round"/>
<path d="M279.7 813.3 L280.8 795.8 L283.0 778.5 L285.3 767.8 L287.8 757.7 L292.8 752.6 L301.2 744.2 L309.7 735.8 L318.1 727.4 L326.5 719.0 L331.5 714.0 L336.6 707.2 L343.3 700.5 L351.7 692.1 L360.1 683.7 L366.9 676.9 L373.6 671.9 L380.3 670.2 L390.4 668.5 L400.5 666.0 L411.8 663.2 L416.8 666.0 L421.9 671.9 L428.6 678.6 L435.3 686.2 L442.1 693.7 L448.8 700.5 L455.5 706.4 L462.3 713.9 L469.0 722.4 L475.7 729.1 L484.1 735.8 L492.5 743.4 L501.0 751.0 L509.4 757.7 L517.8 764.4 L526.2 770.3 L530.0 772.9 L535.1 774.9 L540.2 775.9 L545.3 777.5 L550.4 780.0 L555.5 781.6 L560.6 783.1 L565.8 785.1 L570.9 787.2 L576.0 788.7 L581.1 790.8 L586.2 793.8 L591.3 797.9 L596.4 801.5 L601.5 804.0 L602.0 813.3Z" fill="#e5a59d" fill-opacity="0.5" stroke="#111" stroke-width="2.2" stroke-linejoin="round"/>
<path d="M93.6 10.0V463.1H826.5" fill="none" stroke="#111" stroke-width="2.3"/>
<line x1="79" y1="447.2" x2="93.6" y2="447.2" stroke="#111" stroke-width="2.2"/>
<line x1="79" y1="341.5" x2="93.6" y2="341.5" stroke="#111" stroke-width="2.2"/>
<line x1="79" y1="235.8" x2="93.6" y2="235.8" stroke="#111" stroke-width="2.2"/>
<line x1="79" y1="130.2" x2="93.6" y2="130.2" stroke="#111" stroke-width="2.2"/>
<line x1="79" y1="24.5" x2="93.6" y2="24.5" stroke="#111" stroke-width="2.2"/>
<line x1="100.6" y1="463.1" x2="100.6" y2="471.1" stroke="#111" stroke-width="2.2"/>
<line x1="145.8" y1="463.1" x2="145.8" y2="467.3" stroke="#111" stroke-width="2.2"/>
<line x1="191.0" y1="463.1" x2="191.0" y2="467.3" stroke="#111" stroke-width="2.2"/>
<line x1="236.2" y1="463.1" x2="236.2" y2="467.3" stroke="#111" stroke-width="2.2"/>
<line x1="281.4" y1="463.1" x2="281.4" y2="471.1" stroke="#111" stroke-width="2.2"/>
<line x1="326.8" y1="463.1" x2="326.8" y2="467.3" stroke="#111" stroke-width="2.2"/>
<line x1="372.2" y1="463.1" x2="372.2" y2="467.3" stroke="#111" stroke-width="2.2"/>
<line x1="417.7" y1="463.1" x2="417.7" y2="467.3" stroke="#111" stroke-width="2.2"/>
<line x1="463.1" y1="463.1" x2="463.1" y2="471.1" stroke="#111" stroke-width="2.2"/>
<line x1="508.2" y1="463.1" x2="508.2" y2="467.3" stroke="#111" stroke-width="2.2"/>
<line x1="553.3" y1="463.1" x2="553.3" y2="467.3" stroke="#111" stroke-width="2.2"/>
<line x1="598.4" y1="463.1" x2="598.4" y2="467.3" stroke="#111" stroke-width="2.2"/>
<line x1="643.5" y1="463.1" x2="643.5" y2="471.1" stroke="#111" stroke-width="2.2"/>
<line x1="688.6" y1="463.1" x2="688.6" y2="467.3" stroke="#111" stroke-width="2.2"/>
<line x1="733.8" y1="463.1" x2="733.8" y2="467.3" stroke="#111" stroke-width="2.2"/>
<line x1="778.9" y1="463.1" x2="778.9" y2="467.3" stroke="#111" stroke-width="2.2"/>
<line x1="824.0" y1="463.1" x2="824.0" y2="471.1" stroke="#111" stroke-width="2.2"/>
<text transform="translate(75.8 446.9) rotate(-90) scale(0.92 1)" text-anchor="middle" class="b" font-size="27.5" stroke="#111" stroke-width="0.3">0</text>
<text transform="translate(75.8 341.2) rotate(-90) scale(0.92 1)" text-anchor="middle" class="b" font-size="27.5" stroke="#111" stroke-width="0.3">100</text>
<text transform="translate(75.8 235.5) rotate(-90) scale(0.92 1)" text-anchor="middle" class="b" font-size="27.5" stroke="#111" stroke-width="0.3">200</text>
<text transform="translate(75.8 129.9) rotate(-90) scale(0.92 1)" text-anchor="middle" class="b" font-size="27.5" stroke="#111" stroke-width="0.3">300</text>
<text transform="translate(75.8 24.2) rotate(-90) scale(0.92 1)" text-anchor="middle" class="b" font-size="27.5" stroke="#111" stroke-width="0.3">400</text>
<path d="M93.6 514.4V967.6H808.0" fill="none" stroke="#111" stroke-width="2.3"/>
<line x1="79" y1="952.0" x2="93.6" y2="952.0" stroke="#111" stroke-width="2.2"/>
<line x1="79" y1="846.1" x2="93.6" y2="846.1" stroke="#111" stroke-width="2.2"/>
<line x1="79" y1="740.3" x2="93.6" y2="740.3" stroke="#111" stroke-width="2.2"/>
<line x1="79" y1="634.5" x2="93.6" y2="634.5" stroke="#111" stroke-width="2.2"/>
<line x1="79" y1="528.6" x2="93.6" y2="528.6" stroke="#111" stroke-width="2.2"/>
<line x1="102.4" y1="967.6" x2="102.4" y2="975.6" stroke="#111" stroke-width="2.2"/>
<line x1="146.7" y1="967.6" x2="146.7" y2="971.8" stroke="#111" stroke-width="2.2"/>
<line x1="190.9" y1="967.6" x2="190.9" y2="971.8" stroke="#111" stroke-width="2.2"/>
<line x1="235.2" y1="967.6" x2="235.2" y2="971.8" stroke="#111" stroke-width="2.2"/>
<line x1="279.5" y1="967.6" x2="279.5" y2="975.6" stroke="#111" stroke-width="2.2"/>
<line x1="323.2" y1="967.6" x2="323.2" y2="971.8" stroke="#111" stroke-width="2.2"/>
<line x1="366.9" y1="967.6" x2="366.9" y2="971.8" stroke="#111" stroke-width="2.2"/>
<line x1="410.7" y1="967.6" x2="410.7" y2="971.8" stroke="#111" stroke-width="2.2"/>
<line x1="454.4" y1="967.6" x2="454.4" y2="975.6" stroke="#111" stroke-width="2.2"/>
<line x1="498.4" y1="967.6" x2="498.4" y2="971.8" stroke="#111" stroke-width="2.2"/>
<line x1="542.3" y1="967.6" x2="542.3" y2="971.8" stroke="#111" stroke-width="2.2"/>
<line x1="586.2" y1="967.6" x2="586.2" y2="971.8" stroke="#111" stroke-width="2.2"/>
<line x1="630.2" y1="967.6" x2="630.2" y2="975.6" stroke="#111" stroke-width="2.2"/>
<line x1="674.0" y1="967.6" x2="674.0" y2="971.8" stroke="#111" stroke-width="2.2"/>
<line x1="717.7" y1="967.6" x2="717.7" y2="971.8" stroke="#111" stroke-width="2.2"/>
<line x1="761.5" y1="967.6" x2="761.5" y2="971.8" stroke="#111" stroke-width="2.2"/>
<line x1="805.2" y1="967.6" x2="805.2" y2="975.6" stroke="#111" stroke-width="2.2"/>
<text transform="translate(75.8 951.7) rotate(-90) scale(0.92 1)" text-anchor="middle" class="b" font-size="27.5" stroke="#111" stroke-width="0.3">0</text>
<text transform="translate(75.8 845.9) rotate(-90) scale(0.92 1)" text-anchor="middle" class="b" font-size="27.5" stroke="#111" stroke-width="0.3">100</text>
<text transform="translate(75.8 740.0) rotate(-90) scale(0.92 1)" text-anchor="middle" class="b" font-size="27.5" stroke="#111" stroke-width="0.3">200</text>
<text transform="translate(75.8 634.2) rotate(-90) scale(0.92 1)" text-anchor="middle" class="b" font-size="27.5" stroke="#111" stroke-width="0.3">300</text>
<text transform="translate(75.8 528.3) rotate(-90) scale(0.92 1)" text-anchor="middle" class="b" font-size="27.5" stroke="#111" stroke-width="0.3">400</text>
<line x1="506.2" y1="114.8" x2="408.7" y2="137.2" stroke="#111" stroke-width="2"/>
<path d="M398.5 139.5L409.8 132.9L408.2 137.3L411.6 140.5Z" fill="#111"/>
<line x1="442.7" y1="328.7" x2="399.8" y2="230.2" stroke="#111" stroke-width="2"/>
<path d="M395.6 220.6L404.2 230.5L399.6 229.8L397.0 233.6Z" fill="#111"/>
<line x1="517.2" y1="631.6" x2="424.6" y2="655.0" stroke="#111" stroke-width="2"/>
<path d="M414.4 657.6L425.6 650.8L424.1 655.1L427.5 658.3Z" fill="#111"/>
<line x1="359.2" y1="840" x2="359.3" y2="748.0" stroke="#111" stroke-width="2"/>
<path d="M359.3 737.5L363.2 750.0L359.3 747.5L355.4 750.0Z" fill="#111"/>
<text x="4.3" y="34.2" class="b" font-size="42">A</text>
<text x="4.2" y="533" class="b" font-size="42">B</text>
<g transform="translate(0 0.0)" class="b"><text transform="translate(103.2 25.5) scale(1.3 1)" font-size="14.5">τ,</text><text transform="translate(119.5 25.5) scale(1.1 1)" font-size="14.5" font-style="italic">λ</text><rect x="135.2" y="19.6" width="8.5" height="2.5" fill="#111"/><text transform="translate(145.8 25.3) scale(1.42 1)" font-size="14">(0.2, 24)</text></g>
<g transform="translate(32.8 371) rotate(-90)"><text x="0.2" y="0" font-size="24" font-style="italic">M</text><text x="21.2" y="7.2" font-size="17">O</text><text x="34.2" y="10.5" font-size="12.5">2</text><text x="48.6" y="0" font-size="24">(</text><text x="57.2" y="0" font-size="24">μ</text><text x="71.8" y="0" font-size="24">m</text><text x="93.0" y="0" font-size="24">o</text><text x="107.1" y="0" font-size="24">l</text><text x="117.6" y="0" font-size="24">O</text><text x="135.9" y="7.2" font-size="17">2</text><text x="155.0" y="0" font-size="24">min</text><text x="194.0" y="-14.3" font-size="17.5">−1</text><text x="220.3" y="0" font-size="24">kg</text><text x="246.0" y="-14.3" font-size="17.5">−1</text><text x="266.6" y="0" font-size="24">)</text></g>
<circle cx="10.2" cy="358.4" r="1.5" fill="#111"/>
<g transform="translate(0 504.7)" class="b"><text transform="translate(103.2 25.5) scale(1.3 1)" font-size="14.5">τ,</text><text transform="translate(119.5 25.5) scale(1.1 1)" font-size="14.5" font-style="italic">λ</text><rect x="135.2" y="19.6" width="8.5" height="2.5" fill="#111"/><text transform="translate(145.8 25.3) scale(1.42 1)" font-size="14">(0.2, 24)</text></g>
<g transform="translate(32.8 875) rotate(-90)"><text x="0.2" y="0" font-size="24" font-style="italic">M</text><text x="21.2" y="7.2" font-size="17">O</text><text x="34.2" y="10.5" font-size="12.5">2</text><text x="48.6" y="0" font-size="24">(</text><text x="57.2" y="0" font-size="24">μ</text><text x="71.8" y="0" font-size="24">m</text><text x="93.0" y="0" font-size="24">o</text><text x="107.1" y="0" font-size="24">l</text><text x="117.6" y="0" font-size="24">O</text><text x="135.9" y="7.2" font-size="17">2</text><text x="155.0" y="0" font-size="24">min</text><text x="194.0" y="-14.3" font-size="17.5">−1</text><text x="220.3" y="0" font-size="24">kg</text><text x="246.0" y="-14.3" font-size="17.5">−1</text><text x="266.6" y="0" font-size="24">)</text></g>
<circle cx="10.2" cy="862.4" r="1.5" fill="#111"/>
<text transform="translate(512.14 118.1) scale(1.047 1)" font-size="18.7" class="ann">peak (net)</text>
<text transform="translate(601.77 118.1) scale(1.133 1)" font-size="18.7" class="ann">=</text>
<text x="619.8" y="118.1" font-size="18.7" class="ann">150.5</text>
<text x="535.5" y="139.8" font-size="18.7" class="ann">at 15.2 h</text>
<text x="448.4" y="324.5" font-size="18.7" class="ann">duration = 63.8 h</text>
<text x="436" y="345.5" font-size="18.7" class="ann">magnitude</text>
<text transform="translate(526.32 345.5) scale(1.188 1)" font-size="18.7" class="ann">=</text>
<text x="540.9" y="345.5" font-size="18.7" class="ann">289677</text>
<text transform="translate(524.56 637.5) scale(1.031 1)" font-size="18.7" class="ann">peak (net)</text>
<text transform="translate(612.21 637.5) scale(1.309 1)" font-size="18.7" class="ann">=</text>
<text x="629.3" y="637.5" font-size="18.7" class="ann">142.8</text>
<text x="546.7" y="655.6" font-size="18.7" class="ann">at 18.2 h</text>
<text x="375.7" y="836.7" font-size="18.7" class="ann">duration = 44 h</text>
<text x="354.1" y="857.9" font-size="18.7" class="ann">magnitude</text>
<text transform="translate(442.91 857.9) scale(1.309 1)" font-size="18.7" class="ann">=</text>
<text x="458.1" y="857.9" font-size="18.7" class="ann">209922</text>
<text transform="translate(97.8 1002.6) scale(0.92 1)" class="b" font-size="27.5" text-anchor="middle" stroke="#111" stroke-width="0.3">-24</text>
<text transform="translate(278 1002.6) scale(0.92 1)" class="b" font-size="27.5" text-anchor="middle" stroke="#111" stroke-width="0.3">0</text>
<text transform="translate(455 1002.6) scale(0.92 1)" class="b" font-size="27.5" text-anchor="middle" stroke="#111" stroke-width="0.3">24</text>
<text transform="translate(631 1002.6) scale(0.92 1)" class="b" font-size="27.5" text-anchor="middle" stroke="#111" stroke-width="0.3">48</text>
<text transform="translate(808 1002.6) scale(0.92 1)" class="b" font-size="27.5" text-anchor="middle" stroke="#111" stroke-width="0.3">72</text>
<text x="441.5" y="1040.8" class="b" font-size="26.3" text-anchor="middle">Time since feeding (h)</text>
</svg></body></html>
